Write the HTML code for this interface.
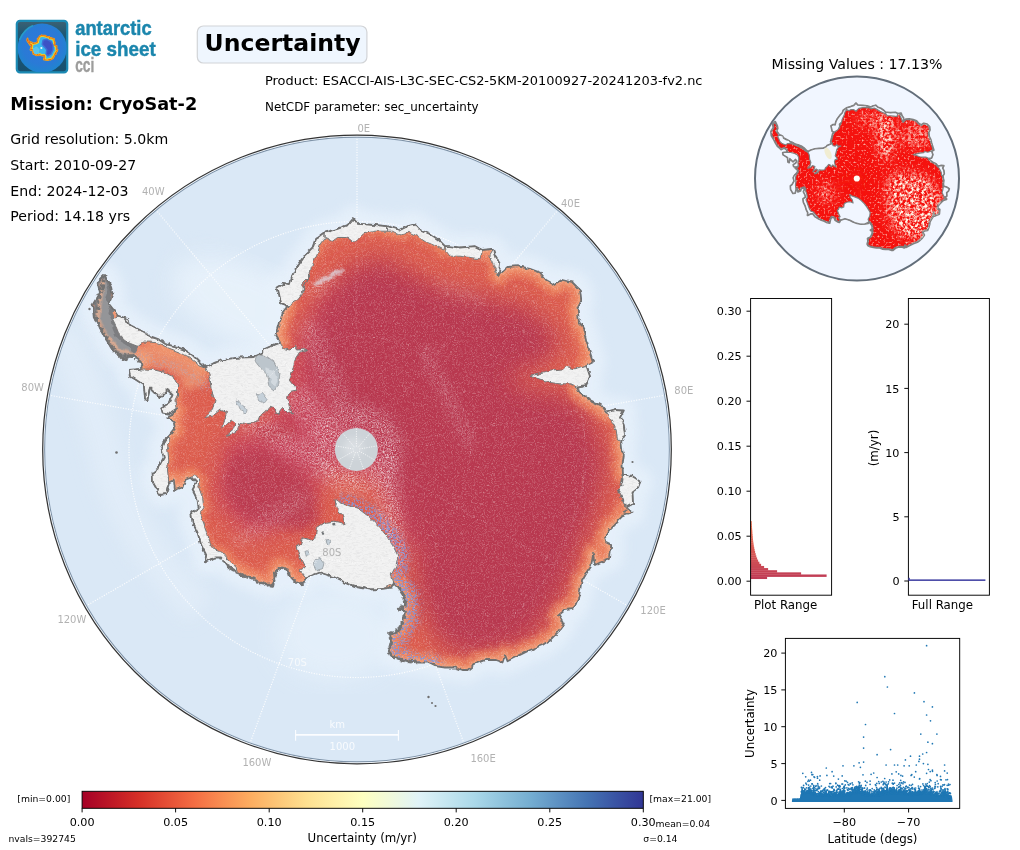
<!DOCTYPE html>
<html lang="en"><head><meta charset="utf-8"><title>Uncertainty - CryoSat-2</title>
<style>
html,body{margin:0;padding:0;background:#fff;}
body{width:1020px;height:850px;overflow:hidden;position:relative;font-family:"DejaVu Sans","Liberation Sans",sans-serif;color:#000;}
svg{position:absolute;left:0;top:0;}
svg text{font-family:"DejaVu Sans","Liberation Sans",sans-serif;}
</style></head><body>
<svg width="1020" height="850" viewBox="0 0 1020 850">
<defs>
<linearGradient id="lgbg" x1="0" y1="0" x2="0" y2="1"><stop offset="0" stop-color="#3d6173"/><stop offset="0.25" stop-color="#1f5874"/><stop offset="1" stop-color="#17506f"/></linearGradient>
<radialGradient id="lgglobe" cx="0.5" cy="0.45" r="0.55"><stop offset="0" stop-color="#2f78dc"/><stop offset="0.7" stop-color="#2a7ad6"/><stop offset="1" stop-color="#1e86cf"/></radialGradient>
<clipPath id="clogo"><path d="M105.0 275.0 L111.2 287.5 L112.5 295.0 L108.8 303.8 L113.8 310.0 L117.5 315.5 L125.0 318.0 L130.0 325.0 L140.0 330.0 L150.0 336.2 L157.5 338.8 L165.0 343.8 L175.0 346.2 L185.0 350.0 L192.5 355.0 L200.0 362.5 L205.5 367.5 L215.0 362.5 L227.5 358.8 L240.0 357.5 L252.5 357.0 L262.5 352.5 L265.0 348.8 L276.2 343.8 L280.0 342.5 L276.2 336.2 L280.0 322.5 L282.5 312.5 L287.5 306.2 L281.2 303.8 L277.5 287.5 L283.8 283.8 L290.0 285.0 L292.5 275.0 L297.5 265.0 L305.0 255.0 L312.5 247.5 L315.0 240.0 L325.0 232.5 L337.5 228.8 L347.5 225.0 L353.8 218.0 L358.8 223.8 L375.0 225.0 L387.5 226.2 L400.0 230.0 L407.5 226.2 L415.0 224.5 L420.0 230.0 L430.0 233.8 L438.8 240.0 L445.0 246.2 L450.0 246.2 L460.0 247.5 L475.0 246.2 L482.5 250.0 L492.5 248.8 L495.0 256.2 L500.0 263.8 L498.8 275.0 L507.5 267.0 L517.5 266.2 L530.0 268.8 L540.0 272.5 L546.2 280.0 L555.0 285.0 L562.5 280.0 L572.5 282.5 L580.0 290.0 L581.2 300.0 L577.5 307.5 L578.8 320.0 L583.8 330.0 L586.2 340.0 L590.0 352.5 L593.0 361.8 L586.2 365.0 L590.0 376.2 L586.2 386.2 L577.5 387.5 L580.0 392.5 L590.0 400.0 L600.0 405.0 L606.2 412.5 L615.0 410.0 L623.8 410.5 L620.0 417.5 L623.8 425.0 L625.0 435.0 L621.2 441.2 L622.5 452.0 L623.8 455.0 L622.5 465.0 L623.0 473.8 L632.5 476.2 L640.5 481.2 L637.5 488.8 L632.5 492.5 L633.0 503.8 L626.2 507.5 L632.5 513.0 L622.5 516.2 L617.5 521.2 L610.0 528.8 L605.0 536.2 L606.2 542.5 L611.2 545.0 L610.0 558.8 L600.0 562.5 L595.0 565.0 L593.0 553.8 L591.2 566.2 L586.2 573.8 L581.2 582.5 L580.0 591.2 L577.5 600.0 L573.8 608.8 L565.0 610.0 L558.8 615.0 L563.8 623.8 L557.5 632.5 L550.0 640.0 L542.5 645.0 L530.0 650.0 L517.5 656.2 L507.5 661.2 L505.0 655.0 L502.5 662.5 L495.0 660.0 L485.0 660.0 L475.0 663.8 L467.5 670.0 L462.5 670.0 L455.0 667.5 L445.0 667.5 L435.0 666.2 L427.5 662.5 L417.5 662.5 L407.5 661.2 L397.5 658.8 L391.2 656.2 L388.8 651.2 L391.2 642.5 L390.0 633.8 L398.8 630.0 L403.8 620.0 L405.0 611.2 L398.8 608.8 L405.0 605.0 L403.8 595.0 L398.8 587.5 L393.8 582.5 L391.2 587.5 L382.5 588.8 L370.0 589.5 L357.5 587.0 L345.0 582.5 L335.0 577.5 L320.0 572.5 L306.2 577.5 L302.5 583.8 L297.5 582.5 L290.0 577.5 L287.5 570.0 L278.8 567.5 L275.0 575.0 L272.5 586.2 L262.5 583.8 L255.0 580.0 L245.0 576.2 L237.5 572.5 L227.5 566.2 L221.2 557.5 L215.0 557.5 L205.0 562.5 L206.2 555.0 L201.2 545.0 L197.5 532.5 L192.5 522.5 L191.2 512.5 L198.8 507.5 L197.5 500.0 L192.5 490.0 L196.2 482.5 L191.2 477.5 L185.0 480.0 L182.5 487.5 L175.0 490.0 L173.8 480.0 L168.8 482.5 L166.2 493.8 L160.0 495.0 L153.0 482.5 L152.5 472.5 L157.5 468.8 L163.8 457.5 L161.2 447.5 L165.0 440.0 L170.0 435.0 L175.0 428.8 L173.8 422.5 L167.5 417.5 L172.5 415.0 L176.2 410.0 L170.0 413.8 L162.5 412.5 L161.2 407.5 L168.8 402.5 L172.5 395.0 L167.5 390.0 L160.0 397.5 L155.0 392.5 L150.0 387.5 L147.5 400.0 L145.0 398.8 L143.8 385.0 L136.2 380.0 L130.0 376.2 L128.8 370.0 L140.0 368.8 L142.5 366.2 L140.0 360.0 L132.5 355.0 L123.8 360.0 L120.0 356.2 L112.5 350.0 L105.0 337.5 L100.0 327.5 L93.8 317.5 L92.5 305.0 L100.0 292.5 L97.5 282.5Z"/></clipPath>
<clipPath id="clogobox"><rect x="17" y="21" width="50" height="51" rx="2"/></clipPath>
</defs>
<g id="logo">
<rect x="16.8" y="20.9" width="50.4" height="51.4" rx="3.2" fill="url(#lgbg)" stroke="#1c8ab4" stroke-width="2.2"/>
<g clip-path="url(#clogobox)">
<circle cx="42.2" cy="48.2" r="24.6" fill="url(#lgglobe)"/>
<path d="M19.5 40 Q24 29 33 25.5" stroke="#28a3c9" stroke-width="1.6" fill="none" opacity="0.8"/>
<g transform="translate(41.8 48.0) scale(0.0565) translate(-357.0 -449.5)">
<path d="M105.0 275.0 L111.2 287.5 L112.5 295.0 L108.8 303.8 L113.8 310.0 L117.5 315.5 L125.0 318.0 L130.0 325.0 L140.0 330.0 L150.0 336.2 L157.5 338.8 L165.0 343.8 L175.0 346.2 L185.0 350.0 L192.5 355.0 L200.0 362.5 L205.5 367.5 L215.0 362.5 L227.5 358.8 L240.0 357.5 L252.5 357.0 L262.5 352.5 L265.0 348.8 L276.2 343.8 L280.0 342.5 L276.2 336.2 L280.0 322.5 L282.5 312.5 L287.5 306.2 L281.2 303.8 L277.5 287.5 L283.8 283.8 L290.0 285.0 L292.5 275.0 L297.5 265.0 L305.0 255.0 L312.5 247.5 L315.0 240.0 L325.0 232.5 L337.5 228.8 L347.5 225.0 L353.8 218.0 L358.8 223.8 L375.0 225.0 L387.5 226.2 L400.0 230.0 L407.5 226.2 L415.0 224.5 L420.0 230.0 L430.0 233.8 L438.8 240.0 L445.0 246.2 L450.0 246.2 L460.0 247.5 L475.0 246.2 L482.5 250.0 L492.5 248.8 L495.0 256.2 L500.0 263.8 L498.8 275.0 L507.5 267.0 L517.5 266.2 L530.0 268.8 L540.0 272.5 L546.2 280.0 L555.0 285.0 L562.5 280.0 L572.5 282.5 L580.0 290.0 L581.2 300.0 L577.5 307.5 L578.8 320.0 L583.8 330.0 L586.2 340.0 L590.0 352.5 L593.0 361.8 L586.2 365.0 L590.0 376.2 L586.2 386.2 L577.5 387.5 L580.0 392.5 L590.0 400.0 L600.0 405.0 L606.2 412.5 L615.0 410.0 L623.8 410.5 L620.0 417.5 L623.8 425.0 L625.0 435.0 L621.2 441.2 L622.5 452.0 L623.8 455.0 L622.5 465.0 L623.0 473.8 L632.5 476.2 L640.5 481.2 L637.5 488.8 L632.5 492.5 L633.0 503.8 L626.2 507.5 L632.5 513.0 L622.5 516.2 L617.5 521.2 L610.0 528.8 L605.0 536.2 L606.2 542.5 L611.2 545.0 L610.0 558.8 L600.0 562.5 L595.0 565.0 L593.0 553.8 L591.2 566.2 L586.2 573.8 L581.2 582.5 L580.0 591.2 L577.5 600.0 L573.8 608.8 L565.0 610.0 L558.8 615.0 L563.8 623.8 L557.5 632.5 L550.0 640.0 L542.5 645.0 L530.0 650.0 L517.5 656.2 L507.5 661.2 L505.0 655.0 L502.5 662.5 L495.0 660.0 L485.0 660.0 L475.0 663.8 L467.5 670.0 L462.5 670.0 L455.0 667.5 L445.0 667.5 L435.0 666.2 L427.5 662.5 L417.5 662.5 L407.5 661.2 L397.5 658.8 L391.2 656.2 L388.8 651.2 L391.2 642.5 L390.0 633.8 L398.8 630.0 L403.8 620.0 L405.0 611.2 L398.8 608.8 L405.0 605.0 L403.8 595.0 L398.8 587.5 L393.8 582.5 L391.2 587.5 L382.5 588.8 L370.0 589.5 L357.5 587.0 L345.0 582.5 L335.0 577.5 L320.0 572.5 L306.2 577.5 L302.5 583.8 L297.5 582.5 L290.0 577.5 L287.5 570.0 L278.8 567.5 L275.0 575.0 L272.5 586.2 L262.5 583.8 L255.0 580.0 L245.0 576.2 L237.5 572.5 L227.5 566.2 L221.2 557.5 L215.0 557.5 L205.0 562.5 L206.2 555.0 L201.2 545.0 L197.5 532.5 L192.5 522.5 L191.2 512.5 L198.8 507.5 L197.5 500.0 L192.5 490.0 L196.2 482.5 L191.2 477.5 L185.0 480.0 L182.5 487.5 L175.0 490.0 L173.8 480.0 L168.8 482.5 L166.2 493.8 L160.0 495.0 L153.0 482.5 L152.5 472.5 L157.5 468.8 L163.8 457.5 L161.2 447.5 L165.0 440.0 L170.0 435.0 L175.0 428.8 L173.8 422.5 L167.5 417.5 L172.5 415.0 L176.2 410.0 L170.0 413.8 L162.5 412.5 L161.2 407.5 L168.8 402.5 L172.5 395.0 L167.5 390.0 L160.0 397.5 L155.0 392.5 L150.0 387.5 L147.5 400.0 L145.0 398.8 L143.8 385.0 L136.2 380.0 L130.0 376.2 L128.8 370.0 L140.0 368.8 L142.5 366.2 L140.0 360.0 L132.5 355.0 L123.8 360.0 L120.0 356.2 L112.5 350.0 L105.0 337.5 L100.0 327.5 L93.8 317.5 L92.5 305.0 L100.0 292.5 L97.5 282.5Z" fill="#38b6ee" stroke="#f0a21c" stroke-width="22" stroke-linejoin="round"/>
<g clip-path="url(#clogo)">
<path d="M105.0 275.0 L111.2 287.5 L112.5 295.0 L108.8 303.8 L113.8 310.0 L117.5 315.5 L125.0 318.0 L130.0 325.0 L140.0 330.0 L150.0 336.2 L157.5 338.8 L165.0 343.8 L175.0 346.2 L185.0 350.0 L192.5 355.0 L200.0 362.5 L205.5 367.5 L215.0 362.5 L227.5 358.8 L240.0 357.5 L252.5 357.0 L262.5 352.5 L265.0 348.8 L276.2 343.8 L280.0 342.5 L276.2 336.2 L280.0 322.5 L282.5 312.5 L287.5 306.2 L281.2 303.8 L277.5 287.5 L283.8 283.8 L290.0 285.0 L292.5 275.0 L297.5 265.0 L305.0 255.0 L312.5 247.5 L315.0 240.0 L325.0 232.5 L337.5 228.8 L347.5 225.0 L353.8 218.0 L358.8 223.8 L375.0 225.0 L387.5 226.2 L400.0 230.0 L407.5 226.2 L415.0 224.5 L420.0 230.0 L430.0 233.8 L438.8 240.0 L445.0 246.2 L450.0 246.2 L460.0 247.5 L475.0 246.2 L482.5 250.0 L492.5 248.8 L495.0 256.2 L500.0 263.8 L498.8 275.0 L507.5 267.0 L517.5 266.2 L530.0 268.8 L540.0 272.5 L546.2 280.0 L555.0 285.0 L562.5 280.0 L572.5 282.5 L580.0 290.0 L581.2 300.0 L577.5 307.5 L578.8 320.0 L583.8 330.0 L586.2 340.0 L590.0 352.5 L593.0 361.8 L586.2 365.0 L590.0 376.2 L586.2 386.2 L577.5 387.5 L580.0 392.5 L590.0 400.0 L600.0 405.0 L606.2 412.5 L615.0 410.0 L623.8 410.5 L620.0 417.5 L623.8 425.0 L625.0 435.0 L621.2 441.2 L622.5 452.0 L623.8 455.0 L622.5 465.0 L623.0 473.8 L632.5 476.2 L640.5 481.2 L637.5 488.8 L632.5 492.5 L633.0 503.8 L626.2 507.5 L632.5 513.0 L622.5 516.2 L617.5 521.2 L610.0 528.8 L605.0 536.2 L606.2 542.5 L611.2 545.0 L610.0 558.8 L600.0 562.5 L595.0 565.0 L593.0 553.8 L591.2 566.2 L586.2 573.8 L581.2 582.5 L580.0 591.2 L577.5 600.0 L573.8 608.8 L565.0 610.0 L558.8 615.0 L563.8 623.8 L557.5 632.5 L550.0 640.0 L542.5 645.0 L530.0 650.0 L517.5 656.2 L507.5 661.2 L505.0 655.0 L502.5 662.5 L495.0 660.0 L485.0 660.0 L475.0 663.8 L467.5 670.0 L462.5 670.0 L455.0 667.5 L445.0 667.5 L435.0 666.2 L427.5 662.5 L417.5 662.5 L407.5 661.2 L397.5 658.8 L391.2 656.2 L388.8 651.2 L391.2 642.5 L390.0 633.8 L398.8 630.0 L403.8 620.0 L405.0 611.2 L398.8 608.8 L405.0 605.0 L403.8 595.0 L398.8 587.5 L393.8 582.5 L391.2 587.5 L382.5 588.8 L370.0 589.5 L357.5 587.0 L345.0 582.5 L335.0 577.5 L320.0 572.5 L306.2 577.5 L302.5 583.8 L297.5 582.5 L290.0 577.5 L287.5 570.0 L278.8 567.5 L275.0 575.0 L272.5 586.2 L262.5 583.8 L255.0 580.0 L245.0 576.2 L237.5 572.5 L227.5 566.2 L221.2 557.5 L215.0 557.5 L205.0 562.5 L206.2 555.0 L201.2 545.0 L197.5 532.5 L192.5 522.5 L191.2 512.5 L198.8 507.5 L197.5 500.0 L192.5 490.0 L196.2 482.5 L191.2 477.5 L185.0 480.0 L182.5 487.5 L175.0 490.0 L173.8 480.0 L168.8 482.5 L166.2 493.8 L160.0 495.0 L153.0 482.5 L152.5 472.5 L157.5 468.8 L163.8 457.5 L161.2 447.5 L165.0 440.0 L170.0 435.0 L175.0 428.8 L173.8 422.5 L167.5 417.5 L172.5 415.0 L176.2 410.0 L170.0 413.8 L162.5 412.5 L161.2 407.5 L168.8 402.5 L172.5 395.0 L167.5 390.0 L160.0 397.5 L155.0 392.5 L150.0 387.5 L147.5 400.0 L145.0 398.8 L143.8 385.0 L136.2 380.0 L130.0 376.2 L128.8 370.0 L140.0 368.8 L142.5 366.2 L140.0 360.0 L132.5 355.0 L123.8 360.0 L120.0 356.2 L112.5 350.0 L105.0 337.5 L100.0 327.5 L93.8 317.5 L92.5 305.0 L100.0 292.5 L97.5 282.5Z" fill="none" stroke="#f3d21f" stroke-width="60" stroke-linejoin="round"/>
<path d="M105.0 275.0 L111.2 287.5 L112.5 295.0 L108.8 303.8 L113.8 310.0 L117.5 315.5 L125.0 318.0 L130.0 325.0 L140.0 330.0 L150.0 336.2 L157.5 338.8 L165.0 343.8 L175.0 346.2 L185.0 350.0 L192.5 355.0 L200.0 362.5 L205.5 367.5 L215.0 362.5 L227.5 358.8 L240.0 357.5 L252.5 357.0 L262.5 352.5 L265.0 348.8 L276.2 343.8 L280.0 342.5 L276.2 336.2 L280.0 322.5 L282.5 312.5 L287.5 306.2 L281.2 303.8 L277.5 287.5 L283.8 283.8 L290.0 285.0 L292.5 275.0 L297.5 265.0 L305.0 255.0 L312.5 247.5 L315.0 240.0 L325.0 232.5 L337.5 228.8 L347.5 225.0 L353.8 218.0 L358.8 223.8 L375.0 225.0 L387.5 226.2 L400.0 230.0 L407.5 226.2 L415.0 224.5 L420.0 230.0 L430.0 233.8 L438.8 240.0 L445.0 246.2 L450.0 246.2 L460.0 247.5 L475.0 246.2 L482.5 250.0 L492.5 248.8 L495.0 256.2 L500.0 263.8 L498.8 275.0 L507.5 267.0 L517.5 266.2 L530.0 268.8 L540.0 272.5 L546.2 280.0 L555.0 285.0 L562.5 280.0 L572.5 282.5 L580.0 290.0 L581.2 300.0 L577.5 307.5 L578.8 320.0 L583.8 330.0 L586.2 340.0 L590.0 352.5 L593.0 361.8 L586.2 365.0 L590.0 376.2 L586.2 386.2 L577.5 387.5 L580.0 392.5 L590.0 400.0 L600.0 405.0 L606.2 412.5 L615.0 410.0 L623.8 410.5 L620.0 417.5 L623.8 425.0 L625.0 435.0 L621.2 441.2 L622.5 452.0 L623.8 455.0 L622.5 465.0 L623.0 473.8 L632.5 476.2 L640.5 481.2 L637.5 488.8 L632.5 492.5 L633.0 503.8 L626.2 507.5 L632.5 513.0 L622.5 516.2 L617.5 521.2 L610.0 528.8 L605.0 536.2 L606.2 542.5 L611.2 545.0 L610.0 558.8 L600.0 562.5 L595.0 565.0 L593.0 553.8 L591.2 566.2 L586.2 573.8 L581.2 582.5 L580.0 591.2 L577.5 600.0 L573.8 608.8 L565.0 610.0 L558.8 615.0 L563.8 623.8 L557.5 632.5 L550.0 640.0 L542.5 645.0 L530.0 650.0 L517.5 656.2 L507.5 661.2 L505.0 655.0 L502.5 662.5 L495.0 660.0 L485.0 660.0 L475.0 663.8 L467.5 670.0 L462.5 670.0 L455.0 667.5 L445.0 667.5 L435.0 666.2 L427.5 662.5 L417.5 662.5 L407.5 661.2 L397.5 658.8 L391.2 656.2 L388.8 651.2 L391.2 642.5 L390.0 633.8 L398.8 630.0 L403.8 620.0 L405.0 611.2 L398.8 608.8 L405.0 605.0 L403.8 595.0 L398.8 587.5 L393.8 582.5 L391.2 587.5 L382.5 588.8 L370.0 589.5 L357.5 587.0 L345.0 582.5 L335.0 577.5 L320.0 572.5 L306.2 577.5 L302.5 583.8 L297.5 582.5 L290.0 577.5 L287.5 570.0 L278.8 567.5 L275.0 575.0 L272.5 586.2 L262.5 583.8 L255.0 580.0 L245.0 576.2 L237.5 572.5 L227.5 566.2 L221.2 557.5 L215.0 557.5 L205.0 562.5 L206.2 555.0 L201.2 545.0 L197.5 532.5 L192.5 522.5 L191.2 512.5 L198.8 507.5 L197.5 500.0 L192.5 490.0 L196.2 482.5 L191.2 477.5 L185.0 480.0 L182.5 487.5 L175.0 490.0 L173.8 480.0 L168.8 482.5 L166.2 493.8 L160.0 495.0 L153.0 482.5 L152.5 472.5 L157.5 468.8 L163.8 457.5 L161.2 447.5 L165.0 440.0 L170.0 435.0 L175.0 428.8 L173.8 422.5 L167.5 417.5 L172.5 415.0 L176.2 410.0 L170.0 413.8 L162.5 412.5 L161.2 407.5 L168.8 402.5 L172.5 395.0 L167.5 390.0 L160.0 397.5 L155.0 392.5 L150.0 387.5 L147.5 400.0 L145.0 398.8 L143.8 385.0 L136.2 380.0 L130.0 376.2 L128.8 370.0 L140.0 368.8 L142.5 366.2 L140.0 360.0 L132.5 355.0 L123.8 360.0 L120.0 356.2 L112.5 350.0 L105.0 337.5 L100.0 327.5 L93.8 317.5 L92.5 305.0 L100.0 292.5 L97.5 282.5Z" fill="none" stroke="#e8541c" stroke-width="22" stroke-linejoin="round"/>
<path d="M380 310 L450 295 L520 335 L555 400 L555 480 L520 555 L465 590 L435 555 L445 480 L405 430 L365 385 Z" fill="#3c52c6" stroke="#3f6fd8" stroke-width="26" stroke-linejoin="round"/>
<path d="M210 470 L260 440 L300 480 L290 540 L240 540 Z" fill="#58c4ee" stroke="#58c4ee" stroke-width="30" stroke-linejoin="round"/>
</g>
<circle cx="349.0" cy="449.5" r="19" fill="#f4fafc"/>
</g>
</g>
<text x="75.2" y="34.6" font-size="20.5" font-weight="bold" fill="#1b86ad" stroke="#1b86ad" stroke-width="0.45" textLength="76.5" lengthAdjust="spacingAndGlyphs" style="font-family:'Liberation Sans','DejaVu Sans',sans-serif">antarctic</text>
<text x="75.2" y="55.6" font-size="20.5" font-weight="bold" fill="#1b86ad" stroke="#1b86ad" stroke-width="0.45" textLength="80.5" lengthAdjust="spacingAndGlyphs" style="font-family:'Liberation Sans','DejaVu Sans',sans-serif">ice sheet</text>
<text x="75.2" y="72" font-size="20.5" font-weight="bold" fill="#9d9d9c" stroke="#9d9d9c" stroke-width="0.4" textLength="19.2" lengthAdjust="spacingAndGlyphs" style="font-family:'Liberation Sans','DejaVu Sans',sans-serif">cci</text>
</g>
<g id="header">
<rect x="197.3" y="26" width="169.6" height="37" rx="6" ry="6" fill="#eff6fe" stroke="#d2d4d7" stroke-width="1.2"/>
<text x="204.6" y="51.2" font-size="23.55" font-weight="bold">Uncertainty</text>
<text x="265" y="85" font-size="12.95">Product: ESACCI-AIS-L3C-SEC-CS2-5KM-20100927-20241203-fv2.nc</text>
<text x="265" y="111" font-size="11.9">NetCDF parameter: sec_uncertainty</text>
<text x="10.3" y="109.7" font-size="17.7" font-weight="bold">Mission: CryoSat-2</text>
<text x="10.3" y="144.1" font-size="14.13">Grid resolution: 5.0km</text>
<text x="10.3" y="169.9" font-size="14.13">Start: 2010-09-27</text>
<text x="10.3" y="195.7" font-size="14.13">End: 2024-12-03</text>
<text x="10.3" y="221.2" font-size="14.13">Period: 14.18 yrs</text>
</g>
<defs>
<clipPath id="cmap"><circle cx="357.0" cy="449.5" r="314.0"/></clipPath>
<clipPath id="cland"><path d="M105.0 275.0 L111.2 287.5 L112.5 295.0 L108.8 303.8 L113.8 310.0 L117.5 315.5 L125.0 318.0 L130.0 325.0 L140.0 330.0 L150.0 336.2 L157.5 338.8 L165.0 343.8 L175.0 346.2 L185.0 350.0 L192.5 355.0 L200.0 362.5 L205.5 367.5 L215.0 362.5 L227.5 358.8 L240.0 357.5 L252.5 357.0 L262.5 352.5 L265.0 348.8 L276.2 343.8 L280.0 342.5 L276.2 336.2 L280.0 322.5 L282.5 312.5 L287.5 306.2 L281.2 303.8 L277.5 287.5 L283.8 283.8 L290.0 285.0 L292.5 275.0 L297.5 265.0 L305.0 255.0 L312.5 247.5 L315.0 240.0 L325.0 232.5 L337.5 228.8 L347.5 225.0 L353.8 218.0 L358.8 223.8 L375.0 225.0 L387.5 226.2 L400.0 230.0 L407.5 226.2 L415.0 224.5 L420.0 230.0 L430.0 233.8 L438.8 240.0 L445.0 246.2 L450.0 246.2 L460.0 247.5 L475.0 246.2 L482.5 250.0 L492.5 248.8 L495.0 256.2 L500.0 263.8 L498.8 275.0 L507.5 267.0 L517.5 266.2 L530.0 268.8 L540.0 272.5 L546.2 280.0 L555.0 285.0 L562.5 280.0 L572.5 282.5 L580.0 290.0 L581.2 300.0 L577.5 307.5 L578.8 320.0 L583.8 330.0 L586.2 340.0 L590.0 352.5 L593.0 361.8 L586.2 365.0 L590.0 376.2 L586.2 386.2 L577.5 387.5 L580.0 392.5 L590.0 400.0 L600.0 405.0 L606.2 412.5 L615.0 410.0 L623.8 410.5 L620.0 417.5 L623.8 425.0 L625.0 435.0 L621.2 441.2 L622.5 452.0 L623.8 455.0 L622.5 465.0 L623.0 473.8 L632.5 476.2 L640.5 481.2 L637.5 488.8 L632.5 492.5 L633.0 503.8 L626.2 507.5 L632.5 513.0 L622.5 516.2 L617.5 521.2 L610.0 528.8 L605.0 536.2 L606.2 542.5 L611.2 545.0 L610.0 558.8 L600.0 562.5 L595.0 565.0 L593.0 553.8 L591.2 566.2 L586.2 573.8 L581.2 582.5 L580.0 591.2 L577.5 600.0 L573.8 608.8 L565.0 610.0 L558.8 615.0 L563.8 623.8 L557.5 632.5 L550.0 640.0 L542.5 645.0 L530.0 650.0 L517.5 656.2 L507.5 661.2 L505.0 655.0 L502.5 662.5 L495.0 660.0 L485.0 660.0 L475.0 663.8 L467.5 670.0 L462.5 670.0 L455.0 667.5 L445.0 667.5 L435.0 666.2 L427.5 662.5 L417.5 662.5 L407.5 661.2 L397.5 658.8 L391.2 656.2 L388.8 651.2 L391.2 642.5 L390.0 633.8 L398.8 630.0 L403.8 620.0 L405.0 611.2 L398.8 608.8 L405.0 605.0 L403.8 595.0 L398.8 587.5 L393.8 582.5 L391.2 587.5 L382.5 588.8 L370.0 589.5 L357.5 587.0 L345.0 582.5 L335.0 577.5 L320.0 572.5 L306.2 577.5 L302.5 583.8 L297.5 582.5 L290.0 577.5 L287.5 570.0 L278.8 567.5 L275.0 575.0 L272.5 586.2 L262.5 583.8 L255.0 580.0 L245.0 576.2 L237.5 572.5 L227.5 566.2 L221.2 557.5 L215.0 557.5 L205.0 562.5 L206.2 555.0 L201.2 545.0 L197.5 532.5 L192.5 522.5 L191.2 512.5 L198.8 507.5 L197.5 500.0 L192.5 490.0 L196.2 482.5 L191.2 477.5 L185.0 480.0 L182.5 487.5 L175.0 490.0 L173.8 480.0 L168.8 482.5 L166.2 493.8 L160.0 495.0 L153.0 482.5 L152.5 472.5 L157.5 468.8 L163.8 457.5 L161.2 447.5 L165.0 440.0 L170.0 435.0 L175.0 428.8 L173.8 422.5 L167.5 417.5 L172.5 415.0 L176.2 410.0 L170.0 413.8 L162.5 412.5 L161.2 407.5 L168.8 402.5 L172.5 395.0 L167.5 390.0 L160.0 397.5 L155.0 392.5 L150.0 387.5 L147.5 400.0 L145.0 398.8 L143.8 385.0 L136.2 380.0 L130.0 376.2 L128.8 370.0 L140.0 368.8 L142.5 366.2 L140.0 360.0 L132.5 355.0 L123.8 360.0 L120.0 356.2 L112.5 350.0 L105.0 337.5 L100.0 327.5 L93.8 317.5 L92.5 305.0 L100.0 292.5 L97.5 282.5Z"/></clipPath>
<clipPath id="cshelf"><path d="M205.5 367.5 L215.0 362.5 L227.5 358.8 L240.0 357.5 L252.5 357.0 L262.5 352.5 L265.0 348.8 L276.2 343.8 L280.0 342.5 L283.8 348.8 L290.0 350.0 L295.0 345.0 L297.5 350.0 L307.5 349.5 L300.0 352.5 L295.0 360.0 L292.5 370.0 L290.0 380.0 L295.0 386.2 L296.2 390.0 L290.0 391.2 L287.5 397.5 L290.0 410.0 L292.5 413.8 L287.5 412.5 L282.5 407.5 L277.5 413.8 L273.8 407.5 L270.0 406.2 L265.0 412.5 L260.0 416.2 L257.5 422.5 L247.5 423.8 L240.0 422.5 L238.8 428.8 L232.5 433.8 L226.2 435.0 L233.8 428.8 L235.0 422.5 L231.2 420.0 L226.2 425.0 L221.2 428.8 L225.0 420.0 L227.5 412.5 L220.0 410.0 L212.5 416.2 L205.0 417.5 L212.5 410.0 L215.0 400.0 L211.2 390.0 L210.0 377.5Z M112.5 320.0 L118.0 316.0 L129.0 318.7 L130.4 325.6 L140.0 331.0 L148.3 332.5 L151.0 338.0 L159.3 339.3 L170.4 344.8 L181.4 349.0 L189.6 353.1 L199.3 361.4 L204.8 366.9 L198.0 364.5 L188.0 356.5 L179.5 352.2 L168.5 348.0 L157.5 342.8 L149.7 342.1 L142.8 342.1 L137.3 346.2 L130.4 343.5 L125.0 340.7 L119.4 335.2 L116.7 328.3Z M128.8 370.0 L140.0 368.8 L152.5 369.5 L165.0 372.5 L173.8 377.5 L177.5 385.0 L177.5 395.0 L175.0 400.0 L176.2 410.0 L170.0 413.8 L162.5 412.5 L161.2 407.5 L168.8 402.5 L172.5 395.0 L167.5 390.0 L160.0 397.5 L155.0 392.5 L150.0 387.5 L147.5 400.0 L145.0 398.8 L143.8 385.0 L136.2 380.0 L130.0 376.2Z M287.5 306.2 L281.2 303.8 L277.5 287.5 L283.8 283.8 L290.0 285.0 L292.5 275.0 L297.5 265.0 L305.0 255.0 L312.5 247.5 L315.0 240.0 L325.0 232.5 L325.0 237.5 L320.0 245.0 L317.5 253.8 L311.2 267.5 L310.0 275.0 L305.0 285.0 L300.0 296.2 L310.0 275.0 L302.5 282.5 L303.8 292.5 L297.5 300.0Z M325.0 232.5 L337.5 228.8 L347.5 225.0 L353.8 218.0 L358.8 223.8 L375.0 225.0 L387.5 226.2 L387.5 231.2 L375.0 231.2 L362.5 233.8 L353.8 242.5 L347.5 237.5 L337.5 237.5 L332.5 241.2 L325.0 237.5Z M387.5 226.2 L400.0 230.0 L407.5 226.2 L415.0 224.5 L420.0 230.0 L430.0 233.8 L438.8 240.0 L445.0 246.2 L443.8 250.0 L436.2 246.2 L427.5 242.5 L420.0 237.5 L410.0 232.5 L400.0 235.0 L392.5 231.2 L387.5 231.2Z M445.0 246.2 L450.0 246.2 L460.0 247.5 L475.0 246.2 L482.5 250.0 L480.0 258.8 L470.0 257.5 L460.0 256.2 L450.0 256.2 L446.2 251.2Z M492.5 248.8 L495.0 256.2 L500.0 263.8 L498.8 275.0 L496.2 272.5 L492.5 262.5 L488.8 255.0Z M530.0 376.2 L540.0 373.8 L550.0 371.2 L562.5 370.0 L565.0 366.2 L575.0 368.8 L586.2 365.0 L590.0 376.2 L586.2 386.2 L577.5 387.5 L570.0 383.8 L560.0 383.8 L550.0 382.5 L540.0 378.8Z M606.2 412.5 L615.0 410.0 L623.8 410.5 L620.0 417.5 L623.8 425.0 L625.0 435.0 L621.2 441.2 L617.5 440.0 L616.2 430.0 L612.5 422.5 L608.8 416.2Z M623.0 473.8 L632.5 476.2 L640.5 481.2 L637.5 488.8 L632.5 492.5 L633.0 503.8 L626.2 507.5 L622.5 500.0 L618.8 492.5 L621.2 485.0Z M306.2 577.5 L320.0 572.5 L335.0 577.5 L350.0 585.0 L365.0 588.8 L380.0 589.5 L390.0 585.0 L393.8 582.5 L391.2 575.0 L396.2 565.0 L397.5 555.0 L393.8 547.5 L387.5 537.5 L380.0 527.5 L370.0 517.5 L360.0 510.0 L350.0 506.2 L340.0 502.5 L335.0 498.8 L336.2 507.5 L342.5 515.0 L345.0 525.0 L340.0 522.5 L333.8 521.2 L325.0 522.5 L317.5 527.5 L316.2 537.5 L310.0 540.0 L302.5 537.5 L300.0 545.0 L296.2 547.5 L300.0 557.5 L305.0 567.5 L300.0 570.0Z M165.0 437.5 L161.2 447.5 L163.8 457.5 L157.5 468.8 L152.5 472.5 L153.0 482.5 L160.0 495.0 L166.2 493.8 L168.8 482.5 L167.5 470.0 L168.8 460.0 L167.5 447.5 L170.0 437.5Z M191.2 477.5 L196.2 482.5 L192.5 490.0 L197.5 500.0 L198.8 507.5 L191.2 512.5 L192.5 522.5 L197.5 532.5 L201.2 545.0 L206.2 555.0 L205.0 562.5 L215.0 557.5 L221.2 557.5 L227.5 566.2 L237.5 572.5 L236.2 567.5 L228.8 560.0 L222.5 552.5 L215.0 550.0 L211.2 545.0 L207.5 535.0 L203.8 525.0 L200.0 515.0 L203.8 507.5 L202.5 497.5 L198.8 487.5 L200.0 481.2 L195.0 475.5Z"/></clipPath>
<filter id="b12" x="-15%" y="-15%" width="130%" height="130%"><feGaussianBlur stdDeviation="12"/></filter>
<filter id="b9" x="-15%" y="-15%" width="130%" height="130%"><feGaussianBlur stdDeviation="9"/></filter>
<filter id="b6" x="-15%" y="-15%" width="130%" height="130%"><feGaussianBlur stdDeviation="6"/></filter>
<filter id="b3" x="-15%" y="-15%" width="130%" height="130%"><feGaussianBlur stdDeviation="3"/></filter>
<filter id="b2" x="-15%" y="-15%" width="130%" height="130%"><feGaussianBlur stdDeviation="2"/></filter>
<filter id="b1" x="-15%" y="-15%" width="130%" height="130%"><feGaussianBlur stdDeviation="1"/></filter>
<filter id="noise" x="0" y="0" width="100%" height="100%"><feTurbulence type="fractalNoise" baseFrequency="0.9" numOctaves="2" seed="3"/><feColorMatrix type="matrix" values="0 0 0 0 1  0 0 0 0 0.9  0 0 0 0 0.86  1.6 0 0 0 -0.75"/></filter>
<filter id="noisew" x="0" y="0" width="100%" height="100%"><feTurbulence type="fractalNoise" baseFrequency="0.8" numOctaves="2" seed="14"/><feColorMatrix type="matrix" values="0 0 0 0 0.95  0 0 0 0 0.93  0 0 0 0 0.95  0 2.4 0 0 -0.95"/></filter>
<filter id="noiseb" x="0" y="0" width="100%" height="100%"><feTurbulence type="fractalNoise" baseFrequency="0.55" numOctaves="2" seed="5"/><feColorMatrix type="matrix" values="0 0 0 0 0.25  0 0 0 0 0.30  0 0 0 0 0.66  0 0 7 0 -3.3"/></filter>
<filter id="noiseg" x="0" y="0" width="100%" height="100%"><feTurbulence type="fractalNoise" baseFrequency="0.25 0.9" numOctaves="2" seed="9"/><feColorMatrix type="matrix" values="0 0 0 0 0.55  0 0 0 0 0.55  0 0 0 0 0.56  0 1.8 0 0 -0.8"/></filter>
<filter id="rough" filterUnits="userSpaceOnUse" x="40" y="130" width="640" height="640"><feTurbulence type="fractalNoise" baseFrequency="0.16" numOctaves="2" seed="2" result="t"/><feDisplacementMap in="SourceGraphic" in2="t" scale="4.5" xChannelSelector="R" yChannelSelector="G"/></filter>
<mask id="mblue" maskUnits="userSpaceOnUse" x="40" y="130" width="640" height="640"><rect x="40" y="130" width="640" height="640" fill="#000"/><g filter="url(#b3)" fill="none" stroke="#fff" stroke-linejoin="round" stroke-linecap="round"><path d="M398.8 581.5 L396.2 574.0 L401.2 564.0 L402.5 554.0 L398.8 546.5 L392.5 536.5 L385.0 526.5 L375.0 516.5 L365.0 509.0 L355.0 505.2 L345.0 501.5" stroke-width="13"/><path d="M400.8 582.5 L405.8 587.5 L410.8 595.0 L412.0 605.0 L405.8 608.8 L412.0 611.2 L410.8 620.0 L405.8 630.0 L397.0 633.8 L398.2 642.5 L395.8 651.2 L398.2 656.2 L404.5 658.8 L414.5 661.2 L434.5 663.8" stroke-width="16"/><path d="M103.0 280.0 L100.0 300.0 L98.0 320.0 L106.0 335.0 L118.0 350.0 L135.0 355.0 L160.0 362.0 L185.0 370.0 L205.0 385.0" stroke-width="7" opacity="0.8"/><path d="M232 372 L262 368" stroke-width="5" opacity="0.8"/><path d="M270 600 L330 608" stroke-width="6" opacity="0.5"/></g></mask>
<mask id="mwhite" maskUnits="userSpaceOnUse" x="40" y="130" width="640" height="640"><rect x="40" y="130" width="640" height="640" fill="#000"/><g filter="url(#b6)" fill="none" stroke="#fff" stroke-linecap="round"><circle cx="357.0" cy="449.5" r="33" stroke-width="24" opacity="0.8"/><path d="M312 292 L332 276" stroke-width="9"/><path d="M385 455 L395 560" stroke-width="22" opacity="0.9"/><path d="M300 400 L330 440" stroke-width="26" opacity="0.7"/><path d="M250 420 L330 470" stroke-width="22" opacity="0.7"/><path d="M425 350 L470 445" stroke-width="10" opacity="0.6"/><path d="M440 285 L480 300" stroke-width="8" opacity="0.6"/><path d="M310 330 L340 400" stroke-width="20" opacity="0.55"/><path d="M240 540 L300 500" stroke-width="16" opacity="0.5"/></g></mask>
</defs>
<g id="mainmap">
<circle cx="357.0" cy="449.5" r="314.0" fill="#dae8f6"/>
<g clip-path="url(#cmap)">
<path d="M105.0 275.0 L111.2 287.5 L112.5 295.0 L108.8 303.8 L113.8 310.0 L117.5 315.5 L125.0 318.0 L130.0 325.0 L140.0 330.0 L150.0 336.2 L157.5 338.8 L165.0 343.8 L175.0 346.2 L185.0 350.0 L192.5 355.0 L200.0 362.5 L205.5 367.5 L215.0 362.5 L227.5 358.8 L240.0 357.5 L252.5 357.0 L262.5 352.5 L265.0 348.8 L276.2 343.8 L280.0 342.5 L276.2 336.2 L280.0 322.5 L282.5 312.5 L287.5 306.2 L281.2 303.8 L277.5 287.5 L283.8 283.8 L290.0 285.0 L292.5 275.0 L297.5 265.0 L305.0 255.0 L312.5 247.5 L315.0 240.0 L325.0 232.5 L337.5 228.8 L347.5 225.0 L353.8 218.0 L358.8 223.8 L375.0 225.0 L387.5 226.2 L400.0 230.0 L407.5 226.2 L415.0 224.5 L420.0 230.0 L430.0 233.8 L438.8 240.0 L445.0 246.2 L450.0 246.2 L460.0 247.5 L475.0 246.2 L482.5 250.0 L492.5 248.8 L495.0 256.2 L500.0 263.8 L498.8 275.0 L507.5 267.0 L517.5 266.2 L530.0 268.8 L540.0 272.5 L546.2 280.0 L555.0 285.0 L562.5 280.0 L572.5 282.5 L580.0 290.0 L581.2 300.0 L577.5 307.5 L578.8 320.0 L583.8 330.0 L586.2 340.0 L590.0 352.5 L593.0 361.8 L586.2 365.0 L590.0 376.2 L586.2 386.2 L577.5 387.5 L580.0 392.5 L590.0 400.0 L600.0 405.0 L606.2 412.5 L615.0 410.0 L623.8 410.5 L620.0 417.5 L623.8 425.0 L625.0 435.0 L621.2 441.2 L622.5 452.0 L623.8 455.0 L622.5 465.0 L623.0 473.8 L632.5 476.2 L640.5 481.2 L637.5 488.8 L632.5 492.5 L633.0 503.8 L626.2 507.5 L632.5 513.0 L622.5 516.2 L617.5 521.2 L610.0 528.8 L605.0 536.2 L606.2 542.5 L611.2 545.0 L610.0 558.8 L600.0 562.5 L595.0 565.0 L593.0 553.8 L591.2 566.2 L586.2 573.8 L581.2 582.5 L580.0 591.2 L577.5 600.0 L573.8 608.8 L565.0 610.0 L558.8 615.0 L563.8 623.8 L557.5 632.5 L550.0 640.0 L542.5 645.0 L530.0 650.0 L517.5 656.2 L507.5 661.2 L505.0 655.0 L502.5 662.5 L495.0 660.0 L485.0 660.0 L475.0 663.8 L467.5 670.0 L462.5 670.0 L455.0 667.5 L445.0 667.5 L435.0 666.2 L427.5 662.5 L417.5 662.5 L407.5 661.2 L397.5 658.8 L391.2 656.2 L388.8 651.2 L391.2 642.5 L390.0 633.8 L398.8 630.0 L403.8 620.0 L405.0 611.2 L398.8 608.8 L405.0 605.0 L403.8 595.0 L398.8 587.5 L393.8 582.5 L391.2 587.5 L382.5 588.8 L370.0 589.5 L357.5 587.0 L345.0 582.5 L335.0 577.5 L320.0 572.5 L306.2 577.5 L302.5 583.8 L297.5 582.5 L290.0 577.5 L287.5 570.0 L278.8 567.5 L275.0 575.0 L272.5 586.2 L262.5 583.8 L255.0 580.0 L245.0 576.2 L237.5 572.5 L227.5 566.2 L221.2 557.5 L215.0 557.5 L205.0 562.5 L206.2 555.0 L201.2 545.0 L197.5 532.5 L192.5 522.5 L191.2 512.5 L198.8 507.5 L197.5 500.0 L192.5 490.0 L196.2 482.5 L191.2 477.5 L185.0 480.0 L182.5 487.5 L175.0 490.0 L173.8 480.0 L168.8 482.5 L166.2 493.8 L160.0 495.0 L153.0 482.5 L152.5 472.5 L157.5 468.8 L163.8 457.5 L161.2 447.5 L165.0 440.0 L170.0 435.0 L175.0 428.8 L173.8 422.5 L167.5 417.5 L172.5 415.0 L176.2 410.0 L170.0 413.8 L162.5 412.5 L161.2 407.5 L168.8 402.5 L172.5 395.0 L167.5 390.0 L160.0 397.5 L155.0 392.5 L150.0 387.5 L147.5 400.0 L145.0 398.8 L143.8 385.0 L136.2 380.0 L130.0 376.2 L128.8 370.0 L140.0 368.8 L142.5 366.2 L140.0 360.0 L132.5 355.0 L123.8 360.0 L120.0 356.2 L112.5 350.0 L105.0 337.5 L100.0 327.5 L93.8 317.5 L92.5 305.0 L100.0 292.5 L97.5 282.5Z" fill="#e7f1fb" stroke="#e7f1fb" stroke-width="26" stroke-linejoin="round" filter="url(#b6)" opacity="0.85"/>
<ellipse cx="245" cy="305" rx="78" ry="38" transform="rotate(25 245 305)" fill="#e8f2fb" filter="url(#b12)" opacity="0.9"/>
<ellipse cx="335" cy="635" rx="60" ry="45" fill="#e6f1fb" filter="url(#b12)" opacity="0.8"/>
<path d="M60 330 Q95 400 110 470 Q130 540 200 610" fill="none" stroke="#e6f0fa" stroke-width="34" filter="url(#b9)" opacity="0.55"/>
<path d="M357.0 449.5 L357.0 135.5 M357.0 449.5 L558.8 209.0 M357.0 449.5 L666.2 395.0 M357.0 449.5 L628.9 606.5 M357.0 449.5 L464.4 744.6 M357.0 449.5 L249.6 744.6 M357.0 449.5 L85.1 606.5 M357.0 449.5 L47.8 395.0 M357.0 449.5 L155.2 209.0" fill="none" stroke="#fff" stroke-width="1.15" stroke-dasharray="1.1 1.5" opacity="0.95"/>
<circle cx="357.0" cy="449.5" r="113.5" fill="none" stroke="#fff" stroke-width="1.15" stroke-dasharray="1.1 1.5" opacity="0.95"/>
<circle cx="357.0" cy="449.5" r="228.0" fill="none" stroke="#fff" stroke-width="1.15" stroke-dasharray="1.1 1.5" opacity="0.95"/>
<g filter="url(#rough)">
<path d="M105.0 275.0 L111.2 287.5 L112.5 295.0 L108.8 303.8 L113.8 310.0 L117.5 315.5 L125.0 318.0 L130.0 325.0 L140.0 330.0 L150.0 336.2 L157.5 338.8 L165.0 343.8 L175.0 346.2 L185.0 350.0 L192.5 355.0 L200.0 362.5 L205.5 367.5 L215.0 362.5 L227.5 358.8 L240.0 357.5 L252.5 357.0 L262.5 352.5 L265.0 348.8 L276.2 343.8 L280.0 342.5 L276.2 336.2 L280.0 322.5 L282.5 312.5 L287.5 306.2 L281.2 303.8 L277.5 287.5 L283.8 283.8 L290.0 285.0 L292.5 275.0 L297.5 265.0 L305.0 255.0 L312.5 247.5 L315.0 240.0 L325.0 232.5 L337.5 228.8 L347.5 225.0 L353.8 218.0 L358.8 223.8 L375.0 225.0 L387.5 226.2 L400.0 230.0 L407.5 226.2 L415.0 224.5 L420.0 230.0 L430.0 233.8 L438.8 240.0 L445.0 246.2 L450.0 246.2 L460.0 247.5 L475.0 246.2 L482.5 250.0 L492.5 248.8 L495.0 256.2 L500.0 263.8 L498.8 275.0 L507.5 267.0 L517.5 266.2 L530.0 268.8 L540.0 272.5 L546.2 280.0 L555.0 285.0 L562.5 280.0 L572.5 282.5 L580.0 290.0 L581.2 300.0 L577.5 307.5 L578.8 320.0 L583.8 330.0 L586.2 340.0 L590.0 352.5 L593.0 361.8 L586.2 365.0 L590.0 376.2 L586.2 386.2 L577.5 387.5 L580.0 392.5 L590.0 400.0 L600.0 405.0 L606.2 412.5 L615.0 410.0 L623.8 410.5 L620.0 417.5 L623.8 425.0 L625.0 435.0 L621.2 441.2 L622.5 452.0 L623.8 455.0 L622.5 465.0 L623.0 473.8 L632.5 476.2 L640.5 481.2 L637.5 488.8 L632.5 492.5 L633.0 503.8 L626.2 507.5 L632.5 513.0 L622.5 516.2 L617.5 521.2 L610.0 528.8 L605.0 536.2 L606.2 542.5 L611.2 545.0 L610.0 558.8 L600.0 562.5 L595.0 565.0 L593.0 553.8 L591.2 566.2 L586.2 573.8 L581.2 582.5 L580.0 591.2 L577.5 600.0 L573.8 608.8 L565.0 610.0 L558.8 615.0 L563.8 623.8 L557.5 632.5 L550.0 640.0 L542.5 645.0 L530.0 650.0 L517.5 656.2 L507.5 661.2 L505.0 655.0 L502.5 662.5 L495.0 660.0 L485.0 660.0 L475.0 663.8 L467.5 670.0 L462.5 670.0 L455.0 667.5 L445.0 667.5 L435.0 666.2 L427.5 662.5 L417.5 662.5 L407.5 661.2 L397.5 658.8 L391.2 656.2 L388.8 651.2 L391.2 642.5 L390.0 633.8 L398.8 630.0 L403.8 620.0 L405.0 611.2 L398.8 608.8 L405.0 605.0 L403.8 595.0 L398.8 587.5 L393.8 582.5 L391.2 587.5 L382.5 588.8 L370.0 589.5 L357.5 587.0 L345.0 582.5 L335.0 577.5 L320.0 572.5 L306.2 577.5 L302.5 583.8 L297.5 582.5 L290.0 577.5 L287.5 570.0 L278.8 567.5 L275.0 575.0 L272.5 586.2 L262.5 583.8 L255.0 580.0 L245.0 576.2 L237.5 572.5 L227.5 566.2 L221.2 557.5 L215.0 557.5 L205.0 562.5 L206.2 555.0 L201.2 545.0 L197.5 532.5 L192.5 522.5 L191.2 512.5 L198.8 507.5 L197.5 500.0 L192.5 490.0 L196.2 482.5 L191.2 477.5 L185.0 480.0 L182.5 487.5 L175.0 490.0 L173.8 480.0 L168.8 482.5 L166.2 493.8 L160.0 495.0 L153.0 482.5 L152.5 472.5 L157.5 468.8 L163.8 457.5 L161.2 447.5 L165.0 440.0 L170.0 435.0 L175.0 428.8 L173.8 422.5 L167.5 417.5 L172.5 415.0 L176.2 410.0 L170.0 413.8 L162.5 412.5 L161.2 407.5 L168.8 402.5 L172.5 395.0 L167.5 390.0 L160.0 397.5 L155.0 392.5 L150.0 387.5 L147.5 400.0 L145.0 398.8 L143.8 385.0 L136.2 380.0 L130.0 376.2 L128.8 370.0 L140.0 368.8 L142.5 366.2 L140.0 360.0 L132.5 355.0 L123.8 360.0 L120.0 356.2 L112.5 350.0 L105.0 337.5 L100.0 327.5 L93.8 317.5 L92.5 305.0 L100.0 292.5 L97.5 282.5Z" fill="#dc5d4e"/>
<g clip-path="url(#cland)">
<path d="M300 330 L330 290 L420 300 L450 420 L430 560 L400 540 L380 480 L330 470 L300 520 L250 540 L215 500 L225 440 L270 420 L290 380 Z" fill="#c4435a" filter="url(#b12)" opacity="0.95"/>
<path d="M326.0 304.0 L339.0 279.0 L358.0 264.0 L382.0 259.0 L411.0 274.0 L438.0 287.0 L462.0 293.0 L494.0 300.0 L527.0 308.0 L551.0 329.0 L559.0 345.0 L547.0 361.0 L527.0 369.0 L507.0 375.0 L511.0 385.0 L535.0 391.0 L559.0 393.0 L583.0 409.0 L598.0 433.0 L604.0 461.0 L601.0 489.0 L591.0 521.0 L579.0 548.0 L566.0 584.0 L550.0 613.0 L532.0 636.0 L500.0 650.0 L470.0 654.0 L444.0 646.0 L430.0 624.0 L420.0 595.0 L415.0 570.0 L420.0 545.0 L410.0 525.0 L400.0 500.0 L388.0 470.0 L380.0 440.0 L365.0 425.0 L340.0 425.0 L322.0 400.0 L312.0 360.0 L315.0 330.0Z" fill="#b8384f" stroke="#b8384f" stroke-width="3" stroke-linejoin="round" filter="url(#b12)"/>
<path d="M235.0 455.0 L265.0 450.0 L295.0 468.0 L315.0 495.0 L320.0 520.0 L300.0 532.0 L280.0 525.0 L250.0 520.0 L230.0 500.0 L225.0 475.0Z" fill="#b93a4f" filter="url(#b6)" opacity="0.9"/>
<path d="M255 428 L290 420 L300 436 L265 444 Z" fill="#bf3a4c" filter="url(#b3)" opacity="0.8"/>
<path d="M105.0 275.0 L111.2 287.5 L112.5 295.0 L108.8 303.8 L113.8 310.0 L117.5 315.5 L125.0 318.0 L130.0 325.0 L140.0 330.0 L150.0 336.2 L157.5 338.8 L165.0 343.8 L175.0 346.2 L185.0 350.0 L192.5 355.0 L200.0 362.5 L205.5 367.5 L215.0 362.5 L227.5 358.8 L240.0 357.5 L252.5 357.0 L262.5 352.5 L265.0 348.8 L276.2 343.8 L280.0 342.5 L276.2 336.2 L280.0 322.5 L282.5 312.5 L287.5 306.2 L281.2 303.8 L277.5 287.5 L283.8 283.8 L290.0 285.0 L292.5 275.0 L297.5 265.0 L305.0 255.0 L312.5 247.5 L315.0 240.0 L325.0 232.5 L337.5 228.8 L347.5 225.0 L353.8 218.0 L358.8 223.8 L375.0 225.0 L387.5 226.2 L400.0 230.0 L407.5 226.2 L415.0 224.5 L420.0 230.0 L430.0 233.8 L438.8 240.0 L445.0 246.2 L450.0 246.2 L460.0 247.5 L475.0 246.2 L482.5 250.0 L492.5 248.8 L495.0 256.2 L500.0 263.8 L498.8 275.0 L507.5 267.0 L517.5 266.2 L530.0 268.8 L540.0 272.5 L546.2 280.0 L555.0 285.0 L562.5 280.0 L572.5 282.5 L580.0 290.0 L581.2 300.0 L577.5 307.5 L578.8 320.0 L583.8 330.0 L586.2 340.0 L590.0 352.5 L593.0 361.8 L586.2 365.0 L590.0 376.2 L586.2 386.2 L577.5 387.5 L580.0 392.5 L590.0 400.0 L600.0 405.0 L606.2 412.5 L615.0 410.0 L623.8 410.5 L620.0 417.5 L623.8 425.0 L625.0 435.0 L621.2 441.2 L622.5 452.0 L623.8 455.0 L622.5 465.0 L623.0 473.8 L632.5 476.2 L640.5 481.2 L637.5 488.8 L632.5 492.5 L633.0 503.8 L626.2 507.5 L632.5 513.0 L622.5 516.2 L617.5 521.2 L610.0 528.8 L605.0 536.2 L606.2 542.5 L611.2 545.0 L610.0 558.8 L600.0 562.5 L595.0 565.0 L593.0 553.8 L591.2 566.2 L586.2 573.8 L581.2 582.5 L580.0 591.2 L577.5 600.0 L573.8 608.8 L565.0 610.0 L558.8 615.0 L563.8 623.8 L557.5 632.5 L550.0 640.0 L542.5 645.0 L530.0 650.0 L517.5 656.2 L507.5 661.2 L505.0 655.0 L502.5 662.5 L495.0 660.0 L485.0 660.0 L475.0 663.8 L467.5 670.0 L462.5 670.0 L455.0 667.5 L445.0 667.5 L435.0 666.2 L427.5 662.5 L417.5 662.5 L407.5 661.2 L397.5 658.8 L391.2 656.2 L388.8 651.2 L391.2 642.5 L390.0 633.8 L398.8 630.0 L403.8 620.0 L405.0 611.2 L398.8 608.8 L405.0 605.0 L403.8 595.0 L398.8 587.5 L393.8 582.5 L391.2 587.5 L382.5 588.8 L370.0 589.5 L357.5 587.0 L345.0 582.5 L335.0 577.5 L320.0 572.5 L306.2 577.5 L302.5 583.8 L297.5 582.5 L290.0 577.5 L287.5 570.0 L278.8 567.5 L275.0 575.0 L272.5 586.2 L262.5 583.8 L255.0 580.0 L245.0 576.2 L237.5 572.5 L227.5 566.2 L221.2 557.5 L215.0 557.5 L205.0 562.5 L206.2 555.0 L201.2 545.0 L197.5 532.5 L192.5 522.5 L191.2 512.5 L198.8 507.5 L197.5 500.0 L192.5 490.0 L196.2 482.5 L191.2 477.5 L185.0 480.0 L182.5 487.5 L175.0 490.0 L173.8 480.0 L168.8 482.5 L166.2 493.8 L160.0 495.0 L153.0 482.5 L152.5 472.5 L157.5 468.8 L163.8 457.5 L161.2 447.5 L165.0 440.0 L170.0 435.0 L175.0 428.8 L173.8 422.5 L167.5 417.5 L172.5 415.0 L176.2 410.0 L170.0 413.8 L162.5 412.5 L161.2 407.5 L168.8 402.5 L172.5 395.0 L167.5 390.0 L160.0 397.5 L155.0 392.5 L150.0 387.5 L147.5 400.0 L145.0 398.8 L143.8 385.0 L136.2 380.0 L130.0 376.2 L128.8 370.0 L140.0 368.8 L142.5 366.2 L140.0 360.0 L132.5 355.0 L123.8 360.0 L120.0 356.2 L112.5 350.0 L105.0 337.5 L100.0 327.5 L93.8 317.5 L92.5 305.0 L100.0 292.5 L97.5 282.5Z" fill="none" stroke="#ee8862" stroke-width="20" stroke-linejoin="round" filter="url(#b3)" opacity="0.8"/>
<path d="M105.0 275.0 L111.2 287.5 L112.5 295.0 L108.8 303.8 L113.8 310.0 L117.5 315.5 L125.0 318.0 L130.0 325.0 L140.0 330.0 L150.0 336.2 L157.5 338.8 L165.0 343.8 L175.0 346.2 L185.0 350.0 L192.5 355.0 L200.0 362.5 L205.5 367.5 L215.0 362.5 L227.5 358.8 L240.0 357.5 L252.5 357.0 L262.5 352.5 L265.0 348.8 L276.2 343.8 L280.0 342.5 L276.2 336.2 L280.0 322.5 L282.5 312.5 L287.5 306.2 L281.2 303.8 L277.5 287.5 L283.8 283.8 L290.0 285.0 L292.5 275.0 L297.5 265.0 L305.0 255.0 L312.5 247.5 L315.0 240.0 L325.0 232.5 L337.5 228.8 L347.5 225.0 L353.8 218.0 L358.8 223.8 L375.0 225.0 L387.5 226.2 L400.0 230.0 L407.5 226.2 L415.0 224.5 L420.0 230.0 L430.0 233.8 L438.8 240.0 L445.0 246.2 L450.0 246.2 L460.0 247.5 L475.0 246.2 L482.5 250.0 L492.5 248.8 L495.0 256.2 L500.0 263.8 L498.8 275.0 L507.5 267.0 L517.5 266.2 L530.0 268.8 L540.0 272.5 L546.2 280.0 L555.0 285.0 L562.5 280.0 L572.5 282.5 L580.0 290.0 L581.2 300.0 L577.5 307.5 L578.8 320.0 L583.8 330.0 L586.2 340.0 L590.0 352.5 L593.0 361.8 L586.2 365.0 L590.0 376.2 L586.2 386.2 L577.5 387.5 L580.0 392.5 L590.0 400.0 L600.0 405.0 L606.2 412.5 L615.0 410.0 L623.8 410.5 L620.0 417.5 L623.8 425.0 L625.0 435.0 L621.2 441.2 L622.5 452.0 L623.8 455.0 L622.5 465.0 L623.0 473.8 L632.5 476.2 L640.5 481.2 L637.5 488.8 L632.5 492.5 L633.0 503.8 L626.2 507.5 L632.5 513.0 L622.5 516.2 L617.5 521.2 L610.0 528.8 L605.0 536.2 L606.2 542.5 L611.2 545.0 L610.0 558.8 L600.0 562.5 L595.0 565.0 L593.0 553.8 L591.2 566.2 L586.2 573.8 L581.2 582.5 L580.0 591.2 L577.5 600.0 L573.8 608.8 L565.0 610.0 L558.8 615.0 L563.8 623.8 L557.5 632.5 L550.0 640.0 L542.5 645.0 L530.0 650.0 L517.5 656.2 L507.5 661.2 L505.0 655.0 L502.5 662.5 L495.0 660.0 L485.0 660.0 L475.0 663.8 L467.5 670.0 L462.5 670.0 L455.0 667.5 L445.0 667.5 L435.0 666.2 L427.5 662.5 L417.5 662.5 L407.5 661.2 L397.5 658.8 L391.2 656.2 L388.8 651.2 L391.2 642.5 L390.0 633.8 L398.8 630.0 L403.8 620.0 L405.0 611.2 L398.8 608.8 L405.0 605.0 L403.8 595.0 L398.8 587.5 L393.8 582.5 L391.2 587.5 L382.5 588.8 L370.0 589.5 L357.5 587.0 L345.0 582.5 L335.0 577.5 L320.0 572.5 L306.2 577.5 L302.5 583.8 L297.5 582.5 L290.0 577.5 L287.5 570.0 L278.8 567.5 L275.0 575.0 L272.5 586.2 L262.5 583.8 L255.0 580.0 L245.0 576.2 L237.5 572.5 L227.5 566.2 L221.2 557.5 L215.0 557.5 L205.0 562.5 L206.2 555.0 L201.2 545.0 L197.5 532.5 L192.5 522.5 L191.2 512.5 L198.8 507.5 L197.5 500.0 L192.5 490.0 L196.2 482.5 L191.2 477.5 L185.0 480.0 L182.5 487.5 L175.0 490.0 L173.8 480.0 L168.8 482.5 L166.2 493.8 L160.0 495.0 L153.0 482.5 L152.5 472.5 L157.5 468.8 L163.8 457.5 L161.2 447.5 L165.0 440.0 L170.0 435.0 L175.0 428.8 L173.8 422.5 L167.5 417.5 L172.5 415.0 L176.2 410.0 L170.0 413.8 L162.5 412.5 L161.2 407.5 L168.8 402.5 L172.5 395.0 L167.5 390.0 L160.0 397.5 L155.0 392.5 L150.0 387.5 L147.5 400.0 L145.0 398.8 L143.8 385.0 L136.2 380.0 L130.0 376.2 L128.8 370.0 L140.0 368.8 L142.5 366.2 L140.0 360.0 L132.5 355.0 L123.8 360.0 L120.0 356.2 L112.5 350.0 L105.0 337.5 L100.0 327.5 L93.8 317.5 L92.5 305.0 L100.0 292.5 L97.5 282.5Z" fill="none" stroke="#f6b48a" stroke-width="6" stroke-linejoin="round" filter="url(#b2)" opacity="0.7"/>
<rect x="80" y="200" width="580" height="490" filter="url(#noise)" opacity="0.5"/>
<g mask="url(#mwhite)"><rect x="80" y="200" width="580" height="490" filter="url(#noisew)" opacity="0.8"/></g>
<g mask="url(#mblue)" opacity="0.95"><rect x="80" y="200" width="580" height="490" filter="url(#noiseb)"/></g>
<path d="M357.0 449.5 L357.0 135.5 M357.0 449.5 L558.8 209.0 M357.0 449.5 L666.2 395.0 M357.0 449.5 L628.9 606.5 M357.0 449.5 L464.4 744.6 M357.0 449.5 L249.6 744.6 M357.0 449.5 L85.1 606.5 M357.0 449.5 L47.8 395.0 M357.0 449.5 L155.2 209.0" fill="none" stroke="#fff" stroke-width="0.9" stroke-dasharray="1 1.6" opacity="0.3"/>
<circle cx="357.0" cy="449.5" r="113.5" fill="none" stroke="#fff" stroke-width="0.9" stroke-dasharray="1 1.6" opacity="0.3"/><circle cx="357.0" cy="449.5" r="228" fill="none" stroke="#fff" stroke-width="0.9" stroke-dasharray="1 1.6" opacity="0.3"/>
<path d="M316 284 L329 277 L342 270" fill="none" stroke="#dde5ef" stroke-width="3.2" stroke-linecap="round" opacity="0.75" filter="url(#b1)"/>
<path d="M134 348 L150 343 L175 350 L200 366 L208 385 L185 390 L178 375 L160 368 L140 362 Z" fill="#f5ad80" opacity="0.55" filter="url(#b3)"/>
<path d="M106.0 275.0 L110.5 289.8 L108.0 299.4 L112.5 306.3 L110.5 313.2 L114.0 320.0 L114.5 328.3 L117.5 335.2 L123.0 340.7 L129.0 344.5 L136.0 347.5 L131.0 354.5 L125.5 357.5 L119.5 356.0 L111.8 346.0 L105.0 338.0 L102.3 328.0 L95.0 319.0 L96.0 303.5 L99.5 289.8 L100.5 279.8 L103.4 276.5Z" fill="#949598" stroke="#7c7d80" stroke-width="4" stroke-linejoin="round"/>
<path d="M103.0 280.0 L100.0 300.0 L98.0 320.0 L106.0 335.0 L118.0 350.0 L135.0 355.0" fill="none" stroke="#ecb091" stroke-width="3.2" opacity="0.9" filter="url(#b1)"/>
</g>
<path d="M205.5 367.5 L215.0 362.5 L227.5 358.8 L240.0 357.5 L252.5 357.0 L262.5 352.5 L265.0 348.8 L276.2 343.8 L280.0 342.5 L283.8 348.8 L290.0 350.0 L295.0 345.0 L297.5 350.0 L307.5 349.5 L300.0 352.5 L295.0 360.0 L292.5 370.0 L290.0 380.0 L295.0 386.2 L296.2 390.0 L290.0 391.2 L287.5 397.5 L290.0 410.0 L292.5 413.8 L287.5 412.5 L282.5 407.5 L277.5 413.8 L273.8 407.5 L270.0 406.2 L265.0 412.5 L260.0 416.2 L257.5 422.5 L247.5 423.8 L240.0 422.5 L238.8 428.8 L232.5 433.8 L226.2 435.0 L233.8 428.8 L235.0 422.5 L231.2 420.0 L226.2 425.0 L221.2 428.8 L225.0 420.0 L227.5 412.5 L220.0 410.0 L212.5 416.2 L205.0 417.5 L212.5 410.0 L215.0 400.0 L211.2 390.0 L210.0 377.5Z M112.5 320.0 L118.0 316.0 L129.0 318.7 L130.4 325.6 L140.0 331.0 L148.3 332.5 L151.0 338.0 L159.3 339.3 L170.4 344.8 L181.4 349.0 L189.6 353.1 L199.3 361.4 L204.8 366.9 L198.0 364.5 L188.0 356.5 L179.5 352.2 L168.5 348.0 L157.5 342.8 L149.7 342.1 L142.8 342.1 L137.3 346.2 L130.4 343.5 L125.0 340.7 L119.4 335.2 L116.7 328.3Z M128.8 370.0 L140.0 368.8 L152.5 369.5 L165.0 372.5 L173.8 377.5 L177.5 385.0 L177.5 395.0 L175.0 400.0 L176.2 410.0 L170.0 413.8 L162.5 412.5 L161.2 407.5 L168.8 402.5 L172.5 395.0 L167.5 390.0 L160.0 397.5 L155.0 392.5 L150.0 387.5 L147.5 400.0 L145.0 398.8 L143.8 385.0 L136.2 380.0 L130.0 376.2Z M287.5 306.2 L281.2 303.8 L277.5 287.5 L283.8 283.8 L290.0 285.0 L292.5 275.0 L297.5 265.0 L305.0 255.0 L312.5 247.5 L315.0 240.0 L325.0 232.5 L325.0 237.5 L320.0 245.0 L317.5 253.8 L311.2 267.5 L310.0 275.0 L305.0 285.0 L300.0 296.2 L310.0 275.0 L302.5 282.5 L303.8 292.5 L297.5 300.0Z M325.0 232.5 L337.5 228.8 L347.5 225.0 L353.8 218.0 L358.8 223.8 L375.0 225.0 L387.5 226.2 L387.5 231.2 L375.0 231.2 L362.5 233.8 L353.8 242.5 L347.5 237.5 L337.5 237.5 L332.5 241.2 L325.0 237.5Z M387.5 226.2 L400.0 230.0 L407.5 226.2 L415.0 224.5 L420.0 230.0 L430.0 233.8 L438.8 240.0 L445.0 246.2 L443.8 250.0 L436.2 246.2 L427.5 242.5 L420.0 237.5 L410.0 232.5 L400.0 235.0 L392.5 231.2 L387.5 231.2Z M445.0 246.2 L450.0 246.2 L460.0 247.5 L475.0 246.2 L482.5 250.0 L480.0 258.8 L470.0 257.5 L460.0 256.2 L450.0 256.2 L446.2 251.2Z M492.5 248.8 L495.0 256.2 L500.0 263.8 L498.8 275.0 L496.2 272.5 L492.5 262.5 L488.8 255.0Z M530.0 376.2 L540.0 373.8 L550.0 371.2 L562.5 370.0 L565.0 366.2 L575.0 368.8 L586.2 365.0 L590.0 376.2 L586.2 386.2 L577.5 387.5 L570.0 383.8 L560.0 383.8 L550.0 382.5 L540.0 378.8Z M606.2 412.5 L615.0 410.0 L623.8 410.5 L620.0 417.5 L623.8 425.0 L625.0 435.0 L621.2 441.2 L617.5 440.0 L616.2 430.0 L612.5 422.5 L608.8 416.2Z M623.0 473.8 L632.5 476.2 L640.5 481.2 L637.5 488.8 L632.5 492.5 L633.0 503.8 L626.2 507.5 L622.5 500.0 L618.8 492.5 L621.2 485.0Z M306.2 577.5 L320.0 572.5 L335.0 577.5 L350.0 585.0 L365.0 588.8 L380.0 589.5 L390.0 585.0 L393.8 582.5 L391.2 575.0 L396.2 565.0 L397.5 555.0 L393.8 547.5 L387.5 537.5 L380.0 527.5 L370.0 517.5 L360.0 510.0 L350.0 506.2 L340.0 502.5 L335.0 498.8 L336.2 507.5 L342.5 515.0 L345.0 525.0 L340.0 522.5 L333.8 521.2 L325.0 522.5 L317.5 527.5 L316.2 537.5 L310.0 540.0 L302.5 537.5 L300.0 545.0 L296.2 547.5 L300.0 557.5 L305.0 567.5 L300.0 570.0Z M165.0 437.5 L161.2 447.5 L163.8 457.5 L157.5 468.8 L152.5 472.5 L153.0 482.5 L160.0 495.0 L166.2 493.8 L168.8 482.5 L167.5 470.0 L168.8 460.0 L167.5 447.5 L170.0 437.5Z M191.2 477.5 L196.2 482.5 L192.5 490.0 L197.5 500.0 L198.8 507.5 L191.2 512.5 L192.5 522.5 L197.5 532.5 L201.2 545.0 L206.2 555.0 L205.0 562.5 L215.0 557.5 L221.2 557.5 L227.5 566.2 L237.5 572.5 L236.2 567.5 L228.8 560.0 L222.5 552.5 L215.0 550.0 L211.2 545.0 L207.5 535.0 L203.8 525.0 L200.0 515.0 L203.8 507.5 L202.5 497.5 L198.8 487.5 L200.0 481.2 L195.0 475.5Z" fill="#f2f2f2" stroke="#777" stroke-width="1" stroke-linejoin="round"/>
<g clip-path="url(#cshelf)">
<rect x="80" y="200" width="580" height="490" filter="url(#noiseg)" opacity="0.38"/>
<path d="M256.2 356.2 L265.0 355.0 L275.0 362.5 L280.0 372.5 L278.8 382.5 L275.0 390.0 L270.0 386.2 L267.5 375.0 L260.0 367.5 L255.0 361.2Z" fill="#bcc5cc" stroke="#8a8f94" stroke-width="0.7" stroke-linejoin="round"/>
<path d="M265.0 367.5 L273.8 370.0 L277.5 380.0 L274.5 386.2 L270.5 380.0Z" fill="#d2d9df"/>
<path d="M236.2 400.0 L240.0 401.2 L246.2 410.0 L245.0 413.0 L240.0 410.0Z" fill="#c5d0d9" stroke="#8a8f94" stroke-width="0.6"/>
<path d="M256.2 393.8 L262.5 392.5 L267.5 398.8 L265.0 402.5 L258.8 400.0Z" fill="#c5d0d9" stroke="#8a8f94" stroke-width="0.6"/>
<path d="M315.0 558.8 L320.0 557.5 L323.8 562.5 L322.5 568.8 L317.5 570.0 L314.5 565.0Z" fill="#c5d0d9" stroke="#80868c" stroke-width="0.6"/>
<path d="M325.0 540.0 L328.8 539.5 L330.5 542.5 L327.0 545.0Z" fill="#c5d0d9" stroke="#80868c" stroke-width="0.6"/>
<path d="M305.0 551.2 L308.0 550.5 L309.0 555.0 L306.2 556.2Z" fill="#c5d0d9" stroke="#80868c" stroke-width="0.6"/>
<circle cx="322.5" cy="532.5" r="1.6" fill="#6f7376"/><circle cx="333.8" cy="525.0" r="1.6" fill="#6f7376"/><circle cx="342.5" cy="520.0" r="1.3" fill="#6f7376"/><circle cx="335.5" cy="503.0" r="1.3" fill="#6f7376"/>
<path d="M357.0 449.5 L357.0 135.5 M357.0 449.5 L558.8 209.0 M357.0 449.5 L666.2 395.0 M357.0 449.5 L628.9 606.5 M357.0 449.5 L464.4 744.6 M357.0 449.5 L249.6 744.6 M357.0 449.5 L85.1 606.5 M357.0 449.5 L47.8 395.0 M357.0 449.5 L155.2 209.0" fill="none" stroke="#fff" stroke-width="0.9" stroke-dasharray="1 1.6" opacity="0.9"/>
<circle cx="357.0" cy="449.5" r="113.5" fill="none" stroke="#fff" stroke-width="0.9" stroke-dasharray="1 1.6" opacity="0.9"/>
</g>
<path d="M105.0 275.0 L111.2 287.5 L112.5 295.0 L108.8 303.8 L113.8 310.0 L117.5 315.5 L125.0 318.0 L130.0 325.0 L140.0 330.0 L150.0 336.2 L157.5 338.8 L165.0 343.8 L175.0 346.2 L185.0 350.0 L192.5 355.0 L200.0 362.5 L205.5 367.5 L215.0 362.5 L227.5 358.8 L240.0 357.5 L252.5 357.0 L262.5 352.5 L265.0 348.8 L276.2 343.8 L280.0 342.5 L276.2 336.2 L280.0 322.5 L282.5 312.5 L287.5 306.2 L281.2 303.8 L277.5 287.5 L283.8 283.8 L290.0 285.0 L292.5 275.0 L297.5 265.0 L305.0 255.0 L312.5 247.5 L315.0 240.0 L325.0 232.5 L337.5 228.8 L347.5 225.0 L353.8 218.0 L358.8 223.8 L375.0 225.0 L387.5 226.2 L400.0 230.0 L407.5 226.2 L415.0 224.5 L420.0 230.0 L430.0 233.8 L438.8 240.0 L445.0 246.2 L450.0 246.2 L460.0 247.5 L475.0 246.2 L482.5 250.0 L492.5 248.8 L495.0 256.2 L500.0 263.8 L498.8 275.0 L507.5 267.0 L517.5 266.2 L530.0 268.8 L540.0 272.5 L546.2 280.0 L555.0 285.0 L562.5 280.0 L572.5 282.5 L580.0 290.0 L581.2 300.0 L577.5 307.5 L578.8 320.0 L583.8 330.0 L586.2 340.0 L590.0 352.5 L593.0 361.8 L586.2 365.0 L590.0 376.2 L586.2 386.2 L577.5 387.5 L580.0 392.5 L590.0 400.0 L600.0 405.0 L606.2 412.5 L615.0 410.0 L623.8 410.5 L620.0 417.5 L623.8 425.0 L625.0 435.0 L621.2 441.2 L622.5 452.0 L623.8 455.0 L622.5 465.0 L623.0 473.8 L632.5 476.2 L640.5 481.2 L637.5 488.8 L632.5 492.5 L633.0 503.8 L626.2 507.5 L632.5 513.0 L622.5 516.2 L617.5 521.2 L610.0 528.8 L605.0 536.2 L606.2 542.5 L611.2 545.0 L610.0 558.8 L600.0 562.5 L595.0 565.0 L593.0 553.8 L591.2 566.2 L586.2 573.8 L581.2 582.5 L580.0 591.2 L577.5 600.0 L573.8 608.8 L565.0 610.0 L558.8 615.0 L563.8 623.8 L557.5 632.5 L550.0 640.0 L542.5 645.0 L530.0 650.0 L517.5 656.2 L507.5 661.2 L505.0 655.0 L502.5 662.5 L495.0 660.0 L485.0 660.0 L475.0 663.8 L467.5 670.0 L462.5 670.0 L455.0 667.5 L445.0 667.5 L435.0 666.2 L427.5 662.5 L417.5 662.5 L407.5 661.2 L397.5 658.8 L391.2 656.2 L388.8 651.2 L391.2 642.5 L390.0 633.8 L398.8 630.0 L403.8 620.0 L405.0 611.2 L398.8 608.8 L405.0 605.0 L403.8 595.0 L398.8 587.5 L393.8 582.5 L391.2 587.5 L382.5 588.8 L370.0 589.5 L357.5 587.0 L345.0 582.5 L335.0 577.5 L320.0 572.5 L306.2 577.5 L302.5 583.8 L297.5 582.5 L290.0 577.5 L287.5 570.0 L278.8 567.5 L275.0 575.0 L272.5 586.2 L262.5 583.8 L255.0 580.0 L245.0 576.2 L237.5 572.5 L227.5 566.2 L221.2 557.5 L215.0 557.5 L205.0 562.5 L206.2 555.0 L201.2 545.0 L197.5 532.5 L192.5 522.5 L191.2 512.5 L198.8 507.5 L197.5 500.0 L192.5 490.0 L196.2 482.5 L191.2 477.5 L185.0 480.0 L182.5 487.5 L175.0 490.0 L173.8 480.0 L168.8 482.5 L166.2 493.8 L160.0 495.0 L153.0 482.5 L152.5 472.5 L157.5 468.8 L163.8 457.5 L161.2 447.5 L165.0 440.0 L170.0 435.0 L175.0 428.8 L173.8 422.5 L167.5 417.5 L172.5 415.0 L176.2 410.0 L170.0 413.8 L162.5 412.5 L161.2 407.5 L168.8 402.5 L172.5 395.0 L167.5 390.0 L160.0 397.5 L155.0 392.5 L150.0 387.5 L147.5 400.0 L145.0 398.8 L143.8 385.0 L136.2 380.0 L130.0 376.2 L128.8 370.0 L140.0 368.8 L142.5 366.2 L140.0 360.0 L132.5 355.0 L123.8 360.0 L120.0 356.2 L112.5 350.0 L105.0 337.5 L100.0 327.5 L93.8 317.5 L92.5 305.0 L100.0 292.5 L97.5 282.5Z" fill="none" stroke="#6f6f6f" stroke-width="1.8" stroke-linejoin="round"/>
<path d="M302.5 583.8 L297.5 582.5 L290.0 577.5 L287.5 570.0 L278.8 567.5 L275.0 575.0 L272.5 586.2 L262.5 583.8 L255.0 580.0 L245.0 576.2 L237.5 572.5 L227.5 566.2 L221.2 557.5" fill="none" stroke="#737373" stroke-width="3.2" stroke-dasharray="2.5 2 5 1.5 1.5 3 4 2.5" stroke-linejoin="round"/>
<path d="M398.8 587.5 L403.8 595.0 L405.0 605.0 L398.8 608.8 L405.0 611.2 L403.8 620.0 L398.8 630.0 L390.0 633.8 L391.2 642.5 L388.8 651.2 L391.2 656.2 L397.5 658.8 L407.5 661.2 L417.5 662.5" fill="none" stroke="#737373" stroke-width="3.6" stroke-dasharray="2.5 2 5 1.5 1.5 3 4 2.5" stroke-linejoin="round"/>
<path d="M104.0 280.0 L99.0 300.0 L96.0 320.0 L104.0 333.0 L110.0 345.0 L120.0 356.0 L131.0 356.0 L140.0 362.0" fill="none" stroke="#737373" stroke-width="3.4" stroke-dasharray="2.5 2 5 1.5 1.5 3 4 2.5" stroke-linejoin="round"/>
<path d="M623.0 473.8 L621.2 485.0 L618.8 492.5 L622.5 500.0 L626.2 507.5 L622.5 516.2" fill="none" stroke="#737373" stroke-width="2.6" stroke-dasharray="2.5 2 5 1.5 1.5 3 4 2.5" stroke-linejoin="round"/>
</g>
<circle cx="356.4" cy="449.5" r="21.5" fill="#cdd3d8"/>
<circle cx="353.4" cy="447.5" r="10" fill="#dde1e5" filter="url(#b3)" opacity="0.8"/>
<path d="M356.4 446.5 L356.4 428.0 M358.3 447.2 L370.2 433.0 M359.4 449.0 L377.6 445.8 M359.0 451.0 L375.0 460.2 M357.4 452.3 L363.8 469.7 M355.4 452.3 L349.0 469.7 M353.8 451.0 L337.8 460.2 M353.4 449.0 L335.2 445.8 M354.5 447.2 L342.6 433.0" fill="none" stroke="#fff" stroke-width="0.9" stroke-dasharray="1 1.4" opacity="0.9"/>
<circle cx="116.5" cy="452.5" r="1.3" fill="#6e6e6e"/><circle cx="428.5" cy="697" r="1.2" fill="#6e6e6e"/><circle cx="432" cy="703" r="1.0" fill="#6e6e6e"/><circle cx="435.5" cy="706" r="1.1" fill="#6e6e6e"/><circle cx="632.5" cy="462" r="1.1" fill="#6e6e6e"/><circle cx="388" cy="653.5" r="0.8" fill="#6e6e6e"/><circle cx="97" cy="299" r="1.0" fill="#6e6e6e"/><circle cx="89.5" cy="309" r="1.2" fill="#6e6e6e"/>
</g>
<circle cx="357.0" cy="449.5" r="312.4" fill="none" stroke="#7f93a8" stroke-width="1.1"/>
<circle cx="357.0" cy="449.5" r="313.4" fill="none" stroke="#fff" stroke-width="0.7"/>
<circle cx="357.0" cy="449.5" r="314.3" fill="none" stroke="#333" stroke-width="1.2"/>
<text x="357.4" y="131.8" font-size="10" fill="#b2b2b2">0E</text>
<text x="561.0" y="206.8" font-size="10" fill="#b2b2b2">40E</text>
<text x="674.3" y="393.8" font-size="10" fill="#b2b2b2">80E</text>
<text x="640.3" y="613.8" font-size="10" fill="#b2b2b2">120E</text>
<text x="470.4" y="762" font-size="10" fill="#b2b2b2">160E</text>
<text x="242.4" y="765.9" font-size="10" fill="#b2b2b2">160W</text>
<text x="57.4" y="622.8" font-size="10" fill="#b2b2b2">120W</text>
<text x="21.3" y="390.9" font-size="10" fill="#b2b2b2">80W</text>
<text x="142.0" y="194.6" font-size="10" fill="#b2b2b2">40W</text>
<text x="322.3" y="556.3" font-size="10" fill="#b2b2b2">80S</text>
<text x="287.8" y="666" font-size="10" fill="#f6f9fc">70S</text>
<path d="M295.3 734.9 H398.7" stroke="#fbfdff" stroke-width="1.8" fill="none"/><path d="M295.6 730 V740.7 M398.4 730 V740.7" stroke="#fbfdff" stroke-width="1.1" fill="none"/>
<text x="329.4" y="727.9" font-size="10" fill="#f8fbfe">km</text>
<text x="329.6" y="749.6" font-size="10" fill="#f8fbfe">1000</text>
</g>
<defs><linearGradient id="rdylbu" x1="0" y1="0" x2="1" y2="0"><stop offset="0.00" stop-color="#a50026"/><stop offset="0.05" stop-color="#bd1726"/><stop offset="0.10" stop-color="#d62f27"/><stop offset="0.15" stop-color="#e54e35"/><stop offset="0.20" stop-color="#f46d43"/><stop offset="0.25" stop-color="#f98e52"/><stop offset="0.30" stop-color="#fdad60"/><stop offset="0.35" stop-color="#fdc778"/><stop offset="0.40" stop-color="#fee090"/><stop offset="0.45" stop-color="#fff0a8"/><stop offset="0.50" stop-color="#feffc0"/><stop offset="0.55" stop-color="#f0f9db"/><stop offset="0.60" stop-color="#e0f3f8"/><stop offset="0.65" stop-color="#c5e6f0"/><stop offset="0.70" stop-color="#aad8e9"/><stop offset="0.75" stop-color="#8ec2dc"/><stop offset="0.80" stop-color="#74add1"/><stop offset="0.85" stop-color="#5c90c2"/><stop offset="0.90" stop-color="#4574b3"/><stop offset="0.95" stop-color="#3a54a4"/><stop offset="1.00" stop-color="#313695"/></linearGradient></defs>
<g id="colorbar">
<rect x="82.1" y="791.3" width="561.2" height="17.0" fill="url(#rdylbu)" stroke="#000" stroke-width="0.95"/>
<path d="M82.1 808.3 V812.4" stroke="#000" stroke-width="0.95"/><text x="82.1" y="825.9" font-size="11.2" text-anchor="middle">0.00</text>
<path d="M175.6 808.3 V812.4" stroke="#000" stroke-width="0.95"/><text x="175.6" y="825.9" font-size="11.2" text-anchor="middle">0.05</text>
<path d="M269.2 808.3 V812.4" stroke="#000" stroke-width="0.95"/><text x="269.2" y="825.9" font-size="11.2" text-anchor="middle">0.10</text>
<path d="M362.7 808.3 V812.4" stroke="#000" stroke-width="0.95"/><text x="362.7" y="825.9" font-size="11.2" text-anchor="middle">0.15</text>
<path d="M456.2 808.3 V812.4" stroke="#000" stroke-width="0.95"/><text x="456.2" y="825.9" font-size="11.2" text-anchor="middle">0.20</text>
<path d="M549.8 808.3 V812.4" stroke="#000" stroke-width="0.95"/><text x="549.8" y="825.9" font-size="11.2" text-anchor="middle">0.25</text>
<path d="M643.3 808.3 V812.4" stroke="#000" stroke-width="0.95"/><text x="643.3" y="825.9" font-size="11.2" text-anchor="middle">0.30</text>
<text x="362.2" y="841.8" font-size="11.8" text-anchor="middle">Uncertainty (m/yr)</text>
<text x="17.3" y="801.7" font-size="9.25">[min=0.00]</text>
<text x="8.4" y="841.9" font-size="9.25">nvals=392745</text>
<text x="649.5" y="801.7" font-size="9.25">[max=21.00]</text>
<text x="655.5" y="826.7" font-size="9.25">mean=0.04</text>
<text x="643.3" y="841.7" font-size="9.25">σ=0.14</text>
</g>
<defs>
<filter id="snoise" x="0" y="0" width="100%" height="100%"><feTurbulence type="fractalNoise" baseFrequency="0.36" numOctaves="3" seed="8"/><feColorMatrix type="matrix" values="0 0 0 0 0.99  0 0 0 0 0.94  0 0 0 0 0.82  0 3.3 0 0 -1.3"/></filter>
<filter id="snoise2" x="0" y="0" width="100%" height="100%"><feTurbulence type="fractalNoise" baseFrequency="0.5" numOctaves="2" seed="21"/><feColorMatrix type="matrix" values="0 0 0 0 0.99  0 0 0 0 0.93  0 0 0 0 0.80  0 3.2 0 0 -1.75"/></filter>
<filter id="sb" x="-30%" y="-30%" width="160%" height="160%"><feGaussianBlur stdDeviation="5"/></filter>
<mask id="smask" maskUnits="userSpaceOnUse" x="750" y="70" width="215" height="215"><rect x="750" y="70" width="215" height="215" fill="#000"/><g filter="url(#sb)" fill="#fff"><ellipse cx="914" cy="206" rx="27" ry="33"/><ellipse cx="902" cy="190" rx="16" ry="18"/><ellipse cx="886" cy="135" rx="9" ry="26"/><ellipse cx="916" cy="136" rx="15" ry="12" opacity="0.7"/><ellipse cx="827" cy="193" rx="10" ry="10" opacity="0.6"/><ellipse cx="870" cy="120" rx="14" ry="8" opacity="0.5"/></g></mask>
<clipPath id="csland"><path d="M105.0 275.0 L111.2 287.5 L112.5 295.0 L108.8 303.8 L113.8 310.0 L117.5 315.5 L125.0 318.0 L130.0 325.0 L140.0 330.0 L150.0 336.2 L157.5 338.8 L165.0 343.8 L175.0 346.2 L185.0 350.0 L192.5 355.0 L200.0 362.5 L205.5 367.5 L215.0 362.5 L227.5 358.8 L240.0 357.5 L252.5 357.0 L262.5 352.5 L265.0 348.8 L276.2 343.8 L280.0 342.5 L276.2 336.2 L280.0 322.5 L282.5 312.5 L287.5 306.2 L281.2 303.8 L277.5 287.5 L283.8 283.8 L290.0 285.0 L292.5 275.0 L297.5 265.0 L305.0 255.0 L312.5 247.5 L315.0 240.0 L325.0 232.5 L337.5 228.8 L347.5 225.0 L353.8 218.0 L358.8 223.8 L375.0 225.0 L387.5 226.2 L400.0 230.0 L407.5 226.2 L415.0 224.5 L420.0 230.0 L430.0 233.8 L438.8 240.0 L445.0 246.2 L450.0 246.2 L460.0 247.5 L475.0 246.2 L482.5 250.0 L492.5 248.8 L495.0 256.2 L500.0 263.8 L498.8 275.0 L507.5 267.0 L517.5 266.2 L530.0 268.8 L540.0 272.5 L546.2 280.0 L555.0 285.0 L562.5 280.0 L572.5 282.5 L580.0 290.0 L581.2 300.0 L577.5 307.5 L578.8 320.0 L583.8 330.0 L586.2 340.0 L590.0 352.5 L593.0 361.8 L586.2 365.0 L590.0 376.2 L586.2 386.2 L577.5 387.5 L580.0 392.5 L590.0 400.0 L600.0 405.0 L606.2 412.5 L615.0 410.0 L623.8 410.5 L620.0 417.5 L623.8 425.0 L625.0 435.0 L621.2 441.2 L622.5 452.0 L623.8 455.0 L622.5 465.0 L623.0 473.8 L632.5 476.2 L640.5 481.2 L637.5 488.8 L632.5 492.5 L633.0 503.8 L626.2 507.5 L632.5 513.0 L622.5 516.2 L617.5 521.2 L610.0 528.8 L605.0 536.2 L606.2 542.5 L611.2 545.0 L610.0 558.8 L600.0 562.5 L595.0 565.0 L593.0 553.8 L591.2 566.2 L586.2 573.8 L581.2 582.5 L580.0 591.2 L577.5 600.0 L573.8 608.8 L565.0 610.0 L558.8 615.0 L563.8 623.8 L557.5 632.5 L550.0 640.0 L542.5 645.0 L530.0 650.0 L517.5 656.2 L507.5 661.2 L505.0 655.0 L502.5 662.5 L495.0 660.0 L485.0 660.0 L475.0 663.8 L467.5 670.0 L462.5 670.0 L455.0 667.5 L445.0 667.5 L435.0 666.2 L427.5 662.5 L417.5 662.5 L407.5 661.2 L397.5 658.8 L391.2 656.2 L388.8 651.2 L391.2 642.5 L390.0 633.8 L398.8 630.0 L403.8 620.0 L405.0 611.2 L398.8 608.8 L405.0 605.0 L403.8 595.0 L398.8 587.5 L393.8 582.5 L391.2 587.5 L382.5 588.8 L370.0 589.5 L357.5 587.0 L345.0 582.5 L335.0 577.5 L320.0 572.5 L306.2 577.5 L302.5 583.8 L297.5 582.5 L290.0 577.5 L287.5 570.0 L278.8 567.5 L275.0 575.0 L272.5 586.2 L262.5 583.8 L255.0 580.0 L245.0 576.2 L237.5 572.5 L227.5 566.2 L221.2 557.5 L215.0 557.5 L205.0 562.5 L206.2 555.0 L201.2 545.0 L197.5 532.5 L192.5 522.5 L191.2 512.5 L198.8 507.5 L197.5 500.0 L192.5 490.0 L196.2 482.5 L191.2 477.5 L185.0 480.0 L182.5 487.5 L175.0 490.0 L173.8 480.0 L168.8 482.5 L166.2 493.8 L160.0 495.0 L153.0 482.5 L152.5 472.5 L157.5 468.8 L163.8 457.5 L161.2 447.5 L165.0 440.0 L170.0 435.0 L175.0 428.8 L173.8 422.5 L167.5 417.5 L172.5 415.0 L176.2 410.0 L170.0 413.8 L162.5 412.5 L161.2 407.5 L168.8 402.5 L172.5 395.0 L167.5 390.0 L160.0 397.5 L155.0 392.5 L150.0 387.5 L147.5 400.0 L145.0 398.8 L143.8 385.0 L136.2 380.0 L130.0 376.2 L128.8 370.0 L140.0 368.8 L142.5 366.2 L140.0 360.0 L132.5 355.0 L123.8 360.0 L120.0 356.2 L112.5 350.0 L105.0 337.5 L100.0 327.5 L93.8 317.5 L92.5 305.0 L100.0 292.5 L97.5 282.5Z" transform="translate(857.0 178.5) scale(0.3248) translate(-357.0 -449.5)"/></clipPath>
</defs>
<g id="smallmap">
<text x="857" y="69" font-size="14.13" text-anchor="middle">Missing Values : 17.13%</text>
<circle cx="857.0" cy="178.5" r="102.0" fill="#f1f6ff"/>
<g transform="translate(857.0 178.5) scale(0.3248) translate(-357.0 -449.5)">
<path d="M105.0 275.0 L111.2 287.5 L112.5 295.0 L108.8 303.8 L113.8 310.0 L117.5 315.5 L125.0 318.0 L130.0 325.0 L140.0 330.0 L150.0 336.2 L157.5 338.8 L165.0 343.8 L175.0 346.2 L185.0 350.0 L192.5 355.0 L200.0 362.5 L205.5 367.5 L215.0 362.5 L227.5 358.8 L240.0 357.5 L252.5 357.0 L262.5 352.5 L265.0 348.8 L276.2 343.8 L280.0 342.5 L276.2 336.2 L280.0 322.5 L282.5 312.5 L287.5 306.2 L281.2 303.8 L277.5 287.5 L283.8 283.8 L290.0 285.0 L292.5 275.0 L297.5 265.0 L305.0 255.0 L312.5 247.5 L315.0 240.0 L325.0 232.5 L337.5 228.8 L347.5 225.0 L353.8 218.0 L358.8 223.8 L375.0 225.0 L387.5 226.2 L400.0 230.0 L407.5 226.2 L415.0 224.5 L420.0 230.0 L430.0 233.8 L438.8 240.0 L445.0 246.2 L450.0 246.2 L460.0 247.5 L475.0 246.2 L482.5 250.0 L492.5 248.8 L495.0 256.2 L500.0 263.8 L498.8 275.0 L507.5 267.0 L517.5 266.2 L530.0 268.8 L540.0 272.5 L546.2 280.0 L555.0 285.0 L562.5 280.0 L572.5 282.5 L580.0 290.0 L581.2 300.0 L577.5 307.5 L578.8 320.0 L583.8 330.0 L586.2 340.0 L590.0 352.5 L593.0 361.8 L586.2 365.0 L590.0 376.2 L586.2 386.2 L577.5 387.5 L580.0 392.5 L590.0 400.0 L600.0 405.0 L606.2 412.5 L615.0 410.0 L623.8 410.5 L620.0 417.5 L623.8 425.0 L625.0 435.0 L621.2 441.2 L622.5 452.0 L623.8 455.0 L622.5 465.0 L623.0 473.8 L632.5 476.2 L640.5 481.2 L637.5 488.8 L632.5 492.5 L633.0 503.8 L626.2 507.5 L632.5 513.0 L622.5 516.2 L617.5 521.2 L610.0 528.8 L605.0 536.2 L606.2 542.5 L611.2 545.0 L610.0 558.8 L600.0 562.5 L595.0 565.0 L593.0 553.8 L591.2 566.2 L586.2 573.8 L581.2 582.5 L580.0 591.2 L577.5 600.0 L573.8 608.8 L565.0 610.0 L558.8 615.0 L563.8 623.8 L557.5 632.5 L550.0 640.0 L542.5 645.0 L530.0 650.0 L517.5 656.2 L507.5 661.2 L505.0 655.0 L502.5 662.5 L495.0 660.0 L485.0 660.0 L475.0 663.8 L467.5 670.0 L462.5 670.0 L455.0 667.5 L445.0 667.5 L435.0 666.2 L427.5 662.5 L417.5 662.5 L407.5 661.2 L397.5 658.8 L391.2 656.2 L388.8 651.2 L391.2 642.5 L390.0 633.8 L398.8 630.0 L403.8 620.0 L405.0 611.2 L398.8 608.8 L405.0 605.0 L403.8 595.0 L398.8 587.5 L393.8 582.5 L391.2 587.5 L382.5 588.8 L370.0 589.5 L357.5 587.0 L345.0 582.5 L335.0 577.5 L320.0 572.5 L306.2 577.5 L302.5 583.8 L297.5 582.5 L290.0 577.5 L287.5 570.0 L278.8 567.5 L275.0 575.0 L272.5 586.2 L262.5 583.8 L255.0 580.0 L245.0 576.2 L237.5 572.5 L227.5 566.2 L221.2 557.5 L215.0 557.5 L205.0 562.5 L206.2 555.0 L201.2 545.0 L197.5 532.5 L192.5 522.5 L191.2 512.5 L198.8 507.5 L197.5 500.0 L192.5 490.0 L196.2 482.5 L191.2 477.5 L185.0 480.0 L182.5 487.5 L175.0 490.0 L173.8 480.0 L168.8 482.5 L166.2 493.8 L160.0 495.0 L153.0 482.5 L152.5 472.5 L157.5 468.8 L163.8 457.5 L161.2 447.5 L165.0 440.0 L170.0 435.0 L175.0 428.8 L173.8 422.5 L167.5 417.5 L172.5 415.0 L176.2 410.0 L170.0 413.8 L162.5 412.5 L161.2 407.5 L168.8 402.5 L172.5 395.0 L167.5 390.0 L160.0 397.5 L155.0 392.5 L150.0 387.5 L147.5 400.0 L145.0 398.8 L143.8 385.0 L136.2 380.0 L130.0 376.2 L128.8 370.0 L140.0 368.8 L142.5 366.2 L140.0 360.0 L132.5 355.0 L123.8 360.0 L120.0 356.2 L112.5 350.0 L105.0 337.5 L100.0 327.5 L93.8 317.5 L92.5 305.0 L100.0 292.5 L97.5 282.5Z" fill="#f5120e" stroke="#808080" stroke-width="6.5" stroke-linejoin="round"/>
</g>
<g clip-path="url(#csland)">
<rect x="750" y="70" width="215" height="215" filter="url(#snoise2)" opacity="0.8"/>
<g mask="url(#smask)"><rect x="750" y="70" width="215" height="215" filter="url(#snoise)"/></g>
</g>
<g clip-path="url(#csland)"><circle cx="857.0" cy="178.5" r="9" fill="#f5120e" filter="url(#b3)" opacity="0.9"/><path d="M857.0 178.5 L835.0 184.5 M857.0 178.5 L861.0 200.5" stroke="#f5120e" stroke-width="9" stroke-linecap="round" fill="none" filter="url(#b3)" opacity="0.8"/></g>
<g transform="translate(857.0 178.5) scale(0.3248) translate(-357.0 -449.5)">
<path d="M205.5 367.5 L215.0 362.5 L227.5 358.8 L240.0 357.5 L252.5 357.0 L262.5 352.5 L265.0 348.8 L276.2 343.8 L280.0 342.5 L283.8 348.8 L290.0 350.0 L295.0 345.0 L297.5 350.0 L307.5 349.5 L300.0 352.5 L295.0 360.0 L292.5 370.0 L290.0 380.0 L295.0 386.2 L296.2 390.0 L290.0 391.2 L287.5 397.5 L290.0 410.0 L292.5 413.8 L287.5 412.5 L282.5 407.5 L277.5 413.8 L273.8 407.5 L270.0 406.2 L265.0 412.5 L260.0 416.2 L257.5 422.5 L247.5 423.8 L240.0 422.5 L238.8 428.8 L232.5 433.8 L226.2 435.0 L233.8 428.8 L235.0 422.5 L231.2 420.0 L226.2 425.0 L221.2 428.8 L225.0 420.0 L227.5 412.5 L220.0 410.0 L212.5 416.2 L205.0 417.5 L212.5 410.0 L215.0 400.0 L211.2 390.0 L210.0 377.5Z M112.5 320.0 L118.0 316.0 L129.0 318.7 L130.4 325.6 L140.0 331.0 L148.3 332.5 L151.0 338.0 L159.3 339.3 L170.4 344.8 L181.4 349.0 L189.6 353.1 L199.3 361.4 L204.8 366.9 L198.0 364.5 L188.0 356.5 L179.5 352.2 L168.5 348.0 L157.5 342.8 L149.7 342.1 L142.8 342.1 L137.3 346.2 L130.4 343.5 L125.0 340.7 L119.4 335.2 L116.7 328.3Z M128.8 370.0 L140.0 368.8 L152.5 369.5 L165.0 372.5 L173.8 377.5 L177.5 385.0 L177.5 395.0 L175.0 400.0 L176.2 410.0 L170.0 413.8 L162.5 412.5 L161.2 407.5 L168.8 402.5 L172.5 395.0 L167.5 390.0 L160.0 397.5 L155.0 392.5 L150.0 387.5 L147.5 400.0 L145.0 398.8 L143.8 385.0 L136.2 380.0 L130.0 376.2Z M287.5 306.2 L281.2 303.8 L277.5 287.5 L283.8 283.8 L290.0 285.0 L292.5 275.0 L297.5 265.0 L305.0 255.0 L312.5 247.5 L315.0 240.0 L325.0 232.5 L325.0 237.5 L320.0 245.0 L317.5 253.8 L311.2 267.5 L310.0 275.0 L305.0 285.0 L300.0 296.2 L310.0 275.0 L302.5 282.5 L303.8 292.5 L297.5 300.0Z M325.0 232.5 L337.5 228.8 L347.5 225.0 L353.8 218.0 L358.8 223.8 L375.0 225.0 L387.5 226.2 L387.5 231.2 L375.0 231.2 L362.5 233.8 L353.8 242.5 L347.5 237.5 L337.5 237.5 L332.5 241.2 L325.0 237.5Z M387.5 226.2 L400.0 230.0 L407.5 226.2 L415.0 224.5 L420.0 230.0 L430.0 233.8 L438.8 240.0 L445.0 246.2 L443.8 250.0 L436.2 246.2 L427.5 242.5 L420.0 237.5 L410.0 232.5 L400.0 235.0 L392.5 231.2 L387.5 231.2Z M445.0 246.2 L450.0 246.2 L460.0 247.5 L475.0 246.2 L482.5 250.0 L480.0 258.8 L470.0 257.5 L460.0 256.2 L450.0 256.2 L446.2 251.2Z M492.5 248.8 L495.0 256.2 L500.0 263.8 L498.8 275.0 L496.2 272.5 L492.5 262.5 L488.8 255.0Z M530.0 376.2 L540.0 373.8 L550.0 371.2 L562.5 370.0 L565.0 366.2 L575.0 368.8 L586.2 365.0 L590.0 376.2 L586.2 386.2 L577.5 387.5 L570.0 383.8 L560.0 383.8 L550.0 382.5 L540.0 378.8Z M606.2 412.5 L615.0 410.0 L623.8 410.5 L620.0 417.5 L623.8 425.0 L625.0 435.0 L621.2 441.2 L617.5 440.0 L616.2 430.0 L612.5 422.5 L608.8 416.2Z M623.0 473.8 L632.5 476.2 L640.5 481.2 L637.5 488.8 L632.5 492.5 L633.0 503.8 L626.2 507.5 L622.5 500.0 L618.8 492.5 L621.2 485.0Z M306.2 577.5 L320.0 572.5 L335.0 577.5 L350.0 585.0 L365.0 588.8 L380.0 589.5 L390.0 585.0 L393.8 582.5 L391.2 575.0 L396.2 565.0 L397.5 555.0 L393.8 547.5 L387.5 537.5 L380.0 527.5 L370.0 517.5 L360.0 510.0 L350.0 506.2 L340.0 502.5 L335.0 498.8 L336.2 507.5 L342.5 515.0 L345.0 525.0 L340.0 522.5 L333.8 521.2 L325.0 522.5 L317.5 527.5 L316.2 537.5 L310.0 540.0 L302.5 537.5 L300.0 545.0 L296.2 547.5 L300.0 557.5 L305.0 567.5 L300.0 570.0Z M165.0 437.5 L161.2 447.5 L163.8 457.5 L157.5 468.8 L152.5 472.5 L153.0 482.5 L160.0 495.0 L166.2 493.8 L168.8 482.5 L167.5 470.0 L168.8 460.0 L167.5 447.5 L170.0 437.5Z M191.2 477.5 L196.2 482.5 L192.5 490.0 L197.5 500.0 L198.8 507.5 L191.2 512.5 L192.5 522.5 L197.5 532.5 L201.2 545.0 L206.2 555.0 L205.0 562.5 L215.0 557.5 L221.2 557.5 L227.5 566.2 L237.5 572.5 L236.2 567.5 L228.8 560.0 L222.5 552.5 L215.0 550.0 L211.2 545.0 L207.5 535.0 L203.8 525.0 L200.0 515.0 L203.8 507.5 L202.5 497.5 L198.8 487.5 L200.0 481.2 L195.0 475.5Z" fill="#f1f6ff" stroke="#808080" stroke-width="3.6" stroke-linejoin="round"/>
<ellipse cx="268" cy="372" rx="9" ry="19" transform="rotate(-25 268 372)" fill="#f1edd2"/>
<circle cx="356.4" cy="449.5" r="9.5" fill="#fffef6"/>
</g>
<circle cx="857.0" cy="178.5" r="102.0" fill="none" stroke="#636e7a" stroke-width="2"/>
</g>
<g id="hists">
<rect x="750.6" y="576.60" width="16.5" height="2.43" fill="#c03c55"/><rect x="750.6" y="574.47" width="76" height="2.43" fill="#c23e55"/><rect x="750.6" y="572.34" width="50.5" height="2.43" fill="#c44155"/><rect x="750.6" y="570.20" width="26.5" height="2.43" fill="#c64355"/><rect x="750.6" y="568.07" width="17.5" height="2.43" fill="#c84555"/><rect x="750.6" y="565.94" width="13.5" height="2.43" fill="#ca4855"/><rect x="750.6" y="563.80" width="10.5" height="2.43" fill="#cc4a55"/><rect x="750.6" y="561.67" width="8.8" height="2.43" fill="#ce4c55"/><rect x="750.6" y="559.54" width="7.5" height="2.43" fill="#d04f55"/><rect x="750.6" y="557.40" width="6.5" height="2.43" fill="#d25155"/><rect x="750.6" y="555.27" width="5.7" height="2.43" fill="#d45355"/><rect x="750.6" y="553.14" width="5.1" height="2.43" fill="#d65655"/><rect x="750.6" y="551.00" width="4.5" height="2.43" fill="#d85855"/><rect x="750.6" y="548.87" width="4.0" height="2.43" fill="#da5a55"/><rect x="750.6" y="546.74" width="3.6" height="2.43" fill="#dc5d55"/><rect x="750.6" y="544.61" width="3.2" height="2.43" fill="#de5f55"/><rect x="750.6" y="542.47" width="2.9" height="2.43" fill="#e06155"/><rect x="750.6" y="540.34" width="2.6" height="2.43" fill="#e26455"/><rect x="750.6" y="538.21" width="2.4" height="2.43" fill="#e46655"/><rect x="750.6" y="536.07" width="2.2" height="2.43" fill="#e66855"/><rect x="750.6" y="533.94" width="2.0" height="2.43" fill="#e86b55"/><rect x="750.6" y="531.81" width="1.8" height="2.43" fill="#ea6d55"/><rect x="750.6" y="529.68" width="1.7" height="2.43" fill="#ec6f55"/><rect x="750.6" y="527.54" width="1.5" height="2.43" fill="#ee7255"/><rect x="750.6" y="525.41" width="1.4" height="2.43" fill="#f07455"/><rect x="750.6" y="523.28" width="1.3" height="2.43" fill="#f17655"/><rect x="750.6" y="521.14" width="1.2" height="2.43" fill="#f37855"/>
<rect x="750.6" y="298.5" width="81.0" height="296.7" fill="none" stroke="#000" stroke-width="0.95"/>
<path d="M750.6 581.2 H746.5" stroke="#000" stroke-width="0.95"/><text x="741.7" y="585.4" font-size="11.2" text-anchor="end">0.00</text>
<path d="M750.6 536.2 H746.5" stroke="#000" stroke-width="0.95"/><text x="741.7" y="540.4" font-size="11.2" text-anchor="end">0.05</text>
<path d="M750.6 491.2 H746.5" stroke="#000" stroke-width="0.95"/><text x="741.7" y="495.4" font-size="11.2" text-anchor="end">0.10</text>
<path d="M750.6 446.2 H746.5" stroke="#000" stroke-width="0.95"/><text x="741.7" y="450.4" font-size="11.2" text-anchor="end">0.15</text>
<path d="M750.6 401.2 H746.5" stroke="#000" stroke-width="0.95"/><text x="741.7" y="405.4" font-size="11.2" text-anchor="end">0.20</text>
<path d="M750.6 356.2 H746.5" stroke="#000" stroke-width="0.95"/><text x="741.7" y="360.4" font-size="11.2" text-anchor="end">0.25</text>
<path d="M750.6 311.2 H746.5" stroke="#000" stroke-width="0.95"/><text x="741.7" y="315.4" font-size="11.2" text-anchor="end">0.30</text>
<text x="785.6" y="609.3" font-size="11.8" text-anchor="middle">Plot Range</text>
<rect x="908.4" y="298.5" width="81.0" height="296.7" fill="none" stroke="#000" stroke-width="0.95"/>
<rect x="908.4" y="579.4" width="77" height="1.5" fill="#3b3ba0"/><rect x="908.4" y="577.8" width="1.4" height="2" fill="#3b3ba0"/>
<path d="M908.4 581.0 H904.3" stroke="#000" stroke-width="0.95"/><text x="899.5" y="585.2" font-size="11.2" text-anchor="end">0</text>
<path d="M908.4 516.8 H904.3" stroke="#000" stroke-width="0.95"/><text x="899.5" y="521.0" font-size="11.2" text-anchor="end">5</text>
<path d="M908.4 452.6 H904.3" stroke="#000" stroke-width="0.95"/><text x="899.5" y="456.8" font-size="11.2" text-anchor="end">10</text>
<path d="M908.4 388.4 H904.3" stroke="#000" stroke-width="0.95"/><text x="899.5" y="392.6" font-size="11.2" text-anchor="end">15</text>
<path d="M908.4 324.2 H904.3" stroke="#000" stroke-width="0.95"/><text x="899.5" y="328.4" font-size="11.2" text-anchor="end">20</text>
<text x="942.4" y="609.3" font-size="11.8" text-anchor="middle">Full Range</text>
<text transform="translate(877.5 448) rotate(-90)" font-size="11.8" text-anchor="middle">(m/yr)</text>
</g>
<g id="scatter">
<path d="M792.5 801.4 L792.9 798.8 L793.4 799.4 L794.0 799.0 L794.6 799.3 L795.2 798.8 L795.8 799.6 L796.3 799.3 L796.9 798.9 L797.5 798.9 L798.1 798.8 L798.6 799.2 L799.2 799.3 L799.8 798.7 L800.4 799.0 L801.0 795.4 L801.5 794.7 L802.1 787.4 L802.7 794.2 L803.3 792.4 L803.9 791.1 L804.4 794.1 L805.0 793.8 L805.6 793.0 L806.2 793.7 L806.7 793.0 L807.3 791.6 L807.9 790.4 L808.5 793.2 L809.1 788.4 L809.6 791.9 L810.2 789.8 L810.8 793.9 L811.4 790.1 L812.0 794.8 L812.5 792.7 L813.1 794.6 L813.7 785.3 L814.3 795.6 L814.9 793.3 L815.4 792.0 L816.0 795.3 L816.6 794.3 L817.2 796.1 L817.7 795.4 L818.3 796.2 L818.9 793.5 L819.5 794.9 L820.1 794.2 L820.6 790.9 L821.2 795.2 L821.8 794.6 L822.4 796.7 L823.0 793.8 L823.5 794.9 L824.1 793.7 L824.7 796.4 L825.3 792.8 L825.8 794.8 L826.4 796.3 L827.0 794.3 L827.6 794.4 L828.2 795.3 L828.7 791.7 L829.3 795.6 L829.9 795.0 L830.5 795.2 L831.1 795.9 L831.6 796.1 L832.2 796.2 L832.8 794.9 L833.4 793.6 L833.9 795.5 L834.5 794.9 L835.1 792.1 L835.7 793.7 L836.3 793.5 L836.8 794.3 L837.4 794.6 L838.0 796.2 L838.6 794.4 L839.2 791.3 L839.7 795.7 L840.3 794.6 L840.9 790.7 L841.5 796.0 L842.0 793.7 L842.6 794.0 L843.2 793.2 L843.8 789.2 L844.4 791.2 L844.9 796.1 L845.5 794.3 L846.1 796.2 L846.7 793.8 L847.3 796.2 L847.8 795.3 L848.4 792.9 L849.0 794.0 L849.6 795.9 L850.2 791.8 L850.7 793.4 L851.3 793.1 L851.9 792.0 L852.5 794.3 L853.0 789.5 L853.6 792.0 L854.2 793.9 L854.8 792.8 L855.4 789.5 L855.9 791.1 L856.5 794.1 L857.1 792.1 L857.7 793.6 L858.3 786.8 L858.8 791.8 L859.4 787.3 L860.0 791.5 L860.6 791.9 L861.1 793.7 L861.7 794.5 L862.3 787.6 L862.9 793.6 L863.5 795.4 L864.0 791.1 L864.6 795.8 L865.2 790.4 L865.8 794.2 L866.4 794.9 L866.9 794.2 L867.5 792.1 L868.1 794.5 L868.7 795.7 L869.2 791.0 L869.8 794.4 L870.4 794.7 L871.0 795.0 L871.6 794.8 L872.1 795.6 L872.7 794.1 L873.3 796.3 L873.9 795.5 L874.5 796.1 L875.0 795.2 L875.6 793.8 L876.2 794.9 L876.8 795.6 L877.4 792.1 L877.9 791.3 L878.5 791.7 L879.1 795.6 L879.7 794.6 L880.2 792.2 L880.8 795.5 L881.4 795.3 L882.0 789.1 L882.6 795.0 L883.1 793.3 L883.7 788.1 L884.3 791.2 L884.9 794.9 L885.5 790.4 L886.0 794.7 L886.6 790.2 L887.2 784.4 L887.8 791.6 L888.3 793.2 L888.9 794.4 L889.5 788.2 L890.1 794.4 L890.7 789.9 L891.2 792.8 L891.8 788.0 L892.4 791.8 L893.0 790.7 L893.6 789.4 L894.1 790.8 L894.7 789.7 L895.3 791.7 L895.9 791.8 L896.4 791.4 L897.0 792.3 L897.6 792.3 L898.2 790.8 L898.8 792.4 L899.3 790.7 L899.9 792.5 L900.5 788.3 L901.1 794.5 L901.7 794.4 L902.2 791.8 L902.8 794.6 L903.4 791.0 L904.0 789.6 L904.5 793.0 L905.1 790.8 L905.7 792.7 L906.3 791.3 L906.9 794.7 L907.4 793.4 L908.0 795.4 L908.6 794.6 L909.2 792.4 L909.8 790.6 L910.3 791.3 L910.9 796.0 L911.5 795.5 L912.1 794.6 L912.7 791.7 L913.2 795.5 L913.8 794.3 L914.4 792.3 L915.0 793.5 L915.5 790.0 L916.1 793.7 L916.7 793.8 L917.3 791.8 L917.9 794.7 L918.4 792.6 L919.0 793.2 L919.6 789.0 L920.2 793.1 L920.8 793.1 L921.3 792.7 L921.9 793.6 L922.5 792.4 L923.1 791.9 L923.6 791.5 L924.2 789.4 L924.8 792.6 L925.4 787.1 L926.0 794.1 L926.5 792.6 L927.1 792.1 L927.7 793.8 L928.3 793.9 L928.9 791.6 L929.4 792.3 L930.0 792.4 L930.6 792.8 L931.2 789.9 L931.7 792.1 L932.3 795.2 L932.9 795.0 L933.5 795.5 L934.1 795.4 L934.6 795.5 L935.2 795.2 L935.8 792.4 L936.4 794.4 L937.0 791.3 L937.5 794.8 L938.1 796.4 L938.7 795.9 L939.3 796.4 L939.8 795.6 L940.4 794.7 L941.0 796.1 L941.6 796.0 L942.2 794.4 L942.7 794.3 L943.3 793.6 L943.9 793.5 L944.5 794.0 L945.1 789.4 L945.6 795.9 L946.2 794.9 L946.8 794.8 L947.4 796.5 L948.0 793.3 L948.5 798.0 L949.1 797.8 L949.7 796.3 L950.3 797.8 L950.8 795.4 L951.4 797.0 L952.0 801.4 Z" fill="#1f77b4" stroke="#1f77b4" stroke-width="1.3" stroke-linejoin="round"/>
<circle cx="892.9" cy="787.6" r="0.85" fill="#1f77b4"/><circle cx="859.9" cy="787.0" r="0.85" fill="#1f77b4"/><circle cx="936.4" cy="795.5" r="0.85" fill="#1f77b4"/><circle cx="940.3" cy="790.6" r="0.85" fill="#1f77b4"/><circle cx="820.6" cy="793.6" r="0.85" fill="#1f77b4"/><circle cx="894.5" cy="783.1" r="0.85" fill="#1f77b4"/><circle cx="857.4" cy="789.7" r="0.85" fill="#1f77b4"/><circle cx="932.4" cy="788.0" r="0.85" fill="#1f77b4"/><circle cx="942.1" cy="793.6" r="0.85" fill="#1f77b4"/><circle cx="898.4" cy="792.8" r="0.85" fill="#1f77b4"/><circle cx="908.9" cy="787.7" r="0.85" fill="#1f77b4"/><circle cx="896.9" cy="788.2" r="0.85" fill="#1f77b4"/><circle cx="833.0" cy="786.2" r="0.85" fill="#1f77b4"/><circle cx="947.5" cy="779.6" r="0.85" fill="#1f77b4"/><circle cx="881.3" cy="788.5" r="0.85" fill="#1f77b4"/><circle cx="849.0" cy="785.1" r="0.85" fill="#1f77b4"/><circle cx="928.9" cy="792.2" r="0.85" fill="#1f77b4"/><circle cx="813.6" cy="792.4" r="0.85" fill="#1f77b4"/><circle cx="883.3" cy="788.7" r="0.85" fill="#1f77b4"/><circle cx="873.9" cy="796.0" r="0.85" fill="#1f77b4"/><circle cx="921.9" cy="794.0" r="0.85" fill="#1f77b4"/><circle cx="920.5" cy="793.8" r="0.85" fill="#1f77b4"/><circle cx="851.2" cy="788.2" r="0.85" fill="#1f77b4"/><circle cx="822.2" cy="795.6" r="0.85" fill="#1f77b4"/><circle cx="878.3" cy="790.1" r="0.85" fill="#1f77b4"/><circle cx="926.5" cy="788.6" r="0.85" fill="#1f77b4"/><circle cx="942.3" cy="793.3" r="0.85" fill="#1f77b4"/><circle cx="942.8" cy="795.9" r="0.85" fill="#1f77b4"/><circle cx="834.2" cy="793.0" r="0.85" fill="#1f77b4"/><circle cx="844.5" cy="790.5" r="0.85" fill="#1f77b4"/><circle cx="896.5" cy="790.5" r="0.85" fill="#1f77b4"/><circle cx="927.1" cy="790.2" r="0.85" fill="#1f77b4"/><circle cx="847.7" cy="793.9" r="0.85" fill="#1f77b4"/><circle cx="927.3" cy="783.6" r="0.85" fill="#1f77b4"/><circle cx="832.3" cy="787.9" r="0.85" fill="#1f77b4"/><circle cx="945.7" cy="793.1" r="0.85" fill="#1f77b4"/><circle cx="886.7" cy="793.6" r="0.85" fill="#1f77b4"/><circle cx="881.2" cy="792.4" r="0.85" fill="#1f77b4"/><circle cx="891.5" cy="793.9" r="0.85" fill="#1f77b4"/><circle cx="945.8" cy="793.1" r="0.85" fill="#1f77b4"/><circle cx="861.0" cy="787.1" r="0.85" fill="#1f77b4"/><circle cx="885.2" cy="791.9" r="0.85" fill="#1f77b4"/><circle cx="904.3" cy="794.3" r="0.85" fill="#1f77b4"/><circle cx="881.6" cy="793.0" r="0.85" fill="#1f77b4"/><circle cx="944.0" cy="785.0" r="0.85" fill="#1f77b4"/><circle cx="841.4" cy="793.5" r="0.85" fill="#1f77b4"/><circle cx="820.2" cy="793.8" r="0.85" fill="#1f77b4"/><circle cx="922.9" cy="783.9" r="0.85" fill="#1f77b4"/><circle cx="872.3" cy="794.5" r="0.85" fill="#1f77b4"/><circle cx="829.8" cy="792.1" r="0.85" fill="#1f77b4"/><circle cx="939.2" cy="795.6" r="0.85" fill="#1f77b4"/><circle cx="917.5" cy="795.2" r="0.85" fill="#1f77b4"/><circle cx="830.2" cy="795.2" r="0.85" fill="#1f77b4"/><circle cx="903.7" cy="792.8" r="0.85" fill="#1f77b4"/><circle cx="854.2" cy="789.7" r="0.85" fill="#1f77b4"/><circle cx="816.9" cy="790.1" r="0.85" fill="#1f77b4"/><circle cx="819.5" cy="793.1" r="0.85" fill="#1f77b4"/><circle cx="838.6" cy="795.4" r="0.85" fill="#1f77b4"/><circle cx="880.3" cy="793.0" r="0.85" fill="#1f77b4"/><circle cx="857.3" cy="791.0" r="0.85" fill="#1f77b4"/><circle cx="880.2" cy="794.8" r="0.85" fill="#1f77b4"/><circle cx="831.7" cy="791.9" r="0.85" fill="#1f77b4"/><circle cx="896.5" cy="790.4" r="0.85" fill="#1f77b4"/><circle cx="928.2" cy="789.8" r="0.85" fill="#1f77b4"/><circle cx="929.0" cy="793.0" r="0.85" fill="#1f77b4"/><circle cx="911.7" cy="788.2" r="0.85" fill="#1f77b4"/><circle cx="935.9" cy="794.2" r="0.85" fill="#1f77b4"/><circle cx="848.2" cy="784.6" r="0.85" fill="#1f77b4"/><circle cx="933.6" cy="794.7" r="0.85" fill="#1f77b4"/><circle cx="836.9" cy="790.6" r="0.85" fill="#1f77b4"/><circle cx="839.9" cy="795.9" r="0.85" fill="#1f77b4"/><circle cx="925.4" cy="791.3" r="0.85" fill="#1f77b4"/><circle cx="919.1" cy="794.4" r="0.85" fill="#1f77b4"/><circle cx="861.3" cy="789.3" r="0.85" fill="#1f77b4"/><circle cx="803.9" cy="793.0" r="0.85" fill="#1f77b4"/><circle cx="903.0" cy="783.7" r="0.85" fill="#1f77b4"/><circle cx="945.7" cy="795.8" r="0.85" fill="#1f77b4"/><circle cx="876.7" cy="789.7" r="0.85" fill="#1f77b4"/><circle cx="876.2" cy="790.8" r="0.85" fill="#1f77b4"/><circle cx="829.4" cy="796.0" r="0.85" fill="#1f77b4"/><circle cx="817.1" cy="795.8" r="0.85" fill="#1f77b4"/><circle cx="883.5" cy="791.9" r="0.85" fill="#1f77b4"/><circle cx="886.1" cy="794.0" r="0.85" fill="#1f77b4"/><circle cx="828.7" cy="795.3" r="0.85" fill="#1f77b4"/><circle cx="926.6" cy="773.3" r="0.85" fill="#1f77b4"/><circle cx="939.5" cy="795.8" r="0.85" fill="#1f77b4"/><circle cx="810.5" cy="780.2" r="0.85" fill="#1f77b4"/><circle cx="870.1" cy="789.8" r="0.85" fill="#1f77b4"/><circle cx="850.0" cy="792.7" r="0.85" fill="#1f77b4"/><circle cx="878.1" cy="793.3" r="0.85" fill="#1f77b4"/><circle cx="890.9" cy="794.0" r="0.85" fill="#1f77b4"/><circle cx="905.8" cy="786.6" r="0.85" fill="#1f77b4"/><circle cx="828.3" cy="793.7" r="0.85" fill="#1f77b4"/><circle cx="911.5" cy="793.2" r="0.85" fill="#1f77b4"/><circle cx="830.3" cy="795.6" r="0.85" fill="#1f77b4"/><circle cx="877.7" cy="795.8" r="0.85" fill="#1f77b4"/><circle cx="934.5" cy="788.4" r="0.85" fill="#1f77b4"/><circle cx="906.3" cy="786.2" r="0.85" fill="#1f77b4"/><circle cx="895.1" cy="791.5" r="0.85" fill="#1f77b4"/><circle cx="890.7" cy="791.0" r="0.85" fill="#1f77b4"/><circle cx="947.8" cy="789.1" r="0.85" fill="#1f77b4"/><circle cx="839.7" cy="785.6" r="0.85" fill="#1f77b4"/><circle cx="912.3" cy="788.9" r="0.85" fill="#1f77b4"/><circle cx="922.7" cy="791.8" r="0.85" fill="#1f77b4"/><circle cx="935.0" cy="786.3" r="0.85" fill="#1f77b4"/><circle cx="904.9" cy="788.2" r="0.85" fill="#1f77b4"/><circle cx="915.4" cy="793.3" r="0.85" fill="#1f77b4"/><circle cx="909.0" cy="794.9" r="0.85" fill="#1f77b4"/><circle cx="852.2" cy="791.9" r="0.85" fill="#1f77b4"/><circle cx="802.8" cy="792.5" r="0.85" fill="#1f77b4"/><circle cx="896.5" cy="789.5" r="0.85" fill="#1f77b4"/><circle cx="835.8" cy="783.6" r="0.85" fill="#1f77b4"/><circle cx="900.6" cy="792.2" r="0.85" fill="#1f77b4"/><circle cx="899.6" cy="790.2" r="0.85" fill="#1f77b4"/><circle cx="880.7" cy="793.3" r="0.85" fill="#1f77b4"/><circle cx="950.4" cy="793.4" r="0.85" fill="#1f77b4"/><circle cx="905.8" cy="788.5" r="0.85" fill="#1f77b4"/><circle cx="947.4" cy="796.2" r="0.85" fill="#1f77b4"/><circle cx="893.0" cy="787.9" r="0.85" fill="#1f77b4"/><circle cx="839.5" cy="794.1" r="0.85" fill="#1f77b4"/><circle cx="808.7" cy="792.2" r="0.85" fill="#1f77b4"/><circle cx="857.3" cy="792.9" r="0.85" fill="#1f77b4"/><circle cx="838.6" cy="785.9" r="0.85" fill="#1f77b4"/><circle cx="883.3" cy="792.0" r="0.85" fill="#1f77b4"/><circle cx="945.5" cy="792.6" r="0.85" fill="#1f77b4"/><circle cx="949.7" cy="793.5" r="0.85" fill="#1f77b4"/><circle cx="922.0" cy="793.9" r="0.85" fill="#1f77b4"/><circle cx="890.4" cy="787.8" r="0.85" fill="#1f77b4"/><circle cx="807.9" cy="781.3" r="0.85" fill="#1f77b4"/><circle cx="825.1" cy="793.5" r="0.85" fill="#1f77b4"/><circle cx="826.4" cy="793.3" r="0.85" fill="#1f77b4"/><circle cx="892.4" cy="793.6" r="0.85" fill="#1f77b4"/><circle cx="942.2" cy="793.9" r="0.85" fill="#1f77b4"/><circle cx="879.8" cy="791.6" r="0.85" fill="#1f77b4"/><circle cx="855.8" cy="792.1" r="0.85" fill="#1f77b4"/><circle cx="898.9" cy="790.3" r="0.85" fill="#1f77b4"/><circle cx="843.5" cy="790.7" r="0.85" fill="#1f77b4"/><circle cx="845.4" cy="796.2" r="0.85" fill="#1f77b4"/><circle cx="837.8" cy="796.2" r="0.85" fill="#1f77b4"/><circle cx="824.6" cy="790.1" r="0.85" fill="#1f77b4"/><circle cx="859.4" cy="783.7" r="0.85" fill="#1f77b4"/><circle cx="912.9" cy="795.4" r="0.85" fill="#1f77b4"/><circle cx="948.7" cy="785.2" r="0.85" fill="#1f77b4"/><circle cx="812.2" cy="783.9" r="0.85" fill="#1f77b4"/><circle cx="865.3" cy="792.9" r="0.85" fill="#1f77b4"/><circle cx="946.4" cy="795.1" r="0.85" fill="#1f77b4"/><circle cx="879.3" cy="783.4" r="0.85" fill="#1f77b4"/><circle cx="909.0" cy="792.5" r="0.85" fill="#1f77b4"/><circle cx="947.2" cy="788.8" r="0.85" fill="#1f77b4"/><circle cx="891.3" cy="793.5" r="0.85" fill="#1f77b4"/><circle cx="894.3" cy="791.1" r="0.85" fill="#1f77b4"/><circle cx="831.6" cy="796.1" r="0.85" fill="#1f77b4"/><circle cx="880.0" cy="795.0" r="0.85" fill="#1f77b4"/><circle cx="867.3" cy="791.2" r="0.85" fill="#1f77b4"/><circle cx="869.2" cy="794.8" r="0.85" fill="#1f77b4"/><circle cx="888.1" cy="792.0" r="0.85" fill="#1f77b4"/><circle cx="917.3" cy="792.0" r="0.85" fill="#1f77b4"/><circle cx="950.0" cy="784.5" r="0.85" fill="#1f77b4"/><circle cx="910.8" cy="794.3" r="0.85" fill="#1f77b4"/><circle cx="818.2" cy="786.3" r="0.85" fill="#1f77b4"/><circle cx="918.2" cy="790.9" r="0.85" fill="#1f77b4"/><circle cx="854.8" cy="792.4" r="0.85" fill="#1f77b4"/><circle cx="903.4" cy="790.7" r="0.85" fill="#1f77b4"/><circle cx="889.5" cy="789.8" r="0.85" fill="#1f77b4"/><circle cx="913.6" cy="794.7" r="0.85" fill="#1f77b4"/><circle cx="838.4" cy="779.1" r="0.85" fill="#1f77b4"/><circle cx="937.8" cy="786.8" r="0.85" fill="#1f77b4"/><circle cx="807.1" cy="792.8" r="0.85" fill="#1f77b4"/><circle cx="841.6" cy="793.9" r="0.85" fill="#1f77b4"/><circle cx="894.2" cy="793.3" r="0.85" fill="#1f77b4"/><circle cx="882.0" cy="795.0" r="0.85" fill="#1f77b4"/><circle cx="814.1" cy="790.2" r="0.85" fill="#1f77b4"/><circle cx="883.4" cy="790.7" r="0.85" fill="#1f77b4"/><circle cx="856.9" cy="790.5" r="0.85" fill="#1f77b4"/><circle cx="832.6" cy="794.5" r="0.85" fill="#1f77b4"/><circle cx="912.3" cy="787.5" r="0.85" fill="#1f77b4"/><circle cx="812.3" cy="793.8" r="0.85" fill="#1f77b4"/><circle cx="921.9" cy="790.0" r="0.85" fill="#1f77b4"/><circle cx="915.9" cy="794.5" r="0.85" fill="#1f77b4"/><circle cx="864.5" cy="794.2" r="0.85" fill="#1f77b4"/><circle cx="922.0" cy="792.2" r="0.85" fill="#1f77b4"/><circle cx="898.7" cy="773.9" r="0.85" fill="#1f77b4"/><circle cx="849.8" cy="792.0" r="0.85" fill="#1f77b4"/><circle cx="912.5" cy="784.4" r="0.85" fill="#1f77b4"/><circle cx="865.0" cy="793.6" r="0.85" fill="#1f77b4"/><circle cx="815.7" cy="786.5" r="0.85" fill="#1f77b4"/><circle cx="812.9" cy="794.3" r="0.85" fill="#1f77b4"/><circle cx="885.4" cy="791.9" r="0.85" fill="#1f77b4"/><circle cx="903.5" cy="792.9" r="0.85" fill="#1f77b4"/><circle cx="916.9" cy="795.1" r="0.85" fill="#1f77b4"/><circle cx="833.0" cy="791.6" r="0.85" fill="#1f77b4"/><circle cx="813.4" cy="793.3" r="0.85" fill="#1f77b4"/><circle cx="909.4" cy="790.1" r="0.85" fill="#1f77b4"/><circle cx="843.4" cy="795.6" r="0.85" fill="#1f77b4"/><circle cx="854.6" cy="788.1" r="0.85" fill="#1f77b4"/><circle cx="855.9" cy="793.0" r="0.85" fill="#1f77b4"/><circle cx="907.0" cy="791.3" r="0.85" fill="#1f77b4"/><circle cx="938.2" cy="783.7" r="0.85" fill="#1f77b4"/><circle cx="937.5" cy="793.5" r="0.85" fill="#1f77b4"/><circle cx="921.0" cy="792.9" r="0.85" fill="#1f77b4"/><circle cx="848.6" cy="793.6" r="0.85" fill="#1f77b4"/><circle cx="940.6" cy="786.3" r="0.85" fill="#1f77b4"/><circle cx="838.3" cy="794.4" r="0.85" fill="#1f77b4"/><circle cx="855.8" cy="791.5" r="0.85" fill="#1f77b4"/><circle cx="860.2" cy="791.8" r="0.85" fill="#1f77b4"/><circle cx="830.3" cy="792.7" r="0.85" fill="#1f77b4"/><circle cx="920.1" cy="791.3" r="0.85" fill="#1f77b4"/><circle cx="926.0" cy="790.1" r="0.85" fill="#1f77b4"/><circle cx="827.6" cy="790.1" r="0.85" fill="#1f77b4"/><circle cx="932.6" cy="793.7" r="0.85" fill="#1f77b4"/><circle cx="804.5" cy="790.5" r="0.85" fill="#1f77b4"/><circle cx="882.4" cy="791.6" r="0.85" fill="#1f77b4"/><circle cx="945.4" cy="791.7" r="0.85" fill="#1f77b4"/><circle cx="921.2" cy="794.2" r="0.85" fill="#1f77b4"/><circle cx="882.8" cy="788.4" r="0.85" fill="#1f77b4"/><circle cx="813.8" cy="794.6" r="0.85" fill="#1f77b4"/><circle cx="911.2" cy="785.4" r="0.85" fill="#1f77b4"/><circle cx="813.9" cy="790.6" r="0.85" fill="#1f77b4"/><circle cx="822.7" cy="790.3" r="0.85" fill="#1f77b4"/><circle cx="898.0" cy="792.6" r="0.85" fill="#1f77b4"/><circle cx="834.1" cy="789.9" r="0.85" fill="#1f77b4"/><circle cx="879.0" cy="789.3" r="0.85" fill="#1f77b4"/><circle cx="860.1" cy="792.1" r="0.85" fill="#1f77b4"/><circle cx="945.7" cy="791.4" r="0.85" fill="#1f77b4"/><circle cx="874.9" cy="792.6" r="0.85" fill="#1f77b4"/><circle cx="908.8" cy="789.8" r="0.85" fill="#1f77b4"/><circle cx="937.7" cy="793.8" r="0.85" fill="#1f77b4"/><circle cx="924.5" cy="789.0" r="0.85" fill="#1f77b4"/><circle cx="928.5" cy="786.8" r="0.85" fill="#1f77b4"/><circle cx="925.6" cy="784.0" r="0.85" fill="#1f77b4"/><circle cx="944.1" cy="791.8" r="0.85" fill="#1f77b4"/><circle cx="879.4" cy="790.2" r="0.85" fill="#1f77b4"/><circle cx="920.9" cy="792.1" r="0.85" fill="#1f77b4"/><circle cx="863.9" cy="794.7" r="0.85" fill="#1f77b4"/><circle cx="911.8" cy="774.7" r="0.85" fill="#1f77b4"/><circle cx="857.2" cy="792.6" r="0.85" fill="#1f77b4"/><circle cx="831.7" cy="793.9" r="0.85" fill="#1f77b4"/><circle cx="844.8" cy="780.8" r="0.85" fill="#1f77b4"/><circle cx="810.1" cy="791.8" r="0.85" fill="#1f77b4"/><circle cx="818.3" cy="791.5" r="0.85" fill="#1f77b4"/><circle cx="917.0" cy="794.5" r="0.85" fill="#1f77b4"/><circle cx="810.5" cy="790.9" r="0.85" fill="#1f77b4"/><circle cx="888.3" cy="783.8" r="0.85" fill="#1f77b4"/><circle cx="806.6" cy="792.6" r="0.85" fill="#1f77b4"/><circle cx="828.7" cy="795.3" r="0.85" fill="#1f77b4"/><circle cx="836.3" cy="790.8" r="0.85" fill="#1f77b4"/><circle cx="889.9" cy="793.0" r="0.85" fill="#1f77b4"/><circle cx="828.8" cy="794.9" r="0.85" fill="#1f77b4"/><circle cx="827.0" cy="790.1" r="0.85" fill="#1f77b4"/><circle cx="847.7" cy="792.5" r="0.85" fill="#1f77b4"/><circle cx="923.1" cy="791.2" r="0.85" fill="#1f77b4"/><circle cx="840.1" cy="786.7" r="0.85" fill="#1f77b4"/><circle cx="937.6" cy="794.2" r="0.85" fill="#1f77b4"/><circle cx="882.9" cy="781.3" r="0.85" fill="#1f77b4"/><circle cx="873.2" cy="795.0" r="0.85" fill="#1f77b4"/><circle cx="808.6" cy="780.1" r="0.85" fill="#1f77b4"/><circle cx="920.8" cy="792.4" r="0.85" fill="#1f77b4"/><circle cx="879.9" cy="792.4" r="0.85" fill="#1f77b4"/><circle cx="842.2" cy="775.9" r="0.85" fill="#1f77b4"/><circle cx="899.3" cy="792.7" r="0.85" fill="#1f77b4"/><circle cx="802.8" cy="791.6" r="0.85" fill="#1f77b4"/><circle cx="856.6" cy="786.4" r="0.85" fill="#1f77b4"/><circle cx="907.6" cy="790.9" r="0.85" fill="#1f77b4"/><circle cx="824.7" cy="795.6" r="0.85" fill="#1f77b4"/><circle cx="849.2" cy="794.4" r="0.85" fill="#1f77b4"/><circle cx="930.9" cy="791.4" r="0.85" fill="#1f77b4"/><circle cx="896.2" cy="771.8" r="0.85" fill="#1f77b4"/><circle cx="841.0" cy="793.0" r="0.85" fill="#1f77b4"/><circle cx="823.7" cy="789.8" r="0.85" fill="#1f77b4"/><circle cx="801.4" cy="787.4" r="0.85" fill="#1f77b4"/><circle cx="927.4" cy="786.2" r="0.85" fill="#1f77b4"/><circle cx="813.5" cy="793.5" r="0.85" fill="#1f77b4"/><circle cx="908.1" cy="794.7" r="0.85" fill="#1f77b4"/><circle cx="872.8" cy="793.4" r="0.85" fill="#1f77b4"/><circle cx="943.8" cy="792.4" r="0.85" fill="#1f77b4"/><circle cx="929.1" cy="792.6" r="0.85" fill="#1f77b4"/><circle cx="919.0" cy="792.7" r="0.85" fill="#1f77b4"/><circle cx="938.0" cy="795.7" r="0.85" fill="#1f77b4"/><circle cx="924.5" cy="792.8" r="0.85" fill="#1f77b4"/><circle cx="882.3" cy="792.0" r="0.85" fill="#1f77b4"/><circle cx="824.7" cy="788.5" r="0.85" fill="#1f77b4"/><circle cx="847.7" cy="794.4" r="0.85" fill="#1f77b4"/><circle cx="812.6" cy="792.9" r="0.85" fill="#1f77b4"/><circle cx="870.9" cy="790.6" r="0.85" fill="#1f77b4"/><circle cx="854.9" cy="788.6" r="0.85" fill="#1f77b4"/><circle cx="817.0" cy="793.7" r="0.85" fill="#1f77b4"/><circle cx="870.1" cy="781.1" r="0.85" fill="#1f77b4"/><circle cx="925.0" cy="789.1" r="0.85" fill="#1f77b4"/><circle cx="803.1" cy="792.3" r="0.85" fill="#1f77b4"/><circle cx="907.1" cy="793.8" r="0.85" fill="#1f77b4"/><circle cx="885.4" cy="792.1" r="0.85" fill="#1f77b4"/><circle cx="802.8" cy="773.3" r="0.85" fill="#1f77b4"/><circle cx="920.5" cy="793.6" r="0.85" fill="#1f77b4"/><circle cx="893.1" cy="792.3" r="0.85" fill="#1f77b4"/><circle cx="857.3" cy="790.0" r="0.85" fill="#1f77b4"/><circle cx="845.7" cy="794.4" r="0.85" fill="#1f77b4"/><circle cx="859.7" cy="789.0" r="0.85" fill="#1f77b4"/><circle cx="839.5" cy="795.4" r="0.85" fill="#1f77b4"/><circle cx="910.3" cy="793.7" r="0.85" fill="#1f77b4"/><circle cx="942.2" cy="792.7" r="0.85" fill="#1f77b4"/><circle cx="909.2" cy="793.5" r="0.85" fill="#1f77b4"/><circle cx="924.6" cy="793.4" r="0.85" fill="#1f77b4"/><circle cx="822.2" cy="795.9" r="0.85" fill="#1f77b4"/><circle cx="902.3" cy="788.8" r="0.85" fill="#1f77b4"/><circle cx="828.1" cy="794.1" r="0.85" fill="#1f77b4"/><circle cx="926.1" cy="789.8" r="0.85" fill="#1f77b4"/><circle cx="814.7" cy="794.2" r="0.85" fill="#1f77b4"/><circle cx="824.7" cy="795.8" r="0.85" fill="#1f77b4"/><circle cx="861.9" cy="794.3" r="0.85" fill="#1f77b4"/><circle cx="938.6" cy="793.7" r="0.85" fill="#1f77b4"/><circle cx="877.5" cy="791.3" r="0.85" fill="#1f77b4"/><circle cx="915.6" cy="788.0" r="0.85" fill="#1f77b4"/><circle cx="858.8" cy="791.8" r="0.85" fill="#1f77b4"/><circle cx="862.7" cy="794.9" r="0.85" fill="#1f77b4"/><circle cx="861.0" cy="789.0" r="0.85" fill="#1f77b4"/><circle cx="947.7" cy="789.5" r="0.85" fill="#1f77b4"/><circle cx="899.7" cy="789.8" r="0.85" fill="#1f77b4"/><circle cx="804.0" cy="792.2" r="0.85" fill="#1f77b4"/><circle cx="852.3" cy="790.0" r="0.85" fill="#1f77b4"/><circle cx="817.1" cy="793.9" r="0.85" fill="#1f77b4"/><circle cx="877.2" cy="789.0" r="0.85" fill="#1f77b4"/><circle cx="924.3" cy="789.7" r="0.85" fill="#1f77b4"/><circle cx="824.8" cy="789.9" r="0.85" fill="#1f77b4"/><circle cx="935.9" cy="792.3" r="0.85" fill="#1f77b4"/><circle cx="853.8" cy="791.0" r="0.85" fill="#1f77b4"/><circle cx="822.4" cy="790.8" r="0.85" fill="#1f77b4"/><circle cx="948.4" cy="793.1" r="0.85" fill="#1f77b4"/><circle cx="907.9" cy="787.1" r="0.85" fill="#1f77b4"/><circle cx="830.6" cy="783.5" r="0.85" fill="#1f77b4"/><circle cx="894.8" cy="792.8" r="0.85" fill="#1f77b4"/><circle cx="813.6" cy="793.7" r="0.85" fill="#1f77b4"/><circle cx="887.2" cy="789.3" r="0.85" fill="#1f77b4"/><circle cx="850.3" cy="783.7" r="0.85" fill="#1f77b4"/><circle cx="855.1" cy="790.9" r="0.85" fill="#1f77b4"/><circle cx="819.7" cy="780.2" r="0.85" fill="#1f77b4"/><circle cx="821.4" cy="786.0" r="0.85" fill="#1f77b4"/><circle cx="882.3" cy="791.7" r="0.85" fill="#1f77b4"/><circle cx="884.8" cy="793.6" r="0.85" fill="#1f77b4"/><circle cx="936.9" cy="774.6" r="0.85" fill="#1f77b4"/><circle cx="923.2" cy="790.0" r="0.85" fill="#1f77b4"/><circle cx="819.5" cy="788.5" r="0.85" fill="#1f77b4"/><circle cx="844.3" cy="786.2" r="0.85" fill="#1f77b4"/><circle cx="837.1" cy="792.6" r="0.85" fill="#1f77b4"/><circle cx="925.1" cy="792.9" r="0.85" fill="#1f77b4"/><circle cx="882.9" cy="794.9" r="0.85" fill="#1f77b4"/><circle cx="806.0" cy="792.4" r="0.85" fill="#1f77b4"/><circle cx="948.5" cy="784.0" r="0.85" fill="#1f77b4"/><circle cx="899.4" cy="792.3" r="0.85" fill="#1f77b4"/><circle cx="901.4" cy="788.2" r="0.85" fill="#1f77b4"/><circle cx="858.2" cy="789.5" r="0.85" fill="#1f77b4"/><circle cx="921.1" cy="794.4" r="0.85" fill="#1f77b4"/><circle cx="831.0" cy="793.6" r="0.85" fill="#1f77b4"/><circle cx="822.5" cy="794.2" r="0.85" fill="#1f77b4"/><circle cx="886.2" cy="793.9" r="0.85" fill="#1f77b4"/><circle cx="878.8" cy="794.4" r="0.85" fill="#1f77b4"/><circle cx="886.0" cy="793.0" r="0.85" fill="#1f77b4"/><circle cx="896.9" cy="793.6" r="0.85" fill="#1f77b4"/><circle cx="901.3" cy="793.5" r="0.85" fill="#1f77b4"/><circle cx="944.3" cy="792.3" r="0.85" fill="#1f77b4"/><circle cx="871.3" cy="793.9" r="0.85" fill="#1f77b4"/><circle cx="894.3" cy="788.6" r="0.85" fill="#1f77b4"/><circle cx="914.3" cy="789.5" r="0.85" fill="#1f77b4"/><circle cx="873.7" cy="773.0" r="0.85" fill="#1f77b4"/><circle cx="926.3" cy="785.2" r="0.85" fill="#1f77b4"/><circle cx="862.2" cy="792.2" r="0.85" fill="#1f77b4"/><circle cx="885.6" cy="784.4" r="0.85" fill="#1f77b4"/><circle cx="879.7" cy="792.3" r="0.85" fill="#1f77b4"/><circle cx="865.7" cy="785.4" r="0.85" fill="#1f77b4"/><circle cx="849.1" cy="795.5" r="0.85" fill="#1f77b4"/><circle cx="909.5" cy="785.1" r="0.85" fill="#1f77b4"/><circle cx="910.4" cy="791.4" r="0.85" fill="#1f77b4"/><circle cx="913.4" cy="794.0" r="0.85" fill="#1f77b4"/><circle cx="889.7" cy="793.9" r="0.85" fill="#1f77b4"/><circle cx="819.8" cy="793.6" r="0.85" fill="#1f77b4"/><circle cx="876.2" cy="793.7" r="0.85" fill="#1f77b4"/><circle cx="809.0" cy="787.9" r="0.85" fill="#1f77b4"/><circle cx="879.7" cy="794.4" r="0.85" fill="#1f77b4"/><circle cx="846.9" cy="793.9" r="0.85" fill="#1f77b4"/><circle cx="836.4" cy="796.0" r="0.85" fill="#1f77b4"/><circle cx="937.2" cy="781.0" r="0.85" fill="#1f77b4"/><circle cx="900.5" cy="785.2" r="0.85" fill="#1f77b4"/><circle cx="864.1" cy="788.2" r="0.85" fill="#1f77b4"/><circle cx="834.3" cy="790.3" r="0.85" fill="#1f77b4"/><circle cx="885.8" cy="784.4" r="0.85" fill="#1f77b4"/><circle cx="815.9" cy="788.8" r="0.85" fill="#1f77b4"/><circle cx="819.7" cy="792.8" r="0.85" fill="#1f77b4"/><circle cx="943.1" cy="796.3" r="0.85" fill="#1f77b4"/><circle cx="837.6" cy="794.8" r="0.85" fill="#1f77b4"/><circle cx="849.7" cy="795.3" r="0.85" fill="#1f77b4"/><circle cx="934.8" cy="788.2" r="0.85" fill="#1f77b4"/><circle cx="860.5" cy="792.1" r="0.85" fill="#1f77b4"/><circle cx="888.6" cy="794.1" r="0.85" fill="#1f77b4"/><circle cx="805.9" cy="783.2" r="0.85" fill="#1f77b4"/><circle cx="847.1" cy="793.0" r="0.85" fill="#1f77b4"/><circle cx="940.5" cy="779.6" r="0.85" fill="#1f77b4"/><circle cx="871.7" cy="795.2" r="0.85" fill="#1f77b4"/><circle cx="845.3" cy="784.9" r="0.85" fill="#1f77b4"/><circle cx="935.0" cy="794.7" r="0.85" fill="#1f77b4"/><circle cx="926.2" cy="791.8" r="0.85" fill="#1f77b4"/><circle cx="871.7" cy="795.4" r="0.85" fill="#1f77b4"/><circle cx="932.5" cy="771.3" r="0.85" fill="#1f77b4"/><circle cx="831.4" cy="791.9" r="0.85" fill="#1f77b4"/><circle cx="829.8" cy="787.0" r="0.85" fill="#1f77b4"/><circle cx="808.7" cy="792.6" r="0.85" fill="#1f77b4"/><circle cx="909.5" cy="793.7" r="0.85" fill="#1f77b4"/><circle cx="935.5" cy="786.8" r="0.85" fill="#1f77b4"/><circle cx="907.6" cy="794.4" r="0.85" fill="#1f77b4"/><circle cx="905.0" cy="782.4" r="0.85" fill="#1f77b4"/><circle cx="867.6" cy="795.7" r="0.85" fill="#1f77b4"/><circle cx="834.5" cy="794.7" r="0.85" fill="#1f77b4"/><circle cx="907.2" cy="794.0" r="0.85" fill="#1f77b4"/><circle cx="828.2" cy="795.2" r="0.85" fill="#1f77b4"/><circle cx="900.4" cy="787.1" r="0.85" fill="#1f77b4"/><circle cx="856.8" cy="788.6" r="0.85" fill="#1f77b4"/><circle cx="933.2" cy="791.3" r="0.85" fill="#1f77b4"/><circle cx="835.4" cy="794.8" r="0.85" fill="#1f77b4"/><circle cx="939.5" cy="791.4" r="0.85" fill="#1f77b4"/><circle cx="842.5" cy="791.8" r="0.85" fill="#1f77b4"/><circle cx="814.6" cy="777.3" r="0.85" fill="#1f77b4"/><circle cx="866.9" cy="792.7" r="0.85" fill="#1f77b4"/><circle cx="880.4" cy="795.3" r="0.85" fill="#1f77b4"/><circle cx="890.7" cy="792.6" r="0.85" fill="#1f77b4"/><circle cx="838.6" cy="789.2" r="0.85" fill="#1f77b4"/><circle cx="814.2" cy="793.7" r="0.85" fill="#1f77b4"/><circle cx="913.9" cy="794.4" r="0.85" fill="#1f77b4"/><circle cx="842.9" cy="792.8" r="0.85" fill="#1f77b4"/><circle cx="829.0" cy="786.3" r="0.85" fill="#1f77b4"/><circle cx="948.6" cy="797.8" r="0.85" fill="#1f77b4"/><circle cx="870.1" cy="790.1" r="0.85" fill="#1f77b4"/><circle cx="858.6" cy="781.8" r="0.85" fill="#1f77b4"/><circle cx="875.8" cy="795.1" r="0.85" fill="#1f77b4"/><circle cx="884.2" cy="790.5" r="0.85" fill="#1f77b4"/><circle cx="854.9" cy="789.0" r="0.85" fill="#1f77b4"/><circle cx="918.0" cy="792.0" r="0.85" fill="#1f77b4"/><circle cx="876.6" cy="787.7" r="0.85" fill="#1f77b4"/><circle cx="903.3" cy="791.2" r="0.85" fill="#1f77b4"/><circle cx="943.2" cy="795.5" r="0.85" fill="#1f77b4"/><circle cx="917.5" cy="794.5" r="0.85" fill="#1f77b4"/><circle cx="891.9" cy="792.8" r="0.85" fill="#1f77b4"/><circle cx="866.9" cy="789.5" r="0.85" fill="#1f77b4"/><circle cx="918.6" cy="788.2" r="0.85" fill="#1f77b4"/><circle cx="836.4" cy="793.4" r="0.85" fill="#1f77b4"/><circle cx="834.2" cy="792.5" r="0.85" fill="#1f77b4"/><circle cx="875.7" cy="795.8" r="0.85" fill="#1f77b4"/><circle cx="890.3" cy="788.6" r="0.85" fill="#1f77b4"/><circle cx="886.6" cy="785.5" r="0.85" fill="#1f77b4"/><circle cx="828.1" cy="795.6" r="0.85" fill="#1f77b4"/><circle cx="803.9" cy="791.0" r="0.85" fill="#1f77b4"/><circle cx="866.1" cy="793.3" r="0.85" fill="#1f77b4"/><circle cx="840.4" cy="789.3" r="0.85" fill="#1f77b4"/><circle cx="812.0" cy="783.8" r="0.85" fill="#1f77b4"/><circle cx="886.1" cy="791.3" r="0.85" fill="#1f77b4"/><circle cx="919.3" cy="793.8" r="0.85" fill="#1f77b4"/><circle cx="823.0" cy="794.7" r="0.85" fill="#1f77b4"/><circle cx="807.5" cy="791.4" r="0.85" fill="#1f77b4"/><circle cx="893.9" cy="790.5" r="0.85" fill="#1f77b4"/><circle cx="840.7" cy="792.4" r="0.85" fill="#1f77b4"/><circle cx="814.4" cy="787.7" r="0.85" fill="#1f77b4"/><circle cx="826.8" cy="795.0" r="0.85" fill="#1f77b4"/><circle cx="825.1" cy="791.2" r="0.85" fill="#1f77b4"/><circle cx="925.2" cy="786.9" r="0.85" fill="#1f77b4"/><circle cx="810.3" cy="791.2" r="0.85" fill="#1f77b4"/><circle cx="855.6" cy="792.5" r="0.85" fill="#1f77b4"/><circle cx="946.0" cy="796.2" r="0.85" fill="#1f77b4"/><circle cx="874.2" cy="789.8" r="0.85" fill="#1f77b4"/><circle cx="948.3" cy="795.7" r="0.85" fill="#1f77b4"/><circle cx="869.1" cy="790.1" r="0.85" fill="#1f77b4"/><circle cx="807.1" cy="791.8" r="0.85" fill="#1f77b4"/><circle cx="934.0" cy="794.8" r="0.85" fill="#1f77b4"/><circle cx="859.8" cy="792.3" r="0.85" fill="#1f77b4"/><circle cx="864.5" cy="795.2" r="0.85" fill="#1f77b4"/><circle cx="915.1" cy="789.7" r="0.85" fill="#1f77b4"/><circle cx="835.5" cy="795.1" r="0.85" fill="#1f77b4"/><circle cx="883.5" cy="793.9" r="0.85" fill="#1f77b4"/><circle cx="870.1" cy="784.3" r="0.85" fill="#1f77b4"/><circle cx="855.5" cy="791.8" r="0.85" fill="#1f77b4"/><circle cx="947.6" cy="792.2" r="0.85" fill="#1f77b4"/><circle cx="807.1" cy="790.8" r="0.85" fill="#1f77b4"/><circle cx="898.2" cy="793.6" r="0.85" fill="#1f77b4"/><circle cx="852.4" cy="789.4" r="0.85" fill="#1f77b4"/><circle cx="930.2" cy="790.5" r="0.85" fill="#1f77b4"/><circle cx="933.4" cy="792.6" r="0.85" fill="#1f77b4"/><circle cx="859.8" cy="785.7" r="0.85" fill="#1f77b4"/><circle cx="858.1" cy="786.7" r="0.85" fill="#1f77b4"/><circle cx="833.4" cy="794.5" r="0.85" fill="#1f77b4"/><circle cx="828.6" cy="792.8" r="0.85" fill="#1f77b4"/><circle cx="825.7" cy="795.3" r="0.85" fill="#1f77b4"/><circle cx="833.2" cy="793.6" r="0.85" fill="#1f77b4"/><circle cx="847.2" cy="793.5" r="0.85" fill="#1f77b4"/><circle cx="949.4" cy="792.9" r="0.85" fill="#1f77b4"/><circle cx="929.9" cy="793.3" r="0.85" fill="#1f77b4"/><circle cx="858.3" cy="793.2" r="0.85" fill="#1f77b4"/><circle cx="904.4" cy="792.6" r="0.85" fill="#1f77b4"/><circle cx="842.2" cy="796.3" r="0.85" fill="#1f77b4"/><circle cx="828.4" cy="795.0" r="0.85" fill="#1f77b4"/><circle cx="859.8" cy="782.5" r="0.85" fill="#1f77b4"/><circle cx="907.9" cy="793.7" r="0.85" fill="#1f77b4"/><circle cx="855.1" cy="793.0" r="0.85" fill="#1f77b4"/><circle cx="940.9" cy="794.3" r="0.85" fill="#1f77b4"/><circle cx="915.4" cy="789.9" r="0.85" fill="#1f77b4"/><circle cx="936.5" cy="795.9" r="0.85" fill="#1f77b4"/><circle cx="849.3" cy="793.6" r="0.85" fill="#1f77b4"/><circle cx="813.6" cy="785.5" r="0.85" fill="#1f77b4"/><circle cx="849.7" cy="789.1" r="0.85" fill="#1f77b4"/><circle cx="878.7" cy="795.5" r="0.85" fill="#1f77b4"/><circle cx="860.0" cy="792.7" r="0.85" fill="#1f77b4"/><circle cx="807.3" cy="792.3" r="0.85" fill="#1f77b4"/><circle cx="890.0" cy="794.0" r="0.85" fill="#1f77b4"/><circle cx="847.8" cy="793.6" r="0.85" fill="#1f77b4"/><circle cx="882.4" cy="794.6" r="0.85" fill="#1f77b4"/><circle cx="906.6" cy="793.6" r="0.85" fill="#1f77b4"/><circle cx="909.4" cy="790.5" r="0.85" fill="#1f77b4"/><circle cx="823.2" cy="795.3" r="0.85" fill="#1f77b4"/><circle cx="843.0" cy="790.8" r="0.85" fill="#1f77b4"/><circle cx="861.7" cy="792.4" r="0.85" fill="#1f77b4"/><circle cx="930.4" cy="793.4" r="0.85" fill="#1f77b4"/><circle cx="844.8" cy="794.4" r="0.85" fill="#1f77b4"/><circle cx="833.4" cy="796.2" r="0.85" fill="#1f77b4"/><circle cx="804.9" cy="789.2" r="0.85" fill="#1f77b4"/><circle cx="885.6" cy="787.5" r="0.85" fill="#1f77b4"/><circle cx="946.8" cy="794.8" r="0.85" fill="#1f77b4"/><circle cx="901.2" cy="783.0" r="0.85" fill="#1f77b4"/><circle cx="833.5" cy="791.2" r="0.85" fill="#1f77b4"/><circle cx="900.7" cy="780.3" r="0.85" fill="#1f77b4"/><circle cx="930.8" cy="793.4" r="0.85" fill="#1f77b4"/><circle cx="895.6" cy="793.4" r="0.85" fill="#1f77b4"/><circle cx="865.0" cy="793.5" r="0.85" fill="#1f77b4"/><circle cx="810.2" cy="791.4" r="0.85" fill="#1f77b4"/><circle cx="850.2" cy="792.4" r="0.85" fill="#1f77b4"/><circle cx="843.0" cy="795.6" r="0.85" fill="#1f77b4"/><circle cx="861.3" cy="791.5" r="0.85" fill="#1f77b4"/><circle cx="826.1" cy="791.5" r="0.85" fill="#1f77b4"/><circle cx="837.0" cy="795.9" r="0.85" fill="#1f77b4"/><circle cx="852.2" cy="792.3" r="0.85" fill="#1f77b4"/><circle cx="823.7" cy="792.5" r="0.85" fill="#1f77b4"/><circle cx="905.8" cy="791.2" r="0.85" fill="#1f77b4"/><circle cx="905.7" cy="794.7" r="0.85" fill="#1f77b4"/><circle cx="859.6" cy="791.8" r="0.85" fill="#1f77b4"/><circle cx="810.6" cy="791.4" r="0.85" fill="#1f77b4"/><circle cx="809.4" cy="790.2" r="0.85" fill="#1f77b4"/><circle cx="888.6" cy="791.6" r="0.85" fill="#1f77b4"/><circle cx="849.8" cy="794.3" r="0.85" fill="#1f77b4"/><circle cx="804.7" cy="791.8" r="0.85" fill="#1f77b4"/><circle cx="934.2" cy="791.8" r="0.85" fill="#1f77b4"/><circle cx="840.3" cy="791.5" r="0.85" fill="#1f77b4"/><circle cx="829.0" cy="793.5" r="0.85" fill="#1f77b4"/><circle cx="893.0" cy="780.2" r="0.85" fill="#1f77b4"/><circle cx="855.3" cy="789.8" r="0.85" fill="#1f77b4"/><circle cx="941.8" cy="789.8" r="0.85" fill="#1f77b4"/><circle cx="894.8" cy="789.5" r="0.85" fill="#1f77b4"/><circle cx="862.5" cy="792.5" r="0.85" fill="#1f77b4"/><circle cx="842.4" cy="788.5" r="0.85" fill="#1f77b4"/><circle cx="932.5" cy="792.9" r="0.85" fill="#1f77b4"/><circle cx="936.9" cy="795.8" r="0.85" fill="#1f77b4"/><circle cx="821.5" cy="793.2" r="0.85" fill="#1f77b4"/><circle cx="847.3" cy="794.1" r="0.85" fill="#1f77b4"/><circle cx="947.0" cy="795.6" r="0.85" fill="#1f77b4"/><circle cx="829.9" cy="795.2" r="0.85" fill="#1f77b4"/><circle cx="902.7" cy="793.1" r="0.85" fill="#1f77b4"/><circle cx="801.4" cy="791.6" r="0.85" fill="#1f77b4"/><circle cx="860.0" cy="792.7" r="0.85" fill="#1f77b4"/><circle cx="874.9" cy="791.4" r="0.85" fill="#1f77b4"/><circle cx="883.0" cy="790.9" r="0.85" fill="#1f77b4"/><circle cx="884.9" cy="787.1" r="0.85" fill="#1f77b4"/><circle cx="945.7" cy="794.6" r="0.85" fill="#1f77b4"/><circle cx="852.9" cy="784.8" r="0.85" fill="#1f77b4"/><circle cx="848.0" cy="790.4" r="0.85" fill="#1f77b4"/><circle cx="905.0" cy="789.5" r="0.85" fill="#1f77b4"/><circle cx="945.0" cy="788.7" r="0.85" fill="#1f77b4"/><circle cx="825.0" cy="792.1" r="0.85" fill="#1f77b4"/><circle cx="874.4" cy="792.4" r="0.85" fill="#1f77b4"/><circle cx="856.3" cy="792.0" r="0.85" fill="#1f77b4"/><circle cx="912.9" cy="792.2" r="0.85" fill="#1f77b4"/><circle cx="836.6" cy="795.1" r="0.85" fill="#1f77b4"/><circle cx="849.7" cy="794.7" r="0.85" fill="#1f77b4"/><circle cx="877.9" cy="795.2" r="0.85" fill="#1f77b4"/><circle cx="810.7" cy="793.4" r="0.85" fill="#1f77b4"/><circle cx="816.5" cy="790.5" r="0.85" fill="#1f77b4"/><circle cx="818.0" cy="793.5" r="0.85" fill="#1f77b4"/><circle cx="916.4" cy="792.6" r="0.85" fill="#1f77b4"/><circle cx="825.5" cy="787.5" r="0.85" fill="#1f77b4"/><circle cx="931.0" cy="794.4" r="0.85" fill="#1f77b4"/><circle cx="839.1" cy="793.2" r="0.85" fill="#1f77b4"/><circle cx="920.0" cy="792.6" r="0.85" fill="#1f77b4"/><circle cx="908.0" cy="793.8" r="0.85" fill="#1f77b4"/><circle cx="908.0" cy="793.4" r="0.85" fill="#1f77b4"/><circle cx="851.0" cy="788.9" r="0.85" fill="#1f77b4"/><circle cx="926.9" cy="786.0" r="0.85" fill="#1f77b4"/><circle cx="885.9" cy="792.4" r="0.85" fill="#1f77b4"/><circle cx="906.7" cy="790.6" r="0.85" fill="#1f77b4"/><circle cx="925.2" cy="786.6" r="0.85" fill="#1f77b4"/><circle cx="819.9" cy="794.2" r="0.85" fill="#1f77b4"/><circle cx="901.1" cy="793.0" r="0.85" fill="#1f77b4"/><circle cx="828.8" cy="796.3" r="0.85" fill="#1f77b4"/><circle cx="888.6" cy="781.8" r="0.85" fill="#1f77b4"/><circle cx="946.0" cy="795.7" r="0.85" fill="#1f77b4"/><circle cx="903.8" cy="792.1" r="0.85" fill="#1f77b4"/><circle cx="895.4" cy="791.5" r="0.85" fill="#1f77b4"/><circle cx="940.5" cy="776.4" r="0.85" fill="#1f77b4"/><circle cx="808.5" cy="787.6" r="0.85" fill="#1f77b4"/><circle cx="818.9" cy="796.0" r="0.85" fill="#1f77b4"/><circle cx="843.9" cy="790.5" r="0.85" fill="#1f77b4"/><circle cx="949.4" cy="797.4" r="0.85" fill="#1f77b4"/><circle cx="850.5" cy="795.2" r="0.85" fill="#1f77b4"/><circle cx="882.2" cy="792.4" r="0.85" fill="#1f77b4"/><circle cx="856.9" cy="791.8" r="0.85" fill="#1f77b4"/><circle cx="920.6" cy="786.6" r="0.85" fill="#1f77b4"/><circle cx="843.5" cy="794.1" r="0.85" fill="#1f77b4"/><circle cx="893.4" cy="787.4" r="0.85" fill="#1f77b4"/><circle cx="947.6" cy="794.2" r="0.85" fill="#1f77b4"/><circle cx="904.8" cy="791.1" r="0.85" fill="#1f77b4"/><circle cx="920.6" cy="793.9" r="0.85" fill="#1f77b4"/><circle cx="827.3" cy="795.8" r="0.85" fill="#1f77b4"/><circle cx="940.5" cy="795.0" r="0.85" fill="#1f77b4"/><circle cx="874.1" cy="795.5" r="0.85" fill="#1f77b4"/><circle cx="849.5" cy="795.5" r="0.85" fill="#1f77b4"/><circle cx="885.6" cy="794.1" r="0.85" fill="#1f77b4"/><circle cx="894.5" cy="792.4" r="0.85" fill="#1f77b4"/><circle cx="835.2" cy="793.4" r="0.85" fill="#1f77b4"/><circle cx="855.8" cy="792.2" r="0.85" fill="#1f77b4"/><circle cx="808.9" cy="792.9" r="0.85" fill="#1f77b4"/><circle cx="934.4" cy="793.9" r="0.85" fill="#1f77b4"/><circle cx="812.9" cy="793.8" r="0.85" fill="#1f77b4"/><circle cx="831.4" cy="787.4" r="0.85" fill="#1f77b4"/><circle cx="873.5" cy="793.8" r="0.85" fill="#1f77b4"/><circle cx="921.6" cy="792.2" r="0.85" fill="#1f77b4"/><circle cx="809.8" cy="789.9" r="0.85" fill="#1f77b4"/><circle cx="899.2" cy="789.6" r="0.85" fill="#1f77b4"/><circle cx="842.6" cy="784.0" r="0.85" fill="#1f77b4"/><circle cx="930.2" cy="771.6" r="0.85" fill="#1f77b4"/><circle cx="867.3" cy="788.1" r="0.85" fill="#1f77b4"/><circle cx="909.4" cy="794.4" r="0.85" fill="#1f77b4"/><circle cx="805.2" cy="792.7" r="0.85" fill="#1f77b4"/><circle cx="818.9" cy="795.9" r="0.85" fill="#1f77b4"/><circle cx="854.8" cy="787.6" r="0.85" fill="#1f77b4"/><circle cx="847.5" cy="792.9" r="0.85" fill="#1f77b4"/><circle cx="802.8" cy="793.4" r="0.85" fill="#1f77b4"/><circle cx="944.3" cy="796.3" r="0.85" fill="#1f77b4"/><circle cx="879.9" cy="788.3" r="0.85" fill="#1f77b4"/><circle cx="919.4" cy="789.1" r="0.85" fill="#1f77b4"/><circle cx="860.8" cy="787.0" r="0.85" fill="#1f77b4"/><circle cx="924.7" cy="787.3" r="0.85" fill="#1f77b4"/><circle cx="948.3" cy="795.9" r="0.85" fill="#1f77b4"/><circle cx="943.0" cy="794.1" r="0.85" fill="#1f77b4"/><circle cx="906.4" cy="793.6" r="0.85" fill="#1f77b4"/><circle cx="936.9" cy="795.9" r="0.85" fill="#1f77b4"/><circle cx="887.3" cy="793.4" r="0.85" fill="#1f77b4"/><circle cx="859.2" cy="791.6" r="0.85" fill="#1f77b4"/><circle cx="899.2" cy="786.6" r="0.85" fill="#1f77b4"/><circle cx="855.6" cy="789.1" r="0.85" fill="#1f77b4"/><circle cx="854.0" cy="792.6" r="0.85" fill="#1f77b4"/><circle cx="936.2" cy="794.2" r="0.85" fill="#1f77b4"/><circle cx="815.3" cy="793.7" r="0.85" fill="#1f77b4"/><circle cx="911.9" cy="794.5" r="0.85" fill="#1f77b4"/><circle cx="912.1" cy="792.1" r="0.85" fill="#1f77b4"/><circle cx="902.7" cy="793.5" r="0.85" fill="#1f77b4"/><circle cx="817.0" cy="795.3" r="0.85" fill="#1f77b4"/><circle cx="853.5" cy="791.7" r="0.85" fill="#1f77b4"/><circle cx="802.6" cy="791.5" r="0.85" fill="#1f77b4"/><circle cx="861.4" cy="792.7" r="0.85" fill="#1f77b4"/><circle cx="881.3" cy="782.0" r="0.85" fill="#1f77b4"/><circle cx="831.8" cy="787.0" r="0.85" fill="#1f77b4"/><circle cx="849.1" cy="789.5" r="0.85" fill="#1f77b4"/><circle cx="817.4" cy="776.6" r="0.85" fill="#1f77b4"/><circle cx="865.4" cy="781.2" r="0.85" fill="#1f77b4"/><circle cx="834.0" cy="794.0" r="0.85" fill="#1f77b4"/><circle cx="906.5" cy="794.0" r="0.85" fill="#1f77b4"/><circle cx="842.0" cy="791.3" r="0.85" fill="#1f77b4"/><circle cx="942.6" cy="794.6" r="0.85" fill="#1f77b4"/><circle cx="828.6" cy="794.4" r="0.85" fill="#1f77b4"/><circle cx="948.8" cy="797.3" r="0.85" fill="#1f77b4"/><circle cx="895.9" cy="791.7" r="0.85" fill="#1f77b4"/><circle cx="897.3" cy="792.7" r="0.85" fill="#1f77b4"/><circle cx="893.2" cy="784.2" r="0.85" fill="#1f77b4"/><circle cx="929.0" cy="789.7" r="0.85" fill="#1f77b4"/><circle cx="876.5" cy="792.2" r="0.85" fill="#1f77b4"/><circle cx="818.2" cy="788.1" r="0.85" fill="#1f77b4"/><circle cx="904.1" cy="791.9" r="0.85" fill="#1f77b4"/><circle cx="900.5" cy="791.6" r="0.85" fill="#1f77b4"/><circle cx="858.6" cy="792.4" r="0.85" fill="#1f77b4"/><circle cx="890.8" cy="790.3" r="0.85" fill="#1f77b4"/><circle cx="878.1" cy="795.7" r="0.85" fill="#1f77b4"/><circle cx="894.8" cy="791.2" r="0.85" fill="#1f77b4"/><circle cx="889.7" cy="790.2" r="0.85" fill="#1f77b4"/><circle cx="940.2" cy="795.5" r="0.85" fill="#1f77b4"/><circle cx="871.1" cy="774.3" r="0.85" fill="#1f77b4"/><circle cx="911.3" cy="793.9" r="0.85" fill="#1f77b4"/><circle cx="911.1" cy="775.4" r="0.85" fill="#1f77b4"/><circle cx="861.2" cy="785.4" r="0.85" fill="#1f77b4"/><circle cx="820.1" cy="775.9" r="0.85" fill="#1f77b4"/><circle cx="874.5" cy="794.9" r="0.85" fill="#1f77b4"/><circle cx="926.6" cy="789.1" r="0.85" fill="#1f77b4"/><circle cx="941.1" cy="788.5" r="0.85" fill="#1f77b4"/><circle cx="920.2" cy="791.6" r="0.85" fill="#1f77b4"/><circle cx="949.5" cy="797.7" r="0.85" fill="#1f77b4"/><circle cx="931.0" cy="789.2" r="0.85" fill="#1f77b4"/><circle cx="838.6" cy="789.1" r="0.85" fill="#1f77b4"/><circle cx="869.0" cy="792.8" r="0.85" fill="#1f77b4"/><circle cx="930.3" cy="793.5" r="0.85" fill="#1f77b4"/><circle cx="842.9" cy="791.8" r="0.85" fill="#1f77b4"/><circle cx="812.2" cy="790.8" r="0.85" fill="#1f77b4"/><circle cx="918.6" cy="792.1" r="0.85" fill="#1f77b4"/><circle cx="837.3" cy="789.2" r="0.85" fill="#1f77b4"/><circle cx="928.8" cy="787.6" r="0.85" fill="#1f77b4"/><circle cx="883.2" cy="784.7" r="0.85" fill="#1f77b4"/><circle cx="920.1" cy="794.0" r="0.85" fill="#1f77b4"/><circle cx="855.8" cy="793.1" r="0.85" fill="#1f77b4"/><circle cx="806.7" cy="791.2" r="0.85" fill="#1f77b4"/><circle cx="930.2" cy="786.5" r="0.85" fill="#1f77b4"/><circle cx="818.7" cy="795.3" r="0.85" fill="#1f77b4"/><circle cx="859.2" cy="785.3" r="0.85" fill="#1f77b4"/><circle cx="893.3" cy="783.6" r="0.85" fill="#1f77b4"/><circle cx="811.9" cy="774.7" r="0.85" fill="#1f77b4"/><circle cx="832.1" cy="792.0" r="0.85" fill="#1f77b4"/><circle cx="932.0" cy="789.2" r="0.85" fill="#1f77b4"/><circle cx="830.6" cy="791.5" r="0.85" fill="#1f77b4"/><circle cx="865.5" cy="795.7" r="0.85" fill="#1f77b4"/><circle cx="851.9" cy="793.2" r="0.85" fill="#1f77b4"/><circle cx="895.2" cy="792.3" r="0.85" fill="#1f77b4"/><circle cx="891.2" cy="788.8" r="0.85" fill="#1f77b4"/><circle cx="828.2" cy="795.7" r="0.85" fill="#1f77b4"/><circle cx="904.7" cy="791.8" r="0.85" fill="#1f77b4"/><circle cx="820.5" cy="795.7" r="0.85" fill="#1f77b4"/><circle cx="941.6" cy="792.1" r="0.85" fill="#1f77b4"/><circle cx="854.6" cy="792.9" r="0.85" fill="#1f77b4"/><circle cx="949.6" cy="792.8" r="0.85" fill="#1f77b4"/><circle cx="911.1" cy="793.5" r="0.85" fill="#1f77b4"/><circle cx="847.5" cy="793.7" r="0.85" fill="#1f77b4"/><circle cx="823.0" cy="791.9" r="0.85" fill="#1f77b4"/><circle cx="864.6" cy="788.0" r="0.85" fill="#1f77b4"/><circle cx="862.2" cy="792.1" r="0.85" fill="#1f77b4"/><circle cx="876.8" cy="783.4" r="0.85" fill="#1f77b4"/><circle cx="852.9" cy="789.1" r="0.85" fill="#1f77b4"/><circle cx="836.3" cy="792.5" r="0.85" fill="#1f77b4"/><circle cx="843.7" cy="787.2" r="0.85" fill="#1f77b4"/><circle cx="844.0" cy="787.8" r="0.85" fill="#1f77b4"/><circle cx="902.2" cy="791.6" r="0.85" fill="#1f77b4"/><circle cx="940.5" cy="794.1" r="0.85" fill="#1f77b4"/><circle cx="912.1" cy="791.5" r="0.85" fill="#1f77b4"/><circle cx="868.1" cy="795.8" r="0.85" fill="#1f77b4"/><circle cx="863.7" cy="793.8" r="0.85" fill="#1f77b4"/><circle cx="867.0" cy="782.4" r="0.85" fill="#1f77b4"/><circle cx="844.9" cy="791.0" r="0.85" fill="#1f77b4"/><circle cx="901.5" cy="792.9" r="0.85" fill="#1f77b4"/><circle cx="862.6" cy="794.3" r="0.85" fill="#1f77b4"/><circle cx="934.8" cy="794.4" r="0.85" fill="#1f77b4"/><circle cx="864.0" cy="793.5" r="0.85" fill="#1f77b4"/><circle cx="923.6" cy="785.6" r="0.85" fill="#1f77b4"/><circle cx="889.3" cy="790.8" r="0.85" fill="#1f77b4"/><circle cx="816.1" cy="785.7" r="0.85" fill="#1f77b4"/><circle cx="814.4" cy="793.3" r="0.85" fill="#1f77b4"/><circle cx="857.1" cy="787.7" r="0.85" fill="#1f77b4"/><circle cx="901.0" cy="792.2" r="0.85" fill="#1f77b4"/><circle cx="935.2" cy="782.5" r="0.85" fill="#1f77b4"/><circle cx="804.7" cy="789.2" r="0.85" fill="#1f77b4"/><circle cx="871.2" cy="794.2" r="0.85" fill="#1f77b4"/><circle cx="870.6" cy="794.5" r="0.85" fill="#1f77b4"/><circle cx="901.3" cy="790.0" r="0.85" fill="#1f77b4"/><circle cx="946.0" cy="779.8" r="0.85" fill="#1f77b4"/><circle cx="949.3" cy="795.7" r="0.85" fill="#1f77b4"/><circle cx="924.8" cy="789.1" r="0.85" fill="#1f77b4"/><circle cx="811.1" cy="791.1" r="0.85" fill="#1f77b4"/><circle cx="861.1" cy="789.6" r="0.85" fill="#1f77b4"/><circle cx="833.7" cy="776.1" r="0.85" fill="#1f77b4"/><circle cx="832.5" cy="794.3" r="0.85" fill="#1f77b4"/><circle cx="822.5" cy="794.1" r="0.85" fill="#1f77b4"/><circle cx="911.9" cy="795.2" r="0.85" fill="#1f77b4"/><circle cx="826.1" cy="791.7" r="0.85" fill="#1f77b4"/><circle cx="894.2" cy="787.8" r="0.85" fill="#1f77b4"/><circle cx="839.0" cy="789.0" r="0.85" fill="#1f77b4"/><circle cx="910.2" cy="788.8" r="0.85" fill="#1f77b4"/><circle cx="819.1" cy="793.4" r="0.85" fill="#1f77b4"/><circle cx="803.6" cy="785.4" r="0.85" fill="#1f77b4"/><circle cx="942.1" cy="786.3" r="0.85" fill="#1f77b4"/><circle cx="804.8" cy="791.7" r="0.85" fill="#1f77b4"/><circle cx="881.2" cy="792.1" r="0.85" fill="#1f77b4"/><circle cx="817.8" cy="789.2" r="0.85" fill="#1f77b4"/><circle cx="846.2" cy="793.1" r="0.85" fill="#1f77b4"/><circle cx="819.8" cy="792.5" r="0.85" fill="#1f77b4"/><circle cx="820.6" cy="795.9" r="0.85" fill="#1f77b4"/><circle cx="877.6" cy="794.3" r="0.85" fill="#1f77b4"/><circle cx="917.2" cy="794.1" r="0.85" fill="#1f77b4"/><circle cx="863.0" cy="794.8" r="0.85" fill="#1f77b4"/><circle cx="833.7" cy="793.7" r="0.85" fill="#1f77b4"/><circle cx="884.5" cy="792.3" r="0.85" fill="#1f77b4"/><circle cx="928.1" cy="793.5" r="0.85" fill="#1f77b4"/><circle cx="928.0" cy="793.2" r="0.85" fill="#1f77b4"/><circle cx="946.0" cy="793.1" r="0.85" fill="#1f77b4"/><circle cx="861.9" cy="790.4" r="0.85" fill="#1f77b4"/><circle cx="930.1" cy="779.7" r="0.85" fill="#1f77b4"/><circle cx="862.9" cy="795.0" r="0.85" fill="#1f77b4"/><circle cx="824.2" cy="788.8" r="0.85" fill="#1f77b4"/><circle cx="910.8" cy="790.0" r="0.85" fill="#1f77b4"/><circle cx="824.6" cy="793.0" r="0.85" fill="#1f77b4"/><circle cx="805.5" cy="792.9" r="0.85" fill="#1f77b4"/><circle cx="846.1" cy="781.2" r="0.85" fill="#1f77b4"/><circle cx="897.1" cy="785.5" r="0.85" fill="#1f77b4"/><circle cx="808.1" cy="790.7" r="0.85" fill="#1f77b4"/><circle cx="812.9" cy="793.3" r="0.85" fill="#1f77b4"/><circle cx="817.9" cy="785.0" r="0.85" fill="#1f77b4"/><circle cx="850.3" cy="792.4" r="0.85" fill="#1f77b4"/><circle cx="898.8" cy="784.3" r="0.85" fill="#1f77b4"/><circle cx="942.4" cy="792.6" r="0.85" fill="#1f77b4"/><circle cx="875.9" cy="785.6" r="0.85" fill="#1f77b4"/><circle cx="860.1" cy="792.4" r="0.85" fill="#1f77b4"/><circle cx="911.5" cy="794.2" r="0.85" fill="#1f77b4"/><circle cx="856.1" cy="791.0" r="0.85" fill="#1f77b4"/><circle cx="872.4" cy="794.2" r="0.85" fill="#1f77b4"/><circle cx="865.4" cy="793.1" r="0.85" fill="#1f77b4"/><circle cx="808.6" cy="785.1" r="0.85" fill="#1f77b4"/><circle cx="810.4" cy="790.3" r="0.85" fill="#1f77b4"/><circle cx="882.9" cy="793.0" r="0.85" fill="#1f77b4"/><circle cx="834.4" cy="795.9" r="0.85" fill="#1f77b4"/><circle cx="856.7" cy="791.7" r="0.85" fill="#1f77b4"/><circle cx="873.4" cy="795.0" r="0.85" fill="#1f77b4"/><circle cx="913.0" cy="792.7" r="0.85" fill="#1f77b4"/><circle cx="802.6" cy="792.3" r="0.85" fill="#1f77b4"/><circle cx="945.4" cy="796.3" r="0.85" fill="#1f77b4"/><circle cx="889.7" cy="779.9" r="0.85" fill="#1f77b4"/><circle cx="855.8" cy="789.5" r="0.85" fill="#1f77b4"/><circle cx="856.2" cy="791.9" r="0.85" fill="#1f77b4"/><circle cx="892.1" cy="790.0" r="0.85" fill="#1f77b4"/><circle cx="848.2" cy="792.9" r="0.85" fill="#1f77b4"/><circle cx="878.2" cy="789.6" r="0.85" fill="#1f77b4"/><circle cx="809.1" cy="792.8" r="0.85" fill="#1f77b4"/><circle cx="838.8" cy="795.0" r="0.85" fill="#1f77b4"/><circle cx="919.9" cy="792.4" r="0.85" fill="#1f77b4"/><circle cx="929.5" cy="792.0" r="0.85" fill="#1f77b4"/><circle cx="843.8" cy="791.3" r="0.85" fill="#1f77b4"/><circle cx="814.0" cy="776.8" r="0.85" fill="#1f77b4"/><circle cx="925.3" cy="792.0" r="0.85" fill="#1f77b4"/><circle cx="848.6" cy="788.3" r="0.85" fill="#1f77b4"/><circle cx="918.8" cy="790.5" r="0.85" fill="#1f77b4"/><circle cx="809.7" cy="787.0" r="0.85" fill="#1f77b4"/><circle cx="808.4" cy="788.7" r="0.85" fill="#1f77b4"/><circle cx="883.6" cy="783.5" r="0.85" fill="#1f77b4"/><circle cx="896.5" cy="793.7" r="0.85" fill="#1f77b4"/><circle cx="940.6" cy="790.1" r="0.85" fill="#1f77b4"/><circle cx="887.7" cy="794.5" r="0.85" fill="#1f77b4"/><circle cx="911.1" cy="793.1" r="0.85" fill="#1f77b4"/><circle cx="902.6" cy="776.1" r="0.85" fill="#1f77b4"/><circle cx="938.0" cy="795.8" r="0.85" fill="#1f77b4"/><circle cx="917.8" cy="792.7" r="0.85" fill="#1f77b4"/><circle cx="913.3" cy="793.5" r="0.85" fill="#1f77b4"/><circle cx="868.0" cy="793.6" r="0.85" fill="#1f77b4"/><circle cx="818.8" cy="794.5" r="0.85" fill="#1f77b4"/><circle cx="910.8" cy="795.1" r="0.85" fill="#1f77b4"/><circle cx="818.5" cy="788.2" r="0.85" fill="#1f77b4"/><circle cx="900.6" cy="790.5" r="0.85" fill="#1f77b4"/><circle cx="818.1" cy="795.6" r="0.85" fill="#1f77b4"/><circle cx="847.5" cy="782.4" r="0.85" fill="#1f77b4"/><circle cx="884.8" cy="783.6" r="0.85" fill="#1f77b4"/><circle cx="832.7" cy="794.0" r="0.85" fill="#1f77b4"/><circle cx="881.2" cy="787.4" r="0.85" fill="#1f77b4"/><circle cx="819.6" cy="787.1" r="0.85" fill="#1f77b4"/><circle cx="871.7" cy="796.0" r="0.85" fill="#1f77b4"/><circle cx="865.7" cy="793.7" r="0.85" fill="#1f77b4"/><circle cx="901.8" cy="782.6" r="0.85" fill="#1f77b4"/><circle cx="874.9" cy="790.9" r="0.85" fill="#1f77b4"/><circle cx="859.1" cy="787.0" r="0.85" fill="#1f77b4"/><circle cx="816.9" cy="789.9" r="0.85" fill="#1f77b4"/><circle cx="826.1" cy="792.5" r="0.85" fill="#1f77b4"/><circle cx="831.4" cy="794.5" r="0.85" fill="#1f77b4"/><circle cx="825.7" cy="794.4" r="0.85" fill="#1f77b4"/><circle cx="889.4" cy="791.0" r="0.85" fill="#1f77b4"/><circle cx="859.2" cy="789.9" r="0.85" fill="#1f77b4"/><circle cx="926.9" cy="791.8" r="0.85" fill="#1f77b4"/><circle cx="888.3" cy="791.5" r="0.85" fill="#1f77b4"/><circle cx="947.5" cy="794.6" r="0.85" fill="#1f77b4"/><circle cx="905.3" cy="793.5" r="0.85" fill="#1f77b4"/><circle cx="840.2" cy="790.6" r="0.85" fill="#1f77b4"/><circle cx="887.0" cy="793.3" r="0.85" fill="#1f77b4"/><circle cx="810.8" cy="786.0" r="0.85" fill="#1f77b4"/><circle cx="857.5" cy="787.8" r="0.85" fill="#1f77b4"/><circle cx="865.8" cy="791.6" r="0.85" fill="#1f77b4"/><circle cx="884.7" cy="778.5" r="0.85" fill="#1f77b4"/><circle cx="936.9" cy="793.3" r="0.85" fill="#1f77b4"/><circle cx="873.8" cy="794.9" r="0.85" fill="#1f77b4"/><circle cx="913.6" cy="795.1" r="0.85" fill="#1f77b4"/><circle cx="846.9" cy="787.8" r="0.85" fill="#1f77b4"/><circle cx="806.5" cy="787.8" r="0.85" fill="#1f77b4"/><circle cx="886.0" cy="791.2" r="0.85" fill="#1f77b4"/><circle cx="850.9" cy="794.5" r="0.85" fill="#1f77b4"/><circle cx="943.1" cy="789.9" r="0.85" fill="#1f77b4"/><circle cx="921.4" cy="794.0" r="0.85" fill="#1f77b4"/><circle cx="918.2" cy="794.1" r="0.85" fill="#1f77b4"/><circle cx="830.9" cy="793.0" r="0.85" fill="#1f77b4"/><circle cx="892.2" cy="793.4" r="0.85" fill="#1f77b4"/><circle cx="915.3" cy="791.7" r="0.85" fill="#1f77b4"/><circle cx="935.4" cy="784.4" r="0.85" fill="#1f77b4"/><circle cx="904.0" cy="792.5" r="0.85" fill="#1f77b4"/><circle cx="943.1" cy="790.7" r="0.85" fill="#1f77b4"/><circle cx="844.6" cy="787.7" r="0.85" fill="#1f77b4"/><circle cx="909.7" cy="794.0" r="0.85" fill="#1f77b4"/><circle cx="838.4" cy="796.3" r="0.85" fill="#1f77b4"/><circle cx="881.4" cy="794.1" r="0.85" fill="#1f77b4"/><circle cx="844.9" cy="795.0" r="0.85" fill="#1f77b4"/><circle cx="820.8" cy="793.4" r="0.85" fill="#1f77b4"/><circle cx="841.9" cy="794.9" r="0.85" fill="#1f77b4"/><circle cx="842.6" cy="793.2" r="0.85" fill="#1f77b4"/><circle cx="931.6" cy="794.1" r="0.85" fill="#1f77b4"/><circle cx="929.5" cy="785.7" r="0.85" fill="#1f77b4"/><circle cx="892.1" cy="790.5" r="0.85" fill="#1f77b4"/><circle cx="910.7" cy="792.1" r="0.85" fill="#1f77b4"/><circle cx="899.7" cy="782.8" r="0.85" fill="#1f77b4"/><circle cx="916.9" cy="794.1" r="0.85" fill="#1f77b4"/><circle cx="809.3" cy="781.1" r="0.85" fill="#1f77b4"/><circle cx="855.3" cy="786.8" r="0.85" fill="#1f77b4"/><circle cx="836.0" cy="793.7" r="0.85" fill="#1f77b4"/><circle cx="856.5" cy="787.7" r="0.85" fill="#1f77b4"/><circle cx="942.0" cy="793.2" r="0.85" fill="#1f77b4"/><circle cx="885.7" cy="792.9" r="0.85" fill="#1f77b4"/><circle cx="835.9" cy="783.1" r="0.85" fill="#1f77b4"/><circle cx="817.7" cy="783.6" r="0.85" fill="#1f77b4"/><circle cx="899.2" cy="793.6" r="0.85" fill="#1f77b4"/><circle cx="935.7" cy="795.4" r="0.85" fill="#1f77b4"/><circle cx="885.6" cy="794.2" r="0.85" fill="#1f77b4"/><circle cx="948.7" cy="796.3" r="0.85" fill="#1f77b4"/><circle cx="931.3" cy="794.5" r="0.85" fill="#1f77b4"/><circle cx="900.6" cy="793.7" r="0.85" fill="#1f77b4"/><circle cx="805.6" cy="789.6" r="0.85" fill="#1f77b4"/><circle cx="947.8" cy="791.2" r="0.85" fill="#1f77b4"/><circle cx="928.8" cy="787.3" r="0.85" fill="#1f77b4"/><circle cx="879.0" cy="795.4" r="0.85" fill="#1f77b4"/><circle cx="879.8" cy="794.7" r="0.85" fill="#1f77b4"/><circle cx="879.8" cy="793.7" r="0.85" fill="#1f77b4"/><circle cx="875.7" cy="795.0" r="0.85" fill="#1f77b4"/><circle cx="906.4" cy="792.5" r="0.85" fill="#1f77b4"/><circle cx="873.7" cy="795.8" r="0.85" fill="#1f77b4"/><circle cx="873.9" cy="792.5" r="0.85" fill="#1f77b4"/><circle cx="946.3" cy="792.7" r="0.85" fill="#1f77b4"/><circle cx="821.3" cy="794.7" r="0.85" fill="#1f77b4"/><circle cx="851.3" cy="789.7" r="0.85" fill="#1f77b4"/><circle cx="941.3" cy="779.8" r="0.85" fill="#1f77b4"/><circle cx="942.9" cy="784.9" r="0.85" fill="#1f77b4"/><circle cx="929.3" cy="782.1" r="0.85" fill="#1f77b4"/><circle cx="804.2" cy="790.9" r="0.85" fill="#1f77b4"/><circle cx="889.3" cy="789.1" r="0.85" fill="#1f77b4"/><circle cx="892.6" cy="789.7" r="0.85" fill="#1f77b4"/><circle cx="940.4" cy="795.9" r="0.85" fill="#1f77b4"/><circle cx="878.7" cy="781.6" r="0.85" fill="#1f77b4"/><circle cx="806.0" cy="792.7" r="0.85" fill="#1f77b4"/><circle cx="930.9" cy="780.7" r="0.85" fill="#1f77b4"/><circle cx="804.8" cy="793.5" r="0.85" fill="#1f77b4"/><circle cx="925.0" cy="788.6" r="0.85" fill="#1f77b4"/><circle cx="878.8" cy="791.9" r="0.85" fill="#1f77b4"/><circle cx="914.2" cy="788.3" r="0.85" fill="#1f77b4"/><circle cx="801.3" cy="794.8" r="0.85" fill="#1f77b4"/><circle cx="919.7" cy="778.5" r="0.85" fill="#1f77b4"/><circle cx="925.5" cy="791.4" r="0.85" fill="#1f77b4"/><circle cx="851.3" cy="793.2" r="0.85" fill="#1f77b4"/><circle cx="803.4" cy="787.7" r="0.85" fill="#1f77b4"/><circle cx="840.3" cy="792.5" r="0.85" fill="#1f77b4"/><circle cx="879.7" cy="793.8" r="0.85" fill="#1f77b4"/><circle cx="901.9" cy="791.5" r="0.85" fill="#1f77b4"/><circle cx="836.2" cy="786.9" r="0.85" fill="#1f77b4"/><circle cx="827.4" cy="795.6" r="0.85" fill="#1f77b4"/><circle cx="839.0" cy="793.5" r="0.85" fill="#1f77b4"/><circle cx="918.1" cy="793.4" r="0.85" fill="#1f77b4"/><circle cx="836.8" cy="791.7" r="0.85" fill="#1f77b4"/><circle cx="840.0" cy="793.1" r="0.85" fill="#1f77b4"/><circle cx="839.2" cy="787.1" r="0.85" fill="#1f77b4"/><circle cx="828.7" cy="795.2" r="0.85" fill="#1f77b4"/><circle cx="846.2" cy="794.4" r="0.85" fill="#1f77b4"/><circle cx="909.6" cy="790.4" r="0.85" fill="#1f77b4"/><circle cx="919.1" cy="791.6" r="0.85" fill="#1f77b4"/><circle cx="812.9" cy="788.3" r="0.85" fill="#1f77b4"/><circle cx="837.7" cy="795.3" r="0.85" fill="#1f77b4"/><circle cx="863.0" cy="774.8" r="0.85" fill="#1f77b4"/><circle cx="856.5" cy="791.5" r="0.85" fill="#1f77b4"/><circle cx="937.1" cy="775.5" r="0.85" fill="#1f77b4"/><circle cx="859.0" cy="793.0" r="0.85" fill="#1f77b4"/><circle cx="919.0" cy="788.3" r="0.85" fill="#1f77b4"/><circle cx="851.7" cy="788.0" r="0.85" fill="#1f77b4"/><circle cx="857.8" cy="791.9" r="0.85" fill="#1f77b4"/><circle cx="889.7" cy="788.2" r="0.85" fill="#1f77b4"/><circle cx="872.2" cy="788.6" r="0.85" fill="#1f77b4"/><circle cx="803.3" cy="791.2" r="0.85" fill="#1f77b4"/><circle cx="858.0" cy="793.1" r="0.85" fill="#1f77b4"/><circle cx="937.6" cy="795.4" r="0.85" fill="#1f77b4"/><circle cx="831.9" cy="787.0" r="0.85" fill="#1f77b4"/><circle cx="944.5" cy="784.5" r="0.85" fill="#1f77b4"/><circle cx="852.2" cy="782.9" r="0.85" fill="#1f77b4"/><circle cx="822.4" cy="790.8" r="0.85" fill="#1f77b4"/><circle cx="942.3" cy="795.4" r="0.85" fill="#1f77b4"/><circle cx="821.5" cy="791.3" r="0.85" fill="#1f77b4"/><circle cx="932.9" cy="789.5" r="0.85" fill="#1f77b4"/><circle cx="942.8" cy="793.7" r="0.85" fill="#1f77b4"/><circle cx="856.8" cy="792.8" r="0.85" fill="#1f77b4"/><circle cx="841.9" cy="784.0" r="0.85" fill="#1f77b4"/><circle cx="811.9" cy="793.3" r="0.85" fill="#1f77b4"/><circle cx="853.1" cy="794.2" r="0.85" fill="#1f77b4"/><circle cx="847.0" cy="795.2" r="0.85" fill="#1f77b4"/><circle cx="819.5" cy="792.9" r="0.85" fill="#1f77b4"/><circle cx="881.8" cy="791.7" r="0.85" fill="#1f77b4"/><circle cx="914.9" cy="792.3" r="0.85" fill="#1f77b4"/><circle cx="942.5" cy="795.9" r="0.85" fill="#1f77b4"/><circle cx="834.5" cy="796.0" r="0.85" fill="#1f77b4"/><circle cx="847.4" cy="789.7" r="0.85" fill="#1f77b4"/><circle cx="939.1" cy="793.1" r="0.85" fill="#1f77b4"/><circle cx="825.1" cy="794.6" r="0.85" fill="#1f77b4"/><circle cx="886.0" cy="793.2" r="0.85" fill="#1f77b4"/><circle cx="919.5" cy="779.0" r="0.85" fill="#1f77b4"/><circle cx="869.8" cy="792.1" r="0.85" fill="#1f77b4"/><circle cx="927.4" cy="791.1" r="0.85" fill="#1f77b4"/><circle cx="829.7" cy="783.6" r="0.85" fill="#1f77b4"/><circle cx="947.1" cy="796.2" r="0.85" fill="#1f77b4"/><circle cx="915.0" cy="793.3" r="0.85" fill="#1f77b4"/><circle cx="809.0" cy="792.4" r="0.85" fill="#1f77b4"/><circle cx="827.0" cy="790.5" r="0.85" fill="#1f77b4"/><circle cx="832.8" cy="796.3" r="0.85" fill="#1f77b4"/><circle cx="834.0" cy="789.3" r="0.85" fill="#1f77b4"/><circle cx="875.7" cy="791.3" r="0.85" fill="#1f77b4"/><circle cx="870.6" cy="795.3" r="0.85" fill="#1f77b4"/><circle cx="803.5" cy="792.6" r="0.85" fill="#1f77b4"/><circle cx="807.4" cy="791.7" r="0.85" fill="#1f77b4"/><circle cx="893.5" cy="791.8" r="0.85" fill="#1f77b4"/><circle cx="871.8" cy="791.9" r="0.85" fill="#1f77b4"/><circle cx="848.5" cy="793.9" r="0.85" fill="#1f77b4"/><circle cx="933.1" cy="791.4" r="0.85" fill="#1f77b4"/><circle cx="863.4" cy="791.8" r="0.85" fill="#1f77b4"/><circle cx="869.9" cy="794.4" r="0.85" fill="#1f77b4"/><circle cx="937.5" cy="794.9" r="0.85" fill="#1f77b4"/><circle cx="940.8" cy="787.8" r="0.85" fill="#1f77b4"/><circle cx="932.8" cy="794.4" r="0.85" fill="#1f77b4"/><circle cx="877.1" cy="777.5" r="0.85" fill="#1f77b4"/><circle cx="844.3" cy="795.5" r="0.85" fill="#1f77b4"/><circle cx="909.1" cy="794.1" r="0.85" fill="#1f77b4"/><circle cx="888.3" cy="793.6" r="0.85" fill="#1f77b4"/><circle cx="942.6" cy="794.8" r="0.85" fill="#1f77b4"/><circle cx="815.7" cy="790.5" r="0.85" fill="#1f77b4"/><circle cx="853.0" cy="790.8" r="0.85" fill="#1f77b4"/><circle cx="875.4" cy="784.7" r="0.85" fill="#1f77b4"/><circle cx="877.9" cy="793.7" r="0.85" fill="#1f77b4"/><circle cx="801.5" cy="792.0" r="0.85" fill="#1f77b4"/><circle cx="841.4" cy="792.6" r="0.85" fill="#1f77b4"/><circle cx="895.5" cy="791.0" r="0.85" fill="#1f77b4"/><circle cx="814.6" cy="792.3" r="0.85" fill="#1f77b4"/><circle cx="873.1" cy="791.6" r="0.85" fill="#1f77b4"/><circle cx="945.9" cy="794.9" r="0.85" fill="#1f77b4"/><circle cx="867.3" cy="795.7" r="0.85" fill="#1f77b4"/><circle cx="920.6" cy="793.5" r="0.85" fill="#1f77b4"/><circle cx="924.9" cy="786.7" r="0.85" fill="#1f77b4"/><circle cx="839.2" cy="786.0" r="0.85" fill="#1f77b4"/><circle cx="876.4" cy="793.5" r="0.85" fill="#1f77b4"/><circle cx="884.0" cy="782.2" r="0.85" fill="#1f77b4"/><circle cx="874.3" cy="793.2" r="0.85" fill="#1f77b4"/><circle cx="844.6" cy="788.2" r="0.85" fill="#1f77b4"/><circle cx="876.3" cy="794.1" r="0.85" fill="#1f77b4"/><circle cx="830.5" cy="795.3" r="0.85" fill="#1f77b4"/><circle cx="925.7" cy="786.6" r="0.85" fill="#1f77b4"/><circle cx="947.2" cy="785.3" r="0.85" fill="#1f77b4"/><circle cx="903.4" cy="787.4" r="0.85" fill="#1f77b4"/><circle cx="907.4" cy="787.7" r="0.85" fill="#1f77b4"/><circle cx="920.8" cy="793.7" r="0.85" fill="#1f77b4"/><circle cx="922.8" cy="792.5" r="0.85" fill="#1f77b4"/><circle cx="837.6" cy="785.2" r="0.85" fill="#1f77b4"/><circle cx="804.6" cy="790.5" r="0.85" fill="#1f77b4"/><circle cx="852.4" cy="787.7" r="0.85" fill="#1f77b4"/><circle cx="892.3" cy="783.2" r="0.85" fill="#1f77b4"/><circle cx="940.3" cy="791.7" r="0.85" fill="#1f77b4"/><circle cx="810.8" cy="788.9" r="0.85" fill="#1f77b4"/><circle cx="817.5" cy="778.2" r="0.85" fill="#1f77b4"/><circle cx="931.2" cy="793.1" r="0.85" fill="#1f77b4"/><circle cx="829.0" cy="791.1" r="0.85" fill="#1f77b4"/><circle cx="914.3" cy="777.1" r="0.85" fill="#1f77b4"/><circle cx="894.1" cy="793.2" r="0.85" fill="#1f77b4"/><circle cx="909.6" cy="795.1" r="0.85" fill="#1f77b4"/><circle cx="930.7" cy="788.1" r="0.85" fill="#1f77b4"/><circle cx="918.4" cy="786.0" r="0.85" fill="#1f77b4"/><circle cx="886.1" cy="782.0" r="0.85" fill="#1f77b4"/><circle cx="896.6" cy="790.8" r="0.85" fill="#1f77b4"/><circle cx="858.6" cy="791.6" r="0.85" fill="#1f77b4"/><circle cx="804.6" cy="792.9" r="0.85" fill="#1f77b4"/><circle cx="919.9" cy="793.7" r="0.85" fill="#1f77b4"/><circle cx="898.7" cy="787.3" r="0.85" fill="#1f77b4"/><circle cx="904.8" cy="791.4" r="0.85" fill="#1f77b4"/><circle cx="848.4" cy="794.5" r="0.85" fill="#1f77b4"/><circle cx="829.2" cy="791.7" r="0.85" fill="#1f77b4"/><circle cx="903.6" cy="781.9" r="0.85" fill="#1f77b4"/><circle cx="850.5" cy="783.8" r="0.85" fill="#1f77b4"/><circle cx="937.2" cy="794.5" r="0.85" fill="#1f77b4"/><circle cx="943.2" cy="792.1" r="0.85" fill="#1f77b4"/><circle cx="944.8" cy="789.8" r="0.85" fill="#1f77b4"/><circle cx="850.9" cy="793.7" r="0.85" fill="#1f77b4"/><circle cx="879.2" cy="792.7" r="0.85" fill="#1f77b4"/><circle cx="806.5" cy="784.4" r="0.85" fill="#1f77b4"/><circle cx="881.1" cy="792.6" r="0.85" fill="#1f77b4"/><circle cx="912.3" cy="794.3" r="0.85" fill="#1f77b4"/><circle cx="830.9" cy="792.5" r="0.85" fill="#1f77b4"/><circle cx="837.2" cy="794.6" r="0.85" fill="#1f77b4"/><circle cx="811.7" cy="793.9" r="0.85" fill="#1f77b4"/><circle cx="854.2" cy="790.6" r="0.85" fill="#1f77b4"/><circle cx="942.8" cy="791.8" r="0.85" fill="#1f77b4"/><circle cx="863.0" cy="792.8" r="0.85" fill="#1f77b4"/><circle cx="836.3" cy="793.5" r="0.85" fill="#1f77b4"/><circle cx="926.6" cy="645.7" r="0.85" fill="#1f77b4"/><circle cx="884.8" cy="676.7" r="0.85" fill="#1f77b4"/><circle cx="887.4" cy="687.0" r="0.85" fill="#1f77b4"/><circle cx="914.4" cy="692.9" r="0.85" fill="#1f77b4"/><circle cx="857.2" cy="702.4" r="0.85" fill="#1f77b4"/><circle cx="924.0" cy="701.7" r="0.85" fill="#1f77b4"/><circle cx="932.4" cy="706.9" r="0.85" fill="#1f77b4"/><circle cx="894.5" cy="713.5" r="0.85" fill="#1f77b4"/><circle cx="926.6" cy="715.0" r="0.85" fill="#1f77b4"/><circle cx="930.5" cy="720.8" r="0.85" fill="#1f77b4"/><circle cx="865.5" cy="724.5" r="0.85" fill="#1f77b4"/><circle cx="920.8" cy="734.1" r="0.85" fill="#1f77b4"/><circle cx="936.9" cy="734.1" r="0.85" fill="#1f77b4"/><circle cx="863.6" cy="737.1" r="0.85" fill="#1f77b4"/><circle cx="927.9" cy="742.2" r="0.85" fill="#1f77b4"/><circle cx="932.4" cy="743.7" r="0.85" fill="#1f77b4"/><circle cx="863.6" cy="748.1" r="0.85" fill="#1f77b4"/><circle cx="890.6" cy="749.6" r="0.85" fill="#1f77b4"/><circle cx="926.6" cy="752.5" r="0.85" fill="#1f77b4"/><circle cx="922.7" cy="754.0" r="0.85" fill="#1f77b4"/><circle cx="877.1" cy="754.7" r="0.85" fill="#1f77b4"/><circle cx="910.5" cy="756.2" r="0.85" fill="#1f77b4"/><circle cx="919.5" cy="756.2" r="0.85" fill="#1f77b4"/><circle cx="919.5" cy="759.2" r="0.85" fill="#1f77b4"/><circle cx="905.4" cy="759.9" r="0.85" fill="#1f77b4"/><circle cx="918.9" cy="761.4" r="0.85" fill="#1f77b4"/><circle cx="923.4" cy="763.6" r="0.85" fill="#1f77b4"/><circle cx="863.6" cy="762.1" r="0.85" fill="#1f77b4"/><circle cx="859.1" cy="762.8" r="0.85" fill="#1f77b4"/><circle cx="904.1" cy="765.8" r="0.85" fill="#1f77b4"/><circle cx="853.9" cy="765.8" r="0.85" fill="#1f77b4"/><circle cx="843.0" cy="765.8" r="0.85" fill="#1f77b4"/><circle cx="826.3" cy="768.0" r="0.85" fill="#1f77b4"/><circle cx="886.1" cy="765.0" r="0.85" fill="#1f77b4"/><circle cx="894.5" cy="765.0" r="0.85" fill="#1f77b4"/><circle cx="897.7" cy="765.0" r="0.85" fill="#1f77b4"/><circle cx="909.2" cy="765.8" r="0.85" fill="#1f77b4"/><circle cx="916.3" cy="765.0" r="0.85" fill="#1f77b4"/><circle cx="927.9" cy="764.3" r="0.85" fill="#1f77b4"/><circle cx="944.6" cy="765.0" r="0.85" fill="#1f77b4"/><circle cx="860.4" cy="767.3" r="0.85" fill="#1f77b4"/><circle cx="811.5" cy="772.4" r="0.85" fill="#1f77b4"/><circle cx="812.8" cy="774.6" r="0.85" fill="#1f77b4"/><circle cx="832.1" cy="771.7" r="0.85" fill="#1f77b4"/><circle cx="826.9" cy="775.4" r="0.85" fill="#1f77b4"/><circle cx="805.7" cy="776.8" r="0.85" fill="#1f77b4"/><circle cx="928.5" cy="769.5" r="0.85" fill="#1f77b4"/><circle cx="932.4" cy="770.2" r="0.85" fill="#1f77b4"/><circle cx="944.6" cy="770.9" r="0.85" fill="#1f77b4"/><circle cx="947.2" cy="773.1" r="0.85" fill="#1f77b4"/><circle cx="915.7" cy="771.7" r="0.85" fill="#1f77b4"/><circle cx="891.9" cy="773.9" r="0.85" fill="#1f77b4"/><circle cx="900.9" cy="775.4" r="0.85" fill="#1f77b4"/>
<rect x="785.4" y="638.4" width="174.3" height="170.0" fill="none" stroke="#000" stroke-width="0.95"/>
<path d="M785.4 800.4 H781.3" stroke="#000" stroke-width="0.95"/><text x="777.5" y="804.6" font-size="11.2" text-anchor="end">0</text>
<path d="M785.4 763.6 H781.3" stroke="#000" stroke-width="0.95"/><text x="777.5" y="767.8" font-size="11.2" text-anchor="end">5</text>
<path d="M785.4 726.7 H781.3" stroke="#000" stroke-width="0.95"/><text x="777.5" y="730.9" font-size="11.2" text-anchor="end">10</text>
<path d="M785.4 689.9 H781.3" stroke="#000" stroke-width="0.95"/><text x="777.5" y="694.1" font-size="11.2" text-anchor="end">15</text>
<path d="M785.4 653.1 H781.3" stroke="#000" stroke-width="0.95"/><text x="777.5" y="657.3" font-size="11.2" text-anchor="end">20</text>
<path d="M844.3 808.4 V812.5" stroke="#000" stroke-width="0.95"/><text x="844.3" y="826.1" font-size="11.2" text-anchor="middle">−80</text>
<path d="M908.6 808.4 V812.5" stroke="#000" stroke-width="0.95"/><text x="908.6" y="826.1" font-size="11.2" text-anchor="middle">−70</text>
<text x="872.5" y="842.5" font-size="11.8" text-anchor="middle">Latitude (degs)</text>
<text transform="translate(753.5 723.5) rotate(-90)" font-size="11.8" text-anchor="middle">Uncertainty</text>
</g>
</svg>
</body></html>
